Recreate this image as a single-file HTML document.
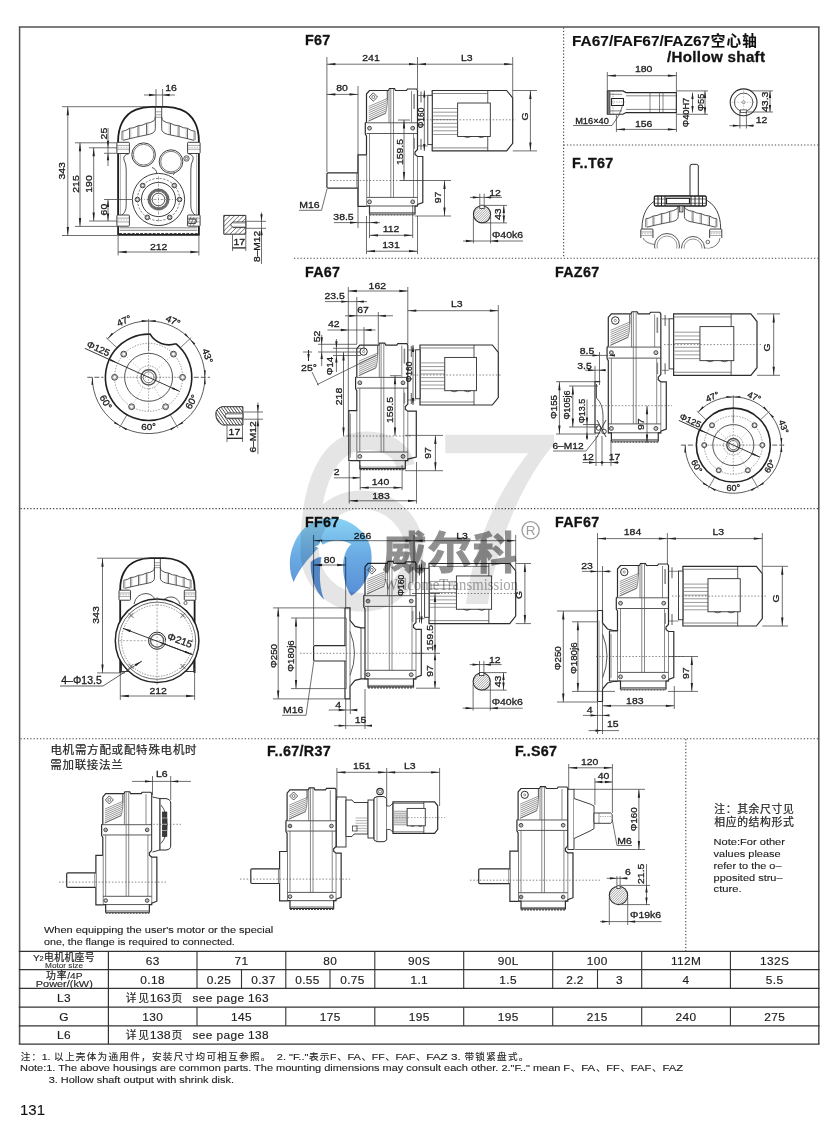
<!DOCTYPE html>
<html><head><meta charset="utf-8"><title>F67</title>
<style>html,body{margin:0;padding:0;background:#fff}svg{display:block}text{font-family:"Liberation Sans","Noto Sans CJK SC",sans-serif;stroke:#222;stroke-width:.3px;paint-order:stroke}</style>
</head><body>
<svg width="840" height="1126" viewBox="0 0 840 1126">
<rect width="840" height="1126" fill="#fff"/>
<line x1="18.80" y1="27.00" x2="819.60" y2="27.00" stroke="#505050" stroke-width="1.50"/>
<line x1="19.60" y1="27.00" x2="19.60" y2="1044.00" stroke="#505050" stroke-width="1.50"/>
<line x1="818.80" y1="27.00" x2="818.80" y2="1044.00" stroke="#505050" stroke-width="1.50"/>
<line x1="294.00" y1="258.20" x2="819.00" y2="258.20" stroke="#4a4a4a" stroke-width="1.15" stroke-dasharray="1.3 1.95"/>
<line x1="563.60" y1="27.50" x2="563.60" y2="258.20" stroke="#4a4a4a" stroke-width="1.15" stroke-dasharray="1.3 1.95"/>
<line x1="563.60" y1="145.00" x2="819.00" y2="145.00" stroke="#4a4a4a" stroke-width="1.15" stroke-dasharray="1.3 1.95"/>
<line x1="20.50" y1="508.60" x2="819.00" y2="508.60" stroke="#4a4a4a" stroke-width="1.15" stroke-dasharray="1.3 1.95"/>
<line x1="20.50" y1="738.70" x2="819.00" y2="738.70" stroke="#4a4a4a" stroke-width="1.15" stroke-dasharray="1.3 1.95"/>
<line x1="685.80" y1="739.00" x2="685.80" y2="951.00" stroke="#4a4a4a" stroke-width="1.15" stroke-dasharray="1.3 1.95"/>
<line x1="18.80" y1="951.40" x2="819.60" y2="951.40" stroke="#333" stroke-width="1.25"/>
<line x1="18.80" y1="969.70" x2="819.60" y2="969.70" stroke="#333" stroke-width="1.25"/>
<line x1="18.80" y1="988.40" x2="819.60" y2="988.40" stroke="#333" stroke-width="1.25"/>
<line x1="18.80" y1="1007.20" x2="819.60" y2="1007.20" stroke="#333" stroke-width="1.25"/>
<line x1="18.80" y1="1025.80" x2="819.60" y2="1025.80" stroke="#333" stroke-width="1.25"/>
<line x1="18.80" y1="1044.00" x2="819.60" y2="1044.00" stroke="#333" stroke-width="1.25"/>
<line x1="108.40" y1="951.40" x2="108.40" y2="1044.00" stroke="#333" stroke-width="1.20"/>
<line x1="197.00" y1="951.40" x2="197.00" y2="988.40" stroke="#333" stroke-width="1.10"/>
<line x1="197.00" y1="1007.20" x2="197.00" y2="1025.80" stroke="#333" stroke-width="1.10"/>
<line x1="285.80" y1="951.40" x2="285.80" y2="988.40" stroke="#333" stroke-width="1.10"/>
<line x1="285.80" y1="1007.20" x2="285.80" y2="1025.80" stroke="#333" stroke-width="1.10"/>
<line x1="374.80" y1="951.40" x2="374.80" y2="988.40" stroke="#333" stroke-width="1.10"/>
<line x1="374.80" y1="1007.20" x2="374.80" y2="1025.80" stroke="#333" stroke-width="1.10"/>
<line x1="463.70" y1="951.40" x2="463.70" y2="988.40" stroke="#333" stroke-width="1.10"/>
<line x1="463.70" y1="1007.20" x2="463.70" y2="1025.80" stroke="#333" stroke-width="1.10"/>
<line x1="552.70" y1="951.40" x2="552.70" y2="988.40" stroke="#333" stroke-width="1.10"/>
<line x1="552.70" y1="1007.20" x2="552.70" y2="1025.80" stroke="#333" stroke-width="1.10"/>
<line x1="641.70" y1="951.40" x2="641.70" y2="988.40" stroke="#333" stroke-width="1.10"/>
<line x1="641.70" y1="1007.20" x2="641.70" y2="1025.80" stroke="#333" stroke-width="1.10"/>
<line x1="730.40" y1="951.40" x2="730.40" y2="988.40" stroke="#333" stroke-width="1.10"/>
<line x1="730.40" y1="1007.20" x2="730.40" y2="1025.80" stroke="#333" stroke-width="1.10"/>
<line x1="241.50" y1="969.70" x2="241.50" y2="988.40" stroke="#333" stroke-width="1.10"/>
<line x1="330.00" y1="969.70" x2="330.00" y2="988.40" stroke="#333" stroke-width="1.10"/>
<line x1="597.50" y1="969.70" x2="597.50" y2="988.40" stroke="#333" stroke-width="1.10"/>
<text transform="translate(152.65,961.30) rotate(0.0) scale(1.100,1)" y="3.89" font-size="10.80" text-anchor="middle" fill="#1c1c1c" style="stroke-width:0.15px" letter-spacing="0.35">63</text>
<text transform="translate(241.40,961.30) rotate(0.0) scale(1.100,1)" y="3.89" font-size="10.80" text-anchor="middle" fill="#1c1c1c" style="stroke-width:0.15px" letter-spacing="0.35">71</text>
<text transform="translate(330.30,961.30) rotate(0.0) scale(1.100,1)" y="3.89" font-size="10.80" text-anchor="middle" fill="#1c1c1c" style="stroke-width:0.15px" letter-spacing="0.35">80</text>
<text transform="translate(419.25,961.30) rotate(0.0) scale(1.100,1)" y="3.89" font-size="10.80" text-anchor="middle" fill="#1c1c1c" style="stroke-width:0.15px" letter-spacing="0.35">90S</text>
<text transform="translate(508.20,961.30) rotate(0.0) scale(1.100,1)" y="3.89" font-size="10.80" text-anchor="middle" fill="#1c1c1c" style="stroke-width:0.15px" letter-spacing="0.35">90L</text>
<text transform="translate(597.20,961.30) rotate(0.0) scale(1.100,1)" y="3.89" font-size="10.80" text-anchor="middle" fill="#1c1c1c" style="stroke-width:0.15px" letter-spacing="0.35">100</text>
<text transform="translate(686.05,961.30) rotate(0.0) scale(1.100,1)" y="3.89" font-size="10.80" text-anchor="middle" fill="#1c1c1c" style="stroke-width:0.15px" letter-spacing="0.35">112M</text>
<text transform="translate(774.70,961.30) rotate(0.0) scale(1.100,1)" y="3.89" font-size="10.80" text-anchor="middle" fill="#1c1c1c" style="stroke-width:0.15px" letter-spacing="0.35">132S</text>
<text transform="translate(152.65,979.80) rotate(0.0) scale(1.100,1)" y="3.89" font-size="10.80" text-anchor="middle" fill="#1c1c1c" style="stroke-width:0.15px" letter-spacing="0.35">0.18</text>
<text transform="translate(219.00,979.80) rotate(0.0) scale(1.100,1)" y="3.89" font-size="10.80" text-anchor="middle" fill="#1c1c1c" style="stroke-width:0.15px" letter-spacing="0.35">0.25</text>
<text transform="translate(263.50,979.80) rotate(0.0) scale(1.100,1)" y="3.89" font-size="10.80" text-anchor="middle" fill="#1c1c1c" style="stroke-width:0.15px" letter-spacing="0.35">0.37</text>
<text transform="translate(307.50,979.80) rotate(0.0) scale(1.100,1)" y="3.89" font-size="10.80" text-anchor="middle" fill="#1c1c1c" style="stroke-width:0.15px" letter-spacing="0.35">0.55</text>
<text transform="translate(352.50,979.80) rotate(0.0) scale(1.100,1)" y="3.89" font-size="10.80" text-anchor="middle" fill="#1c1c1c" style="stroke-width:0.15px" letter-spacing="0.35">0.75</text>
<text transform="translate(419.25,979.80) rotate(0.0) scale(1.100,1)" y="3.89" font-size="10.80" text-anchor="middle" fill="#1c1c1c" style="stroke-width:0.15px" letter-spacing="0.35">1.1</text>
<text transform="translate(508.20,979.80) rotate(0.0) scale(1.100,1)" y="3.89" font-size="10.80" text-anchor="middle" fill="#1c1c1c" style="stroke-width:0.15px" letter-spacing="0.35">1.5</text>
<text transform="translate(575.00,979.80) rotate(0.0) scale(1.100,1)" y="3.89" font-size="10.80" text-anchor="middle" fill="#1c1c1c" style="stroke-width:0.15px" letter-spacing="0.35">2.2</text>
<text transform="translate(619.50,979.80) rotate(0.0) scale(1.100,1)" y="3.89" font-size="10.80" text-anchor="middle" fill="#1c1c1c" style="stroke-width:0.15px" letter-spacing="0.35">3</text>
<text transform="translate(686.05,979.80) rotate(0.0) scale(1.100,1)" y="3.89" font-size="10.80" text-anchor="middle" fill="#1c1c1c" style="stroke-width:0.15px" letter-spacing="0.35">4</text>
<text transform="translate(774.70,979.80) rotate(0.0) scale(1.100,1)" y="3.89" font-size="10.80" text-anchor="middle" fill="#1c1c1c" style="stroke-width:0.15px" letter-spacing="0.35">5.5</text>
<text transform="translate(152.65,1016.80) rotate(0.0) scale(1.100,1)" y="3.89" font-size="10.80" text-anchor="middle" fill="#1c1c1c" style="stroke-width:0.15px" letter-spacing="0.35">130</text>
<text transform="translate(241.40,1016.80) rotate(0.0) scale(1.100,1)" y="3.89" font-size="10.80" text-anchor="middle" fill="#1c1c1c" style="stroke-width:0.15px" letter-spacing="0.35">145</text>
<text transform="translate(330.30,1016.80) rotate(0.0) scale(1.100,1)" y="3.89" font-size="10.80" text-anchor="middle" fill="#1c1c1c" style="stroke-width:0.15px" letter-spacing="0.35">175</text>
<text transform="translate(419.25,1016.80) rotate(0.0) scale(1.100,1)" y="3.89" font-size="10.80" text-anchor="middle" fill="#1c1c1c" style="stroke-width:0.15px" letter-spacing="0.35">195</text>
<text transform="translate(508.20,1016.80) rotate(0.0) scale(1.100,1)" y="3.89" font-size="10.80" text-anchor="middle" fill="#1c1c1c" style="stroke-width:0.15px" letter-spacing="0.35">195</text>
<text transform="translate(597.20,1016.80) rotate(0.0) scale(1.100,1)" y="3.89" font-size="10.80" text-anchor="middle" fill="#1c1c1c" style="stroke-width:0.15px" letter-spacing="0.35">215</text>
<text transform="translate(686.05,1016.80) rotate(0.0) scale(1.100,1)" y="3.89" font-size="10.80" text-anchor="middle" fill="#1c1c1c" style="stroke-width:0.15px" letter-spacing="0.35">240</text>
<text transform="translate(774.70,1016.80) rotate(0.0) scale(1.100,1)" y="3.89" font-size="10.80" text-anchor="middle" fill="#1c1c1c" style="stroke-width:0.15px" letter-spacing="0.35">275</text>
<text transform="translate(64.00,998.30) rotate(0.0) scale(1.100,1)" y="3.89" font-size="10.80" text-anchor="middle" fill="#1c1c1c" style="stroke-width:0.15px" letter-spacing="0.35">L3</text>
<text transform="translate(64.00,1016.80) rotate(0.0) scale(1.100,1)" y="3.89" font-size="10.80" text-anchor="middle" fill="#1c1c1c" style="stroke-width:0.15px" letter-spacing="0.35">G</text>
<text transform="translate(64.00,1035.30) rotate(0.0) scale(1.100,1)" y="3.89" font-size="10.80" text-anchor="middle" fill="#1c1c1c" style="stroke-width:0.15px" letter-spacing="0.35">L6</text>
<g fill="#222"><text x="125.81 138.24" y="1002.20" font-size="10.80" style="stroke-width:.12px">详见</text><text x="149.85" y="1002.20" font-size="10.80" textLength="20.73" lengthAdjust="spacingAndGlyphs" style="stroke-width:.12px">163</text><text x="171.39" y="1002.20" font-size="10.80" style="stroke-width:.12px">页</text></g>
<text transform="translate(192.50,998.30) rotate(0.0) scale(1.100,1)" y="3.89" font-size="10.80" text-anchor="start" fill="#1c1c1c" style="stroke-width:0.15px" letter-spacing="0.35">see page 163</text>
<g fill="#222"><text x="125.81 138.24" y="1039.20" font-size="10.80" style="stroke-width:.12px">详见</text><text x="149.85" y="1039.20" font-size="10.80" textLength="20.73" lengthAdjust="spacingAndGlyphs" style="stroke-width:.12px">138</text><text x="171.39" y="1039.20" font-size="10.80" style="stroke-width:.12px">页</text></g>
<text transform="translate(192.50,1035.30) rotate(0.0) scale(1.100,1)" y="3.89" font-size="10.80" text-anchor="start" fill="#1c1c1c" style="stroke-width:0.15px" letter-spacing="0.35">see page 138</text>
<g fill="#222"><text x="33.00" y="960.60" font-size="9.50" textLength="6.80" lengthAdjust="spacingAndGlyphs" style="stroke-width:.12px">Y</text></g>
<g fill="#222"><text x="39.60" y="961.20" font-size="6.80" textLength="4.20" lengthAdjust="spacingAndGlyphs" style="stroke-width:.12px">2</text></g>
<g fill="#222"><text x="44.00 54.20 64.40 74.60 84.80" y="960.60" font-size="9.80" style="stroke-width:.2px">电机机座号</text></g>
<text transform="translate(64.00,966.00) rotate(0.0) scale(1.248,1)" y="2.38" font-size="6.60" text-anchor="middle" fill="#333" style="stroke-width:0.10px">Motor size</text>
<g fill="#222"><text x="46.02 56.87" y="978.80" font-size="9.80" style="stroke-width:.2px">功率</text><text x="67.20" y="978.80" font-size="9.40" textLength="15.30" lengthAdjust="spacingAndGlyphs" style="stroke-width:.12px">/4P</text></g>
<text transform="translate(64.30,984.00) rotate(0.0) scale(1.213,1)" y="3.24" font-size="9.00" text-anchor="middle" fill="#1c1c1c" style="stroke-width:0.12px">Power/(kW)</text>
<g fill="#222"><text x="20.64 31.51" y="1059.80" font-size="9.60" style="stroke-width:.12px">注：</text><text x="41.75" y="1059.80" font-size="9.30" textLength="8.79" lengthAdjust="spacingAndGlyphs" style="stroke-width:.12px">1.</text><text x="54.11 64.98 75.86 86.74 97.61 108.49 119.37 130.24 141.12 151.99 162.87 173.75 184.62 195.50 206.38 217.25 228.13 239.01 249.88 260.76" y="1059.80" font-size="9.60" style="stroke-width:.12px">以上壳体为通用件，安装尺寸均可相互参照。</text><text x="276.85" y="1059.80" font-size="9.30" textLength="31.49" lengthAdjust="spacingAndGlyphs" style="stroke-width:.12px">2. "F.."</text><text x="308.98 319.85" y="1059.80" font-size="9.60" style="stroke-width:.12px">表示</text><text x="330.09" y="1059.80" font-size="9.30" textLength="6.44" lengthAdjust="spacingAndGlyphs" style="stroke-width:.12px">F</text><text x="337.17" y="1059.80" font-size="9.60" style="stroke-width:.12px">、</text><text x="347.40" y="1059.80" font-size="9.30" textLength="13.46" lengthAdjust="spacingAndGlyphs" style="stroke-width:.12px">FA</text><text x="361.51" y="1059.80" font-size="9.60" style="stroke-width:.12px">、</text><text x="371.75" y="1059.80" font-size="9.30" textLength="12.87" lengthAdjust="spacingAndGlyphs" style="stroke-width:.12px">FF</text><text x="385.26" y="1059.80" font-size="9.60" style="stroke-width:.12px">、</text><text x="395.49" y="1059.80" font-size="9.30" textLength="19.90" lengthAdjust="spacingAndGlyphs" style="stroke-width:.12px">FAF</text><text x="416.03" y="1059.80" font-size="9.60" style="stroke-width:.12px">、</text><text x="426.27" y="1059.80" font-size="9.30" textLength="34.54" lengthAdjust="spacingAndGlyphs" style="stroke-width:.12px">FAZ  3.</text><text x="464.38 475.26 486.13 497.01 507.89 518.76" y="1059.80" font-size="9.60" style="stroke-width:.12px">带锁紧盘式。</text></g>
<g fill="#222"><text x="20.00" y="1071.30" font-size="9.30" textLength="550.06" lengthAdjust="spacingAndGlyphs" style="stroke-width:.12px">Note:1. The above housings are common parts. The mounting dimensions may consult each other.  2."F.." mean F</text><text x="570.86" y="1071.30" font-size="9.60" style="stroke-width:.12px">、</text><text x="581.26" y="1071.30" font-size="9.30" textLength="13.87" lengthAdjust="spacingAndGlyphs" style="stroke-width:.12px">FA</text><text x="595.93" y="1071.30" font-size="9.60" style="stroke-width:.12px">、</text><text x="606.33" y="1071.30" font-size="9.30" textLength="13.26" lengthAdjust="spacingAndGlyphs" style="stroke-width:.12px">FF</text><text x="620.40" y="1071.30" font-size="9.60" style="stroke-width:.12px">、</text><text x="630.80" y="1071.30" font-size="9.30" textLength="20.50" lengthAdjust="spacingAndGlyphs" style="stroke-width:.12px">FAF</text><text x="652.10" y="1071.30" font-size="9.60" style="stroke-width:.12px">、</text><text x="662.50" y="1071.30" font-size="9.30" textLength="20.50" lengthAdjust="spacingAndGlyphs" style="stroke-width:.12px">FAZ</text></g>
<text transform="translate(48.70,1080.00) rotate(0.0) scale(1.177,1)" y="3.35" font-size="9.30" text-anchor="start" fill="#1c1c1c" style="stroke-width:0.12px">3. Hollow shaft output with shrink disk.</text>
<text transform="translate(20.00,1110.00) rotate(0.0) scale(1.000,1)" y="5.40" font-size="15.00" text-anchor="start" fill="#111" style="stroke-width:0.10px">131</text>
<text transform="translate(305.00,39.50) rotate(0.0) scale(1.000,1)" y="5.15" font-size="14.30" text-anchor="start" fill="#111" font-weight="bold" letter-spacing="0.30">F67</text>
<text transform="translate(305.00,271.50) rotate(0.0) scale(1.000,1)" y="5.15" font-size="14.30" text-anchor="start" fill="#111" font-weight="bold" letter-spacing="0.30">FA67</text>
<text transform="translate(555.00,271.50) rotate(0.0) scale(1.000,1)" y="5.15" font-size="14.30" text-anchor="start" fill="#111" font-weight="bold" letter-spacing="0.30">FAZ67</text>
<text transform="translate(305.00,521.50) rotate(0.0) scale(1.000,1)" y="5.15" font-size="14.30" text-anchor="start" fill="#111" font-weight="bold" letter-spacing="0.30">FF67</text>
<text transform="translate(555.00,521.50) rotate(0.0) scale(1.000,1)" y="5.15" font-size="14.30" text-anchor="start" fill="#111" font-weight="bold" letter-spacing="0.30">FAF67</text>
<text transform="translate(572.00,162.40) rotate(0.0) scale(1.000,1)" y="5.15" font-size="14.30" text-anchor="start" fill="#111" font-weight="bold" letter-spacing="0.30">F..T67</text>
<text transform="translate(267.00,751.30) rotate(0.0) scale(1.000,1)" y="5.15" font-size="14.30" text-anchor="start" fill="#111" font-weight="bold" letter-spacing="0.30">F..67/R37</text>
<text transform="translate(515.00,751.30) rotate(0.0) scale(1.000,1)" y="5.15" font-size="14.30" text-anchor="start" fill="#111" font-weight="bold" letter-spacing="0.30">F..S67</text>
<g fill="#111"><text x="572.00" y="46.00" font-size="14.00" textLength="138.09" lengthAdjust="spacingAndGlyphs" style="stroke-width:.12px" font-weight="bold">FA67/FAF67/FAZ67</text><text x="710.69 726.50 742.30" y="46.00" font-size="14.60" font-weight="bold" style="stroke-width:.12px">空心轴</text></g>
<text transform="translate(667.00,56.80) rotate(0.0) scale(1.060,1)" y="5.15" font-size="14.30" text-anchor="start" fill="#111" font-weight="bold" letter-spacing="0.30">/Hollow shaft</text>
<g fill="#222"><text x="50.38 62.62 74.88 87.12 99.38 111.62 123.88 136.12 148.38 160.62 172.88 185.12" y="754.30" font-size="11.50" style="stroke-width:.2px">电机需方配或配特殊电机时</text></g>
<g fill="#222"><text x="50.33 62.50 74.67 86.83 99.00 111.17" y="769.30" font-size="11.50" style="stroke-width:.2px">需加联接法兰</text></g>
<text transform="translate(44.00,930.00) rotate(0.0) scale(1.170,1)" y="3.38" font-size="9.40" text-anchor="start" fill="#1c1c1c" style="stroke-width:0.12px">When equipping the user's motor or the special</text>
<text transform="translate(44.00,941.20) rotate(0.0) scale(1.139,1)" y="3.38" font-size="9.40" text-anchor="start" fill="#1c1c1c" style="stroke-width:0.12px">one, the flange is required to connected.</text>
<g fill="#222"><text x="714.31 725.74 737.17 748.60 760.03 771.46 782.89" y="812.60" font-size="10.80" style="stroke-width:.2px">注：其余尺寸见</text></g>
<g fill="#222"><text x="714.31 725.74 737.17 748.60 760.03 771.46 782.89" y="825.60" font-size="10.80" style="stroke-width:.2px">相应的结构形式</text></g>
<text transform="translate(713.60,841.80) rotate(0.0) scale(1.204,1)" y="3.31" font-size="9.20" text-anchor="start" fill="#1c1c1c" style="stroke-width:0.12px">Note:For other</text>
<text transform="translate(713.60,853.90) rotate(0.0) scale(1.191,1)" y="3.31" font-size="9.20" text-anchor="start" fill="#1c1c1c" style="stroke-width:0.12px">values please</text>
<text transform="translate(713.60,865.40) rotate(0.0) scale(1.187,1)" y="3.31" font-size="9.20" text-anchor="start" fill="#1c1c1c" style="stroke-width:0.12px">refer to the o–</text>
<text transform="translate(713.60,877.50) rotate(0.0) scale(1.194,1)" y="3.31" font-size="9.20" text-anchor="start" fill="#1c1c1c" style="stroke-width:0.12px">pposited stru–</text>
<text transform="translate(713.60,888.90) rotate(0.0) scale(1.217,1)" y="3.31" font-size="9.20" text-anchor="start" fill="#1c1c1c" style="stroke-width:0.12px">cture.</text>
<path d="M118.10 234.80 L118.10 141.10 C118.10 128.80 122.50 114.80 136.10 109.60 C141.50 107.40 146.50 106.80 151.00 106.80 L166.00 106.80 C170.50 106.80 175.50 107.40 180.90 109.60 C194.50 114.80 198.90 128.80 198.90 141.10 L198.90 234.80 Z" stroke="#1e1e1e" stroke-width="1.80" fill="#fff" />
<line x1="119.10" y1="233.60" x2="197.90" y2="233.60" stroke="#333" stroke-width="1.00" stroke-dasharray="3 1.2"/>
<line x1="119.60" y1="230.30" x2="197.40" y2="230.30" stroke="#505050" stroke-width="0.70"/>
<line x1="119.60" y1="227.80" x2="197.40" y2="227.80" stroke="#505050" stroke-width="0.70"/>
<path d="M155.30 106.30 L155.30 128.80 Q155.30 132.80 149.50 134.30 Q134.50 137.30 123.00 140.30" stroke="#2a2a2a" stroke-width="0.80" fill="none" />
<path d="M154.20 120.50 Q150.35 123.20 146.50 123.30 Q142.25 125.85 138.00 125.80 Q133.75 128.35 129.50 128.30 Q125.75 131.10 122.00 131.30" stroke="#2a2a2a" stroke-width="0.80" fill="none" />
<path d="M155.30 116.80 Q155.00 119.80 154.20 120.50" stroke="#2a2a2a" stroke-width="0.70" fill="none" />
<line x1="146.50" y1="123.30" x2="146.50" y2="134.80" stroke="#2a2a2a" stroke-width="0.70"/>
<line x1="147.80" y1="123.80" x2="147.80" y2="134.50" stroke="#777" stroke-width="0.45"/>
<line x1="138.00" y1="125.80" x2="138.00" y2="136.80" stroke="#2a2a2a" stroke-width="0.70"/>
<line x1="139.30" y1="126.30" x2="139.30" y2="136.50" stroke="#777" stroke-width="0.45"/>
<line x1="129.50" y1="128.30" x2="129.50" y2="138.80" stroke="#2a2a2a" stroke-width="0.70"/>
<line x1="130.80" y1="128.80" x2="130.80" y2="138.50" stroke="#777" stroke-width="0.45"/>
<line x1="122.00" y1="131.30" x2="122.00" y2="140.30" stroke="#2a2a2a" stroke-width="0.70"/>
<line x1="123.30" y1="131.80" x2="123.30" y2="140.00" stroke="#777" stroke-width="0.45"/>
<path d="M161.70 106.30 L161.70 128.80 Q161.70 132.80 167.50 134.30 Q182.50 137.30 194.00 140.30" stroke="#2a2a2a" stroke-width="0.80" fill="none" />
<path d="M162.80 120.50 Q166.65 123.20 170.50 123.30 Q174.75 125.85 179.00 125.80 Q183.25 128.35 187.50 128.30 Q191.25 131.10 195.00 131.30" stroke="#2a2a2a" stroke-width="0.80" fill="none" />
<path d="M161.70 116.80 Q162.00 119.80 162.80 120.50" stroke="#2a2a2a" stroke-width="0.70" fill="none" />
<line x1="170.50" y1="123.30" x2="170.50" y2="134.80" stroke="#2a2a2a" stroke-width="0.70"/>
<line x1="169.20" y1="123.80" x2="169.20" y2="134.50" stroke="#777" stroke-width="0.45"/>
<line x1="179.00" y1="125.80" x2="179.00" y2="136.80" stroke="#2a2a2a" stroke-width="0.70"/>
<line x1="177.70" y1="126.30" x2="177.70" y2="136.50" stroke="#777" stroke-width="0.45"/>
<line x1="187.50" y1="128.30" x2="187.50" y2="138.80" stroke="#2a2a2a" stroke-width="0.70"/>
<line x1="186.20" y1="128.80" x2="186.20" y2="138.50" stroke="#777" stroke-width="0.45"/>
<line x1="195.00" y1="131.30" x2="195.00" y2="140.30" stroke="#2a2a2a" stroke-width="0.70"/>
<line x1="193.70" y1="131.80" x2="193.70" y2="140.00" stroke="#777" stroke-width="0.45"/>
<line x1="155.30" y1="111.80" x2="161.70" y2="111.80" stroke="#505050" stroke-width="0.55"/>
<line x1="155.30" y1="114.80" x2="161.70" y2="114.80" stroke="#505050" stroke-width="0.55"/>
<line x1="155.30" y1="117.30" x2="161.70" y2="117.30" stroke="#505050" stroke-width="0.55"/>
<rect x="116.90" y="142.30" width="12.50" height="11.20" stroke="#2a2a2a" stroke-width="0.90" fill="#fff" rx="0.8"/>
<line x1="116.90" y1="145.44" x2="129.40" y2="145.44" stroke="#505050" stroke-width="0.50"/>
<line x1="116.90" y1="149.24" x2="129.40" y2="149.24" stroke="#505050" stroke-width="0.50"/>
<line x1="117.90" y1="147.34" x2="128.40" y2="147.34" stroke="#777" stroke-width="0.50" stroke-dasharray="1.5 1.2"/>
<rect x="187.60" y="142.30" width="12.50" height="11.20" stroke="#2a2a2a" stroke-width="0.90" fill="#fff" rx="0.8"/>
<line x1="187.60" y1="145.44" x2="200.10" y2="145.44" stroke="#505050" stroke-width="0.50"/>
<line x1="187.60" y1="149.24" x2="200.10" y2="149.24" stroke="#505050" stroke-width="0.50"/>
<line x1="188.60" y1="147.34" x2="199.10" y2="147.34" stroke="#777" stroke-width="0.50" stroke-dasharray="1.5 1.2"/>
<rect x="116.90" y="215.00" width="12.50" height="11.20" stroke="#2a2a2a" stroke-width="0.90" fill="#fff" rx="0.8"/>
<line x1="116.90" y1="218.14" x2="129.40" y2="218.14" stroke="#505050" stroke-width="0.50"/>
<line x1="116.90" y1="221.94" x2="129.40" y2="221.94" stroke="#505050" stroke-width="0.50"/>
<line x1="117.90" y1="220.04" x2="128.40" y2="220.04" stroke="#777" stroke-width="0.50" stroke-dasharray="1.5 1.2"/>
<rect x="187.60" y="215.00" width="12.50" height="11.20" stroke="#2a2a2a" stroke-width="0.90" fill="#fff" rx="0.8"/>
<line x1="187.60" y1="218.14" x2="200.10" y2="218.14" stroke="#505050" stroke-width="0.50"/>
<line x1="187.60" y1="221.94" x2="200.10" y2="221.94" stroke="#505050" stroke-width="0.50"/>
<line x1="188.60" y1="220.04" x2="199.10" y2="220.04" stroke="#777" stroke-width="0.50" stroke-dasharray="1.5 1.2"/>
<path d="M129.3 153.5 Q122.5 155 124 160 Q126.2 163 126.2 170 L126.2 205 Q126.2 212 122 215" stroke="#2a2a2a" stroke-width="0.80" fill="none" />
<path d="M187.7 153.5 Q194.5 155 193 160 Q190.8 163 190.8 170 L190.8 205 Q190.8 212 195 215" stroke="#2a2a2a" stroke-width="0.80" fill="none" />
<line x1="120.30" y1="153.50" x2="120.30" y2="215.50" stroke="#505050" stroke-width="0.50"/>
<line x1="196.70" y1="153.50" x2="196.70" y2="215.50" stroke="#505050" stroke-width="0.50"/>
<circle cx="143.60" cy="154.70" r="11.80" stroke="#2a2a2a" stroke-width="0.90" fill="#fff"/>
<circle cx="143.60" cy="154.70" r="10.30" stroke="#444" stroke-width="0.70" fill="none"/>
<circle cx="171.00" cy="161.60" r="11.80" stroke="#2a2a2a" stroke-width="0.90" fill="#fff"/>
<circle cx="171.00" cy="161.60" r="10.30" stroke="#444" stroke-width="0.70" fill="none"/>
<path d="M152 167.5 Q156.5 169 156.8 173.5" stroke="#2a2a2a" stroke-width="0.80" fill="none" />
<path d="M175 172.7 L173 175" stroke="#2a2a2a" stroke-width="0.70" fill="none" />
<circle cx="186.50" cy="158.50" r="2.70" stroke="#2a2a2a" stroke-width="0.80" fill="none"/>
<circle cx="186.50" cy="158.50" r="1.20" stroke="#2a2a2a" stroke-width="0.60" fill="none"/>
<circle cx="158.50" cy="199.50" r="26.10" stroke="#2a2a2a" stroke-width="0.90" fill="#fff"/>
<circle cx="158.50" cy="199.50" r="21.10" stroke="#444" stroke-width="0.70" fill="none" stroke-dasharray="2.2 1.5"/>
<circle cx="158.50" cy="199.50" r="17.10" stroke="#2a2a2a" stroke-width="0.90" fill="none"/>
<circle cx="158.50" cy="199.50" r="9.40" stroke="#6a6a6a" stroke-width="2.00" fill="none"/>
<circle cx="158.50" cy="199.50" r="10.60" stroke="#2a2a2a" stroke-width="0.60" fill="none"/>
<circle cx="158.50" cy="199.50" r="8.20" stroke="#2a2a2a" stroke-width="0.60" fill="none"/>
<circle cx="158.50" cy="199.50" r="6.30" stroke="#2a2a2a" stroke-width="0.80" fill="none"/>
<circle cx="174.30" cy="185.52" r="2.30" stroke="#2a2a2a" stroke-width="0.90" fill="#fff"/>
<circle cx="174.30" cy="185.52" r="1.30" stroke="#444" stroke-width="0.60" fill="none"/>
<circle cx="142.70" cy="185.52" r="2.30" stroke="#2a2a2a" stroke-width="0.90" fill="#fff"/>
<circle cx="142.70" cy="185.52" r="1.30" stroke="#444" stroke-width="0.60" fill="none"/>
<circle cx="137.40" cy="199.50" r="2.30" stroke="#2a2a2a" stroke-width="0.90" fill="#fff"/>
<circle cx="137.40" cy="199.50" r="1.30" stroke="#444" stroke-width="0.60" fill="none"/>
<circle cx="179.60" cy="199.50" r="2.30" stroke="#2a2a2a" stroke-width="0.90" fill="#fff"/>
<circle cx="179.60" cy="199.50" r="1.30" stroke="#444" stroke-width="0.60" fill="none"/>
<circle cx="147.32" cy="217.39" r="2.30" stroke="#2a2a2a" stroke-width="0.90" fill="#fff"/>
<circle cx="147.32" cy="217.39" r="1.30" stroke="#444" stroke-width="0.60" fill="none"/>
<circle cx="169.68" cy="217.39" r="2.30" stroke="#2a2a2a" stroke-width="0.90" fill="#fff"/>
<circle cx="169.68" cy="217.39" r="1.30" stroke="#444" stroke-width="0.60" fill="none"/>
<line x1="139.50" y1="199.50" x2="177.50" y2="199.50" stroke="#505050" stroke-width="0.50" stroke-dasharray="3 1.5 1 1.5"/>
<line x1="158.50" y1="176.50" x2="158.50" y2="222.50" stroke="#505050" stroke-width="0.50" stroke-dasharray="3 1.5 1 1.5"/>
<path d="M188.5 219 L195.5 219 Q197.5 221.2 195.5 223.4 L188.5 223.4" stroke="#222" stroke-width="0.90" fill="none" />
<path d="M187 225.5 L191 216.5 M190 226 L194 217 M193 226 L197 217.5" stroke="#444" stroke-width="0.60" fill="none" />
<line x1="156.00" y1="89.00" x2="156.00" y2="107.00" stroke="#404040" stroke-width="0.75"/>
<line x1="162.60" y1="89.00" x2="162.60" y2="107.00" stroke="#404040" stroke-width="0.75"/>
<line x1="144.00" y1="95.00" x2="175.00" y2="95.00" stroke="#404040" stroke-width="0.75"/>
<path d="M156.00 95.00 L149.00 96.15 L149.00 93.85 Z" fill="#222"/>
<path d="M162.60 95.00 L169.60 93.85 L169.60 96.15 Z" fill="#222"/>
<text transform="translate(171.00,88.00) rotate(0.0) scale(1.080,1)" y="3.49" font-size="9.70" text-anchor="middle" fill="#1c1c1c">16</text>
<line x1="62.00" y1="106.70" x2="150.00" y2="106.70" stroke="#404040" stroke-width="0.75"/>
<line x1="62.00" y1="235.50" x2="117.00" y2="235.50" stroke="#404040" stroke-width="0.75"/>
<line x1="67.80" y1="106.70" x2="67.80" y2="235.50" stroke="#404040" stroke-width="0.75"/>
<path d="M67.80 106.70 L68.95 115.20 L66.65 115.20 Z" fill="#222"/>
<path d="M67.80 235.50 L66.65 227.00 L68.95 227.00 Z" fill="#222"/>
<text transform="translate(61.80,170.80) rotate(-90.0) scale(1.080,1)" y="3.49" font-size="9.70" text-anchor="middle" fill="#1c1c1c">343</text>
<line x1="75.00" y1="142.80" x2="117.00" y2="142.80" stroke="#404040" stroke-width="0.75"/>
<line x1="75.00" y1="226.40" x2="117.00" y2="226.40" stroke="#404040" stroke-width="0.75"/>
<line x1="80.00" y1="142.80" x2="80.00" y2="226.40" stroke="#404040" stroke-width="0.75"/>
<path d="M80.00 142.80 L81.15 151.30 L78.85 151.30 Z" fill="#222"/>
<path d="M80.00 226.40 L78.85 217.90 L81.15 217.90 Z" fill="#222"/>
<text transform="translate(75.20,184.00) rotate(-90.0) scale(1.080,1)" y="3.49" font-size="9.70" text-anchor="middle" fill="#1c1c1c">215</text>
<line x1="89.00" y1="147.80" x2="117.00" y2="147.80" stroke="#404040" stroke-width="0.75"/>
<line x1="89.00" y1="221.00" x2="117.00" y2="221.00" stroke="#404040" stroke-width="0.75"/>
<line x1="93.70" y1="147.80" x2="93.70" y2="221.00" stroke="#404040" stroke-width="0.75"/>
<path d="M93.70 147.80 L94.85 156.30 L92.55 156.30 Z" fill="#222"/>
<path d="M93.70 221.00 L92.55 212.50 L94.85 212.50 Z" fill="#222"/>
<text transform="translate(88.50,184.00) rotate(-90.0) scale(1.080,1)" y="3.49" font-size="9.70" text-anchor="middle" fill="#1c1c1c">190</text>
<line x1="104.00" y1="153.30" x2="117.00" y2="153.30" stroke="#404040" stroke-width="0.75"/>
<line x1="108.00" y1="128.00" x2="108.00" y2="166.00" stroke="#404040" stroke-width="0.75"/>
<path d="M108.00 147.80 L106.85 140.80 L109.15 140.80 Z" fill="#222"/>
<path d="M108.00 153.30 L109.15 160.30 L106.85 160.30 Z" fill="#222"/>
<text transform="translate(103.70,133.60) rotate(-90.0) scale(1.080,1)" y="3.49" font-size="9.70" text-anchor="middle" fill="#1c1c1c">25</text>
<line x1="104.00" y1="199.50" x2="132.00" y2="199.50" stroke="#404040" stroke-width="0.75"/>
<line x1="108.00" y1="199.60" x2="108.00" y2="221.00" stroke="#404040" stroke-width="0.75"/>
<path d="M108.00 199.60 L109.15 207.10 L106.85 207.10 Z" fill="#222"/>
<path d="M108.00 221.00 L106.85 213.50 L109.15 213.50 Z" fill="#222"/>
<text transform="translate(103.70,209.60) rotate(-90.0) scale(1.080,1)" y="3.49" font-size="9.70" text-anchor="middle" fill="#1c1c1c">60</text>
<line x1="118.10" y1="236.00" x2="118.10" y2="255.50" stroke="#404040" stroke-width="0.75"/>
<line x1="198.90" y1="236.00" x2="198.90" y2="255.50" stroke="#404040" stroke-width="0.75"/>
<line x1="118.10" y1="252.00" x2="198.90" y2="252.00" stroke="#404040" stroke-width="0.75"/>
<path d="M118.10 252.00 L126.60 250.85 L126.60 253.15 Z" fill="#222"/>
<path d="M198.90 252.00 L190.40 253.15 L190.40 250.85 Z" fill="#222"/>
<text transform="translate(158.70,246.60) rotate(0.0) scale(1.080,1)" y="3.49" font-size="9.70" text-anchor="middle" fill="#1c1c1c">212</text>
<clipPath id="td215"><path d="M223.80 215.40 L245.80 215.40 L245.80 234.20 L223.80 234.20 Z"/></clipPath>
<path d="M183.80 234.20 L202.60 215.40 M188.40 234.20 L207.20 215.40 M193.00 234.20 L211.80 215.40 M197.60 234.20 L216.40 215.40 M202.20 234.20 L221.00 215.40 M206.80 234.20 L225.60 215.40 M211.40 234.20 L230.20 215.40 M216.00 234.20 L234.80 215.40 M220.60 234.20 L239.40 215.40 M225.20 234.20 L244.00 215.40 M229.80 234.20 L248.60 215.40 M234.40 234.20 L253.20 215.40 M239.00 234.20 L257.80 215.40 M243.60 234.20 L262.40 215.40 M248.20 234.20 L267.00 215.40 M252.80 234.20 L271.60 215.40 M257.40 234.20 L276.20 215.40 M262.00 234.20 L280.80 215.40 M266.60 234.20 L285.40 215.40 M271.20 234.20 L290.00 215.40 M275.80 234.20 L294.60 215.40 M280.40 234.20 L299.20 215.40" stroke="#3a3a3a" stroke-width="0.70" clip-path="url(#td215)" fill="none"/>
<path d="M223.80 215.40 L245.80 215.40 L245.80 234.20 L223.80 234.20 Z" stroke="#2a2a2a" stroke-width="1.00" fill="none" />
<path d="M245.80 222.00 L233.04 222.00 L230.54 224.80 L233.04 227.60 L245.80 227.60 Z" stroke="#2a2a2a" stroke-width="0.90" fill="#fff" />
<line x1="233.04" y1="223.20" x2="245.80" y2="223.20" stroke="#777" stroke-width="0.50"/>
<line x1="233.04" y1="226.40" x2="245.80" y2="226.40" stroke="#777" stroke-width="0.50"/>
<line x1="232.50" y1="234.50" x2="232.50" y2="251.00" stroke="#404040" stroke-width="0.75"/>
<line x1="245.80" y1="234.50" x2="245.80" y2="251.00" stroke="#404040" stroke-width="0.75"/>
<line x1="232.50" y1="247.90" x2="245.80" y2="247.90" stroke="#222" stroke-width="1.30"/>
<text transform="translate(239.20,241.30) rotate(0.0) scale(1.080,1)" y="3.49" font-size="9.70" text-anchor="middle" fill="#1c1c1c">17</text>
<line x1="246.00" y1="221.30" x2="266.00" y2="221.30" stroke="#404040" stroke-width="0.75"/>
<line x1="246.00" y1="228.30" x2="266.00" y2="228.30" stroke="#404040" stroke-width="0.75"/>
<line x1="261.50" y1="212.50" x2="261.50" y2="264.00" stroke="#404040" stroke-width="0.75"/>
<path d="M261.50 221.30 L260.35 214.30 L262.65 214.30 Z" fill="#222"/>
<path d="M261.50 228.30 L262.65 235.30 L260.35 235.30 Z" fill="#222"/>
<text transform="translate(256.70,246.40) rotate(-90.0) scale(1.050,1)" y="3.49" font-size="9.70" text-anchor="middle" fill="#1c1c1c">8–M12</text>
<path d="M120.20 672.90 L120.20 589.07 C120.20 578.00 124.25 565.40 136.77 560.72 C141.75 558.74 146.35 558.20 150.49 558.20 L164.31 558.20 C168.45 558.20 173.05 558.74 178.03 560.72 C190.55 565.40 194.60 578.00 194.60 589.07 L194.60 672.90" stroke="#1e1e1e" stroke-width="1.80" fill="#fff" />
<path d="M154.45 557.70 L154.45 578.00 Q154.45 581.60 149.11 582.95 Q135.30 585.65 124.71 588.35" stroke="#2a2a2a" stroke-width="0.80" fill="none" />
<path d="M153.44 570.53 Q149.90 572.96 146.35 573.05 Q142.44 575.35 138.52 575.30 Q134.61 577.60 130.70 577.55 Q127.24 580.07 123.79 580.25" stroke="#2a2a2a" stroke-width="0.80" fill="none" />
<path d="M154.45 567.20 Q154.15 569.90 153.44 570.53" stroke="#2a2a2a" stroke-width="0.70" fill="none" />
<line x1="146.35" y1="573.05" x2="146.35" y2="583.40" stroke="#2a2a2a" stroke-width="0.70"/>
<line x1="147.55" y1="573.50" x2="147.55" y2="583.13" stroke="#777" stroke-width="0.45"/>
<line x1="138.52" y1="575.30" x2="138.52" y2="585.20" stroke="#2a2a2a" stroke-width="0.70"/>
<line x1="139.72" y1="575.75" x2="139.72" y2="584.93" stroke="#777" stroke-width="0.45"/>
<line x1="130.70" y1="577.55" x2="130.70" y2="587.00" stroke="#2a2a2a" stroke-width="0.70"/>
<line x1="131.89" y1="578.00" x2="131.89" y2="586.73" stroke="#777" stroke-width="0.45"/>
<line x1="123.79" y1="580.25" x2="123.79" y2="588.35" stroke="#2a2a2a" stroke-width="0.70"/>
<line x1="124.99" y1="580.70" x2="124.99" y2="588.08" stroke="#777" stroke-width="0.45"/>
<path d="M160.35 557.70 L160.35 578.00 Q160.35 581.60 165.69 582.95 Q179.50 585.65 190.09 588.35" stroke="#2a2a2a" stroke-width="0.80" fill="none" />
<path d="M161.36 570.53 Q164.90 572.96 168.45 573.05 Q172.36 575.35 176.28 575.30 Q180.19 577.60 184.10 577.55 Q187.56 580.07 191.01 580.25" stroke="#2a2a2a" stroke-width="0.80" fill="none" />
<path d="M160.35 567.20 Q160.65 569.90 161.36 570.53" stroke="#2a2a2a" stroke-width="0.70" fill="none" />
<line x1="168.45" y1="573.05" x2="168.45" y2="583.40" stroke="#2a2a2a" stroke-width="0.70"/>
<line x1="167.25" y1="573.50" x2="167.25" y2="583.13" stroke="#777" stroke-width="0.45"/>
<line x1="176.28" y1="575.30" x2="176.28" y2="585.20" stroke="#2a2a2a" stroke-width="0.70"/>
<line x1="175.08" y1="575.75" x2="175.08" y2="584.93" stroke="#777" stroke-width="0.45"/>
<line x1="184.10" y1="577.55" x2="184.10" y2="587.00" stroke="#2a2a2a" stroke-width="0.70"/>
<line x1="182.91" y1="578.00" x2="182.91" y2="586.73" stroke="#777" stroke-width="0.45"/>
<line x1="191.01" y1="580.25" x2="191.01" y2="588.35" stroke="#2a2a2a" stroke-width="0.70"/>
<line x1="189.81" y1="580.70" x2="189.81" y2="588.08" stroke="#777" stroke-width="0.45"/>
<line x1="154.45" y1="562.70" x2="160.35" y2="562.70" stroke="#505050" stroke-width="0.55"/>
<line x1="154.45" y1="565.40" x2="160.35" y2="565.40" stroke="#505050" stroke-width="0.55"/>
<line x1="154.45" y1="567.65" x2="160.35" y2="567.65" stroke="#505050" stroke-width="0.55"/>
<rect x="119.00" y="590.15" width="11.51" height="10.08" stroke="#2a2a2a" stroke-width="0.90" fill="#fff" rx="0.8"/>
<line x1="119.00" y1="592.97" x2="130.51" y2="592.97" stroke="#505050" stroke-width="0.50"/>
<line x1="119.00" y1="596.40" x2="130.51" y2="596.40" stroke="#505050" stroke-width="0.50"/>
<line x1="120.00" y1="594.69" x2="129.51" y2="594.69" stroke="#777" stroke-width="0.50" stroke-dasharray="1.5 1.2"/>
<rect x="184.29" y="590.15" width="11.51" height="10.08" stroke="#2a2a2a" stroke-width="0.90" fill="#fff" rx="0.8"/>
<line x1="184.29" y1="592.97" x2="195.80" y2="592.97" stroke="#505050" stroke-width="0.50"/>
<line x1="184.29" y1="596.40" x2="195.80" y2="596.40" stroke="#505050" stroke-width="0.50"/>
<line x1="185.29" y1="594.69" x2="194.80" y2="594.69" stroke="#777" stroke-width="0.50" stroke-dasharray="1.5 1.2"/>
<rect x="121.50" y="660.00" width="12.00" height="11.50" stroke="#2a2a2a" stroke-width="0.90" fill="#fff"/>
<rect x="181.70" y="660.00" width="12.00" height="11.50" stroke="#2a2a2a" stroke-width="0.90" fill="#fff"/>
<path d="M134 604 Q136 594 146 593.5 Q153 594 155 600" stroke="#2a2a2a" stroke-width="0.80" fill="none" />
<path d="M161 603 Q165 596.5 172 597 Q178 598 180 604" stroke="#2a2a2a" stroke-width="0.80" fill="none" />
<circle cx="185.50" cy="603.00" r="1.60" stroke="#2a2a2a" stroke-width="0.70" fill="none"/>
<circle cx="157.10" cy="640.70" r="41.80" stroke="#222" stroke-width="1.50" fill="#fff"/>
<circle cx="157.10" cy="640.70" r="38.60" stroke="#2a2a2a" stroke-width="0.70" fill="none"/>
<circle cx="157.10" cy="640.70" r="35.60" stroke="#505050" stroke-width="0.60" fill="none" stroke-dasharray="1.5 1.3"/>
<circle cx="157.10" cy="640.70" r="8.60" stroke="#2a2a2a" stroke-width="1.00" fill="none"/>
<circle cx="157.10" cy="640.70" r="6.60" stroke="#666" stroke-width="1.40" fill="none"/>
<line x1="119.10" y1="640.70" x2="195.10" y2="640.70" stroke="#505050" stroke-width="0.50" stroke-dasharray="2 1.6"/>
<line x1="157.10" y1="596.70" x2="157.10" y2="684.70" stroke="#505050" stroke-width="0.50" stroke-dasharray="2 1.6"/>
<path d="M128.50 612.90 L133.50 617.90 M128.50 617.90 L133.50 612.90" stroke="#2a2a2a" stroke-width="0.70" fill="none" />
<path d="M128.50 663.90 L133.50 668.90 M128.50 668.90 L133.50 663.90" stroke="#2a2a2a" stroke-width="0.70" fill="none" />
<path d="M180.40 612.90 L185.40 617.90 M180.40 617.90 L185.40 612.90" stroke="#2a2a2a" stroke-width="0.70" fill="none" />
<path d="M180.40 663.90 L185.40 668.90 M180.40 668.90 L185.40 663.90" stroke="#2a2a2a" stroke-width="0.70" fill="none" />
<line x1="122.90" y1="628.30" x2="192.50" y2="654.60" stroke="#222" stroke-width="0.90"/>
<path d="M122.90 628.30 L130.79 630.05 L129.98 632.20 Z" fill="#222"/>
<path d="M192.50 654.60 L184.61 652.85 L185.42 650.70 Z" fill="#222"/>
<rect x="166" y="637" width="28" height="11" fill="#fff" transform="rotate(20.7 180 643)"/>
<line x1="160.00" y1="642.40" x2="192.50" y2="654.60" stroke="#222" stroke-width="0.90"/>
<text transform="translate(180.00,640.20) rotate(20.7) scale(1.050,1)" y="3.60" font-size="10.00" text-anchor="middle" fill="#1c1c1c">Φ215</text>
<line x1="97.00" y1="558.20" x2="150.00" y2="558.20" stroke="#404040" stroke-width="0.75"/>
<line x1="97.00" y1="672.90" x2="125.00" y2="672.90" stroke="#404040" stroke-width="0.75"/>
<line x1="102.50" y1="558.20" x2="102.50" y2="672.90" stroke="#404040" stroke-width="0.75"/>
<path d="M102.50 558.20 L103.65 566.70 L101.35 566.70 Z" fill="#222"/>
<path d="M102.50 672.90 L101.35 664.40 L103.65 664.40 Z" fill="#222"/>
<text transform="translate(96.00,615.00) rotate(-90.0) scale(1.080,1)" y="3.49" font-size="9.70" text-anchor="middle" fill="#1c1c1c">343</text>
<line x1="120.30" y1="668.00" x2="120.30" y2="700.00" stroke="#404040" stroke-width="0.75"/>
<line x1="194.60" y1="668.00" x2="194.60" y2="700.00" stroke="#404040" stroke-width="0.75"/>
<line x1="120.30" y1="696.00" x2="194.60" y2="696.00" stroke="#404040" stroke-width="0.75"/>
<path d="M120.30 696.00 L128.80 694.85 L128.80 697.15 Z" fill="#222"/>
<path d="M194.60 696.00 L186.10 697.15 L186.10 694.85 Z" fill="#222"/>
<text transform="translate(158.20,690.60) rotate(0.0) scale(1.080,1)" y="3.49" font-size="9.70" text-anchor="middle" fill="#1c1c1c">212</text>
<text transform="translate(81.50,680.30) rotate(0.0) scale(1.050,1)" y="3.60" font-size="10.00" text-anchor="middle" fill="#1c1c1c">4–Φ13.5</text>
<path d="M60.00 686.00 L103.00 686.00 L142.00 661.00" stroke="#333" stroke-width="0.80" fill="none" />
<path d="M142.00 661.00 L135.89 666.29 L134.65 664.35 Z" fill="#222"/>
<path d="M175.79 343.73 A43.20 43.20 0 1 1 150.11 334.13 A22.00 22.00 0 0 0 175.79 343.73" stroke="#222" stroke-width="1.60" fill="#fff" />
<circle cx="148.60" cy="377.30" r="34.00" stroke="#505050" stroke-width="0.60" fill="none" stroke-dasharray="1.4 1.4"/>
<circle cx="148.60" cy="377.30" r="24.00" stroke="#2a2a2a" stroke-width="0.80" fill="none"/>
<circle cx="148.60" cy="377.30" r="11.40" stroke="#505050" stroke-width="0.60" fill="none" stroke-dasharray="1.4 1.2"/>
<circle cx="148.60" cy="377.30" r="7.60" stroke="#555" stroke-width="1.50" fill="none"/>
<circle cx="148.60" cy="377.30" r="5.40" stroke="#2a2a2a" stroke-width="0.60" fill="none"/>
<line x1="114.60" y1="377.30" x2="182.60" y2="377.30" stroke="#505050" stroke-width="0.50" stroke-dasharray="1.5 1.5"/>
<line x1="148.60" y1="343.30" x2="148.60" y2="411.30" stroke="#505050" stroke-width="0.50" stroke-dasharray="1.5 1.5"/>
<circle cx="123.73" cy="354.11" r="2.90" stroke="#2a2a2a" stroke-width="0.90" fill="#fff"/>
<circle cx="123.73" cy="354.11" r="1.90" stroke="#505050" stroke-width="0.50" fill="none"/>
<line x1="140.26" y1="369.53" x2="123.73" y2="354.11" stroke="#777" stroke-width="0.45" stroke-dasharray="1.2 1.6"/>
<circle cx="173.47" cy="354.11" r="2.90" stroke="#2a2a2a" stroke-width="0.90" fill="#fff"/>
<circle cx="173.47" cy="354.11" r="1.90" stroke="#505050" stroke-width="0.50" fill="none"/>
<line x1="156.94" y1="369.53" x2="173.47" y2="354.11" stroke="#777" stroke-width="0.45" stroke-dasharray="1.2 1.6"/>
<circle cx="114.60" cy="377.30" r="2.90" stroke="#2a2a2a" stroke-width="0.90" fill="#fff"/>
<circle cx="114.60" cy="377.30" r="1.90" stroke="#505050" stroke-width="0.50" fill="none"/>
<line x1="137.20" y1="377.30" x2="114.60" y2="377.30" stroke="#777" stroke-width="0.45" stroke-dasharray="1.2 1.6"/>
<circle cx="182.60" cy="377.30" r="2.90" stroke="#2a2a2a" stroke-width="0.90" fill="#fff"/>
<circle cx="182.60" cy="377.30" r="1.90" stroke="#505050" stroke-width="0.50" fill="none"/>
<line x1="160.00" y1="377.30" x2="182.60" y2="377.30" stroke="#777" stroke-width="0.45" stroke-dasharray="1.2 1.6"/>
<circle cx="131.60" cy="406.74" r="2.90" stroke="#2a2a2a" stroke-width="0.90" fill="#fff"/>
<circle cx="131.60" cy="406.74" r="1.90" stroke="#505050" stroke-width="0.50" fill="none"/>
<line x1="142.90" y1="387.17" x2="131.60" y2="406.74" stroke="#777" stroke-width="0.45" stroke-dasharray="1.2 1.6"/>
<circle cx="165.60" cy="406.74" r="2.90" stroke="#2a2a2a" stroke-width="0.90" fill="#fff"/>
<circle cx="165.60" cy="406.74" r="1.90" stroke="#505050" stroke-width="0.50" fill="none"/>
<line x1="154.30" y1="387.17" x2="165.60" y2="406.74" stroke="#777" stroke-width="0.45" stroke-dasharray="1.2 1.6"/>
<path d="M107.42 338.90 A56.30 56.30 0 1 1 92.30 377.30" stroke="#333" stroke-width="0.80" fill="none" />
<line x1="117.01" y1="347.84" x2="105.96" y2="337.54" stroke="#444" stroke-width="0.70"/>
<line x1="148.60" y1="351.30" x2="148.60" y2="319.00" stroke="#444" stroke-width="0.70"/>
<line x1="180.19" y1="347.84" x2="191.24" y2="337.54" stroke="#444" stroke-width="0.70"/>
<line x1="170.20" y1="414.71" x2="177.75" y2="427.79" stroke="#444" stroke-width="0.70"/>
<line x1="127.00" y1="414.71" x2="119.45" y2="427.79" stroke="#444" stroke-width="0.70"/>
<line x1="193.80" y1="377.30" x2="209.90" y2="377.30" stroke="#333" stroke-width="0.80" stroke-dasharray="5 2"/>
<line x1="87.30" y1="377.30" x2="103.40" y2="377.30" stroke="#333" stroke-width="0.80" stroke-dasharray="5 2"/>
<path d="M107.42 338.90 L111.88 332.80 L113.20 334.03 Z" fill="#222"/>
<path d="M148.60 321.00 L141.60 321.90 L141.60 320.10 Z" fill="#222"/>
<path d="M148.60 321.00 L155.60 320.10 L155.60 321.90 Z" fill="#222"/>
<path d="M189.78 338.90 L184.34 334.40 L185.66 333.17 Z" fill="#222"/>
<path d="M189.78 338.90 L195.21 343.41 L193.89 344.64 Z" fill="#222"/>
<path d="M204.90 377.30 L204.00 370.30 L205.80 370.30 Z" fill="#222"/>
<path d="M204.90 377.30 L205.80 384.30 L204.00 384.30 Z" fill="#222"/>
<path d="M176.75 426.06 L182.36 421.78 L183.26 423.34 Z" fill="#222"/>
<path d="M176.75 426.06 L171.14 430.34 L170.24 428.78 Z" fill="#222"/>
<path d="M120.45 426.06 L126.96 428.78 L126.06 430.34 Z" fill="#222"/>
<path d="M120.45 426.06 L113.94 423.34 L114.84 421.78 Z" fill="#222"/>
<path d="M92.30 377.30 L93.20 384.80 L91.40 384.80 Z" fill="#222"/>
<text transform="translate(123.96,320.63) rotate(-23.5) scale(1.050,1)" y="3.38" font-size="9.40" text-anchor="middle" fill="#1c1c1c">47°</text>
<text transform="translate(173.24,320.63) rotate(23.5) scale(1.050,1)" y="3.38" font-size="9.40" text-anchor="middle" fill="#1c1c1c">47°</text>
<text transform="translate(207.61,355.82) rotate(70.0) scale(1.050,1)" y="3.38" font-size="9.40" text-anchor="middle" fill="#1c1c1c">43°</text>
<text transform="translate(191.30,401.95) rotate(-60.0) scale(1.050,1)" y="3.38" font-size="9.40" text-anchor="middle" fill="#1c1c1c">60°</text>
<text transform="translate(148.60,427.10) rotate(0.0) scale(1.050,1)" y="3.38" font-size="9.40" text-anchor="middle" fill="#1c1c1c">60°</text>
<text transform="translate(105.90,401.95) rotate(60.0) scale(1.050,1)" y="3.38" font-size="9.40" text-anchor="middle" fill="#1c1c1c">60°</text>
<line x1="84.85" y1="348.38" x2="179.56" y2="391.35" stroke="#222" stroke-width="0.90"/>
<path d="M117.64 363.25 L109.94 360.86 L110.76 359.04 Z" fill="#222"/>
<path d="M179.56 391.35 L171.86 388.95 L172.69 387.13 Z" fill="#222"/>
<text transform="translate(98.44,348.35) rotate(24.4) scale(1.050,1)" y="3.38" font-size="9.40" text-anchor="middle" fill="#1c1c1c">Φ125</text>
<circle cx="733.30" cy="445.10" r="36.94" stroke="#222" stroke-width="1.60" fill="#fff"/>
<circle cx="733.30" cy="445.10" r="29.07" stroke="#505050" stroke-width="0.60" fill="none" stroke-dasharray="1.4 1.4"/>
<circle cx="733.30" cy="445.10" r="20.52" stroke="#2a2a2a" stroke-width="0.80" fill="none"/>
<circle cx="733.30" cy="445.10" r="9.75" stroke="#505050" stroke-width="0.60" fill="none" stroke-dasharray="1.4 1.2"/>
<circle cx="733.30" cy="445.10" r="6.50" stroke="#555" stroke-width="1.50" fill="none"/>
<circle cx="733.30" cy="445.10" r="4.62" stroke="#2a2a2a" stroke-width="0.60" fill="none"/>
<line x1="704.23" y1="445.10" x2="762.37" y2="445.10" stroke="#505050" stroke-width="0.50" stroke-dasharray="1.5 1.5"/>
<line x1="733.30" y1="416.03" x2="733.30" y2="474.17" stroke="#505050" stroke-width="0.50" stroke-dasharray="1.5 1.5"/>
<circle cx="712.04" cy="425.27" r="2.48" stroke="#2a2a2a" stroke-width="0.90" fill="#fff"/>
<circle cx="712.04" cy="425.27" r="1.62" stroke="#505050" stroke-width="0.50" fill="none"/>
<line x1="726.17" y1="438.45" x2="712.04" y2="425.27" stroke="#777" stroke-width="0.45" stroke-dasharray="1.2 1.6"/>
<circle cx="754.56" cy="425.27" r="2.48" stroke="#2a2a2a" stroke-width="0.90" fill="#fff"/>
<circle cx="754.56" cy="425.27" r="1.62" stroke="#505050" stroke-width="0.50" fill="none"/>
<line x1="740.43" y1="438.45" x2="754.56" y2="425.27" stroke="#777" stroke-width="0.45" stroke-dasharray="1.2 1.6"/>
<circle cx="704.23" cy="445.10" r="2.48" stroke="#2a2a2a" stroke-width="0.90" fill="#fff"/>
<circle cx="704.23" cy="445.10" r="1.62" stroke="#505050" stroke-width="0.50" fill="none"/>
<line x1="723.55" y1="445.10" x2="704.23" y2="445.10" stroke="#777" stroke-width="0.45" stroke-dasharray="1.2 1.6"/>
<circle cx="762.37" cy="445.10" r="2.48" stroke="#2a2a2a" stroke-width="0.90" fill="#fff"/>
<circle cx="762.37" cy="445.10" r="1.62" stroke="#505050" stroke-width="0.50" fill="none"/>
<line x1="743.05" y1="445.10" x2="762.37" y2="445.10" stroke="#777" stroke-width="0.45" stroke-dasharray="1.2 1.6"/>
<circle cx="718.76" cy="470.28" r="2.48" stroke="#2a2a2a" stroke-width="0.90" fill="#fff"/>
<circle cx="718.76" cy="470.28" r="1.62" stroke="#505050" stroke-width="0.50" fill="none"/>
<line x1="728.43" y1="453.54" x2="718.76" y2="470.28" stroke="#777" stroke-width="0.45" stroke-dasharray="1.2 1.6"/>
<circle cx="747.83" cy="470.28" r="2.48" stroke="#2a2a2a" stroke-width="0.90" fill="#fff"/>
<circle cx="747.83" cy="470.28" r="1.62" stroke="#505050" stroke-width="0.50" fill="none"/>
<line x1="738.17" y1="453.54" x2="747.83" y2="470.28" stroke="#777" stroke-width="0.45" stroke-dasharray="1.2 1.6"/>
<path d="M698.10 412.27 A48.14 48.14 0 1 1 685.16 445.10" stroke="#333" stroke-width="0.80" fill="none" />
<line x1="706.29" y1="419.91" x2="696.84" y2="411.10" stroke="#444" stroke-width="0.70"/>
<line x1="733.30" y1="422.58" x2="733.30" y2="395.25" stroke="#444" stroke-width="0.70"/>
<line x1="760.31" y1="419.91" x2="769.76" y2="411.10" stroke="#444" stroke-width="0.70"/>
<line x1="751.77" y1="477.09" x2="758.22" y2="488.27" stroke="#444" stroke-width="0.70"/>
<line x1="714.83" y1="477.09" x2="708.38" y2="488.27" stroke="#444" stroke-width="0.70"/>
<line x1="772.24" y1="445.10" x2="785.71" y2="445.10" stroke="#333" stroke-width="0.80" stroke-dasharray="5 2"/>
<line x1="680.89" y1="445.10" x2="694.36" y2="445.10" stroke="#333" stroke-width="0.80" stroke-dasharray="5 2"/>
<path d="M698.10 412.27 L702.55 406.17 L703.87 407.40 Z" fill="#222"/>
<path d="M733.30 396.96 L726.30 397.86 L726.30 396.06 Z" fill="#222"/>
<path d="M733.30 396.96 L740.30 396.06 L740.30 397.86 Z" fill="#222"/>
<path d="M768.50 412.27 L763.07 407.77 L764.39 406.54 Z" fill="#222"/>
<path d="M768.50 412.27 L773.94 416.78 L772.62 418.00 Z" fill="#222"/>
<path d="M781.44 445.10 L780.54 438.10 L782.34 438.10 Z" fill="#222"/>
<path d="M781.44 445.10 L782.34 452.10 L780.54 452.10 Z" fill="#222"/>
<path d="M757.37 486.79 L762.98 482.51 L763.88 484.07 Z" fill="#222"/>
<path d="M757.37 486.79 L751.76 491.07 L750.86 489.51 Z" fill="#222"/>
<path d="M709.23 486.79 L715.74 489.51 L714.84 491.07 Z" fill="#222"/>
<path d="M709.23 486.79 L702.72 484.07 L703.62 482.51 Z" fill="#222"/>
<path d="M685.16 445.10 L686.06 452.60 L684.26 452.60 Z" fill="#222"/>
<text transform="translate(712.23,396.64) rotate(-23.5) scale(1.050,1)" y="3.11" font-size="8.65" text-anchor="middle" fill="#1c1c1c">47°</text>
<text transform="translate(754.37,396.64) rotate(23.5) scale(1.050,1)" y="3.11" font-size="8.65" text-anchor="middle" fill="#1c1c1c">47°</text>
<text transform="translate(783.76,426.74) rotate(70.0) scale(1.050,1)" y="3.11" font-size="8.65" text-anchor="middle" fill="#1c1c1c">43°</text>
<text transform="translate(769.80,466.18) rotate(-60.0) scale(1.050,1)" y="3.11" font-size="8.65" text-anchor="middle" fill="#1c1c1c">60°</text>
<text transform="translate(733.30,487.68) rotate(0.0) scale(1.050,1)" y="3.11" font-size="8.65" text-anchor="middle" fill="#1c1c1c">60°</text>
<text transform="translate(696.80,466.18) rotate(60.0) scale(1.050,1)" y="3.11" font-size="8.65" text-anchor="middle" fill="#1c1c1c">60°</text>
<line x1="678.80" y1="420.38" x2="759.77" y2="457.11" stroke="#222" stroke-width="0.90"/>
<path d="M706.83 433.09 L699.13 430.70 L699.95 428.88 Z" fill="#222"/>
<path d="M759.77 457.11 L752.08 454.71 L752.90 452.89 Z" fill="#222"/>
<text transform="translate(690.41,420.34) rotate(24.4) scale(1.050,1)" y="3.11" font-size="8.65" text-anchor="middle" fill="#1c1c1c">Φ125</text>
<clipPath id="td406"><path d="M221.80 406.70 L242.90 406.70 L242.90 425.00 L222.80 425.00 Q215.80 422.00 215.80 413.70 Q215.80 408.70 221.80 406.70 Z"/></clipPath>
<path d="M175.80 406.70 L188.61 425.00 M178.80 406.70 L191.61 425.00 M181.80 406.70 L194.61 425.00 M184.80 406.70 L197.61 425.00 M187.80 406.70 L200.61 425.00 M190.80 406.70 L203.61 425.00 M193.80 406.70 L206.61 425.00 M196.80 406.70 L209.61 425.00 M199.80 406.70 L212.61 425.00 M202.80 406.70 L215.61 425.00 M205.80 406.70 L218.61 425.00 M208.80 406.70 L221.61 425.00 M211.80 406.70 L224.61 425.00 M214.80 406.70 L227.61 425.00 M217.80 406.70 L230.61 425.00 M220.80 406.70 L233.61 425.00 M223.80 406.70 L236.61 425.00 M226.80 406.70 L239.61 425.00 M229.80 406.70 L242.61 425.00 M232.80 406.70 L245.61 425.00 M235.80 406.70 L248.61 425.00 M238.80 406.70 L251.61 425.00 M241.80 406.70 L254.61 425.00 M244.80 406.70 L257.61 425.00 M247.80 406.70 L260.61 425.00 M250.80 406.70 L263.61 425.00 M253.80 406.70 L266.61 425.00 M256.80 406.70 L269.61 425.00 M259.80 406.70 L272.61 425.00 M262.80 406.70 L275.61 425.00 M265.80 406.70 L278.61 425.00 M268.80 406.70 L281.61 425.00 M271.80 406.70 L284.61 425.00 M274.80 406.70 L287.61 425.00" stroke="#3a3a3a" stroke-width="0.90" clip-path="url(#td406)" fill="none"/>
<path d="M221.80 406.70 L242.90 406.70 L242.90 425.00 L222.80 425.00 Q215.80 422.00 215.80 413.70 Q215.80 408.70 221.80 406.70 Z" stroke="#2a2a2a" stroke-width="1.00" fill="none" />
<path d="M242.90 413.05 L227.18 413.05 L224.68 415.85 L227.18 418.65 L242.90 418.65 Z" stroke="#2a2a2a" stroke-width="0.90" fill="#fff" />
<line x1="227.18" y1="414.25" x2="242.90" y2="414.25" stroke="#777" stroke-width="0.50"/>
<line x1="227.18" y1="417.45" x2="242.90" y2="417.45" stroke="#777" stroke-width="0.50"/>
<line x1="227.00" y1="425.50" x2="227.00" y2="442.00" stroke="#404040" stroke-width="0.75"/>
<line x1="242.50" y1="425.50" x2="242.50" y2="442.00" stroke="#404040" stroke-width="0.75"/>
<line x1="227.00" y1="438.30" x2="242.50" y2="438.30" stroke="#222" stroke-width="1.30"/>
<text transform="translate(234.40,432.00) rotate(0.0) scale(1.080,1)" y="3.49" font-size="9.70" text-anchor="middle" fill="#1c1c1c">17</text>
<line x1="243.50" y1="412.00" x2="263.00" y2="412.00" stroke="#404040" stroke-width="0.75"/>
<line x1="243.50" y1="419.20" x2="263.00" y2="419.20" stroke="#404040" stroke-width="0.75"/>
<line x1="257.90" y1="402.50" x2="257.90" y2="454.00" stroke="#404040" stroke-width="0.75"/>
<path d="M257.90 412.00 L256.75 405.00 L259.05 405.00 Z" fill="#222"/>
<path d="M257.90 419.20 L259.05 426.20 L256.75 426.20 Z" fill="#222"/>
<text transform="translate(252.70,437.00) rotate(-90.0) scale(1.050,1)" y="3.49" font-size="9.70" text-anchor="middle" fill="#1c1c1c">6–M12</text>
<path d="M366.50 94.00 L369.50 90.50 L388.50 90.50 L389.50 88.50 L394.50 88.50 L395.50 90.50 L406.50 90.50 L407.50 89.00 L416.50 89.00 L417.50 90.50 L417.50 149.50 L415.00 152.00 L415.00 154.50 L417.50 156.50 L422.80 156.50 L422.80 202.50 L417.50 204.50 L417.50 206.00 L415.00 206.00 L415.00 214.00 L369.50 214.00 L369.50 206.00 L366.50 206.00 L366.50 136.00 L365.30 134.00 L365.30 123.00 L366.50 122.00 Z" stroke="#2e2e2e" stroke-width="1.20" fill="#fff" />
<line x1="369.50" y1="215.00" x2="415.00" y2="215.00" stroke="#444" stroke-width="1.20" stroke-dasharray="2 1"/>
<line x1="369.50" y1="212.50" x2="415.00" y2="212.50" stroke="#555" stroke-width="0.70"/>
<line x1="366.50" y1="122.80" x2="417.50" y2="122.80" stroke="#2e2e2e" stroke-width="0.80"/>
<line x1="366.50" y1="133.50" x2="417.50" y2="133.50" stroke="#2e2e2e" stroke-width="0.80"/>
<line x1="366.50" y1="197.40" x2="417.50" y2="197.40" stroke="#2e2e2e" stroke-width="0.80"/>
<line x1="366.50" y1="206.00" x2="417.50" y2="206.00" stroke="#2e2e2e" stroke-width="0.80"/>
<line x1="369.50" y1="133.50" x2="369.50" y2="197.40" stroke="#555" stroke-width="0.70"/>
<line x1="413.50" y1="133.50" x2="413.50" y2="197.40" stroke="#555" stroke-width="0.70"/>
<line x1="390.80" y1="89.00" x2="390.80" y2="197.40" stroke="#555" stroke-width="0.70"/>
<line x1="393.50" y1="89.00" x2="393.50" y2="197.40" stroke="#555" stroke-width="0.70"/>
<line x1="389.00" y1="90.00" x2="389.00" y2="122.80" stroke="#555" stroke-width="0.70"/>
<line x1="411.50" y1="91.00" x2="411.50" y2="122.80" stroke="#555" stroke-width="0.70"/>
<circle cx="369.50" cy="128.20" r="1.90" stroke="#2e2e2e" stroke-width="0.90" fill="#fff"/>
<path d="M368.45 128.20 L369.50 127.15 L370.55 128.20 L369.50 129.24 Z" stroke="#2e2e2e" stroke-width="0.50" fill="none" />
<circle cx="369.50" cy="201.80" r="1.90" stroke="#2e2e2e" stroke-width="0.90" fill="#fff"/>
<path d="M368.45 201.80 L369.50 200.76 L370.55 201.80 L369.50 202.84 Z" stroke="#2e2e2e" stroke-width="0.50" fill="none" />
<circle cx="412.70" cy="128.20" r="1.90" stroke="#2e2e2e" stroke-width="0.90" fill="#fff"/>
<path d="M411.65 128.20 L412.70 127.15 L413.75 128.20 L412.70 129.24 Z" stroke="#2e2e2e" stroke-width="0.50" fill="none" />
<circle cx="412.70" cy="201.80" r="1.90" stroke="#2e2e2e" stroke-width="0.90" fill="#fff"/>
<path d="M411.65 201.80 L412.70 200.76 L413.75 201.80 L412.70 202.84 Z" stroke="#2e2e2e" stroke-width="0.50" fill="none" />
<line x1="368.70" y1="106.50" x2="387.30" y2="98.50" stroke="#444" stroke-width="0.55"/>
<line x1="368.70" y1="108.57" x2="387.04" y2="100.57" stroke="#444" stroke-width="0.55"/>
<line x1="368.70" y1="110.64" x2="386.79" y2="102.64" stroke="#444" stroke-width="0.55"/>
<line x1="368.70" y1="112.71" x2="386.53" y2="104.71" stroke="#444" stroke-width="0.55"/>
<line x1="368.70" y1="114.79" x2="386.27" y2="106.79" stroke="#444" stroke-width="0.55"/>
<line x1="368.70" y1="116.86" x2="386.01" y2="108.86" stroke="#444" stroke-width="0.55"/>
<line x1="368.70" y1="118.93" x2="385.76" y2="110.93" stroke="#444" stroke-width="0.55"/>
<line x1="368.70" y1="121.00" x2="385.50" y2="113.00" stroke="#444" stroke-width="0.55"/>
<path d="M387.30 91.00 Q388.00 106.00 385.50 113.50 L368.50 121.00" stroke="#555" stroke-width="0.70" fill="none" />
<line x1="387.30" y1="91.00" x2="387.30" y2="100.00" stroke="#555" stroke-width="0.70"/>
<path d="M369.10 97.00 L373.30 92.80 L377.50 97.00 L373.30 101.20 Z" stroke="#2e2e2e" stroke-width="0.80" fill="none" />
<circle cx="373.30" cy="97.00" r="1.50" stroke="#2e2e2e" stroke-width="0.60" fill="none"/>
<line x1="417.50" y1="156.50" x2="417.50" y2="204.50" stroke="#555" stroke-width="0.70"/>
<line x1="414.10" y1="94.00" x2="414.10" y2="109.00" stroke="#888" stroke-width="1.60"/>
<line x1="414.10" y1="138.00" x2="414.10" y2="149.00" stroke="#888" stroke-width="1.60"/>
<path d="M366.50 154.80 L358.00 154.80 L358.00 206.30 L366.50 206.30" stroke="#2e2e2e" stroke-width="1.20" fill="#fff" />
<path d="M358.00 172.90 L328.10 172.90 Q326.90 172.90 326.90 174.10 L326.90 186.90 Q326.90 188.10 328.10 188.10 L358.00 188.10" stroke="#2e2e2e" stroke-width="1.20" fill="#fff" />
<line x1="356.80" y1="172.90" x2="356.80" y2="188.10" stroke="#555" stroke-width="0.70"/>
<path d="M432.20 90.50 L506.70 90.50 L512.70 98.00 L512.70 143.40 L506.70 150.90 L432.20 150.90 Z" stroke="#2e2e2e" stroke-width="1.20" fill="#fff" />
<line x1="432.20" y1="93.50" x2="487.75" y2="93.50" stroke="#555" stroke-width="0.70"/>
<line x1="432.20" y1="147.90" x2="487.75" y2="147.90" stroke="#555" stroke-width="0.70"/>
<line x1="487.75" y1="90.50" x2="487.75" y2="150.90" stroke="#2e2e2e" stroke-width="0.80"/>
<rect x="427.80" y="95.30" width="4.40" height="49.30" stroke="#2e2e2e" stroke-width="0.90" fill="#fff"/>
<line x1="433.20" y1="108.50" x2="457.64" y2="108.50" stroke="#444" stroke-width="0.55"/>
<line x1="433.20" y1="112.21" x2="457.64" y2="112.21" stroke="#444" stroke-width="0.55"/>
<line x1="433.20" y1="115.93" x2="457.64" y2="115.93" stroke="#444" stroke-width="0.55"/>
<line x1="433.20" y1="119.64" x2="457.64" y2="119.64" stroke="#444" stroke-width="0.55"/>
<line x1="433.20" y1="123.36" x2="457.64" y2="123.36" stroke="#444" stroke-width="0.55"/>
<line x1="433.20" y1="127.07" x2="457.64" y2="127.07" stroke="#444" stroke-width="0.55"/>
<line x1="433.20" y1="130.79" x2="457.64" y2="130.79" stroke="#444" stroke-width="0.55"/>
<line x1="433.20" y1="134.50" x2="457.64" y2="134.50" stroke="#444" stroke-width="0.55"/>
<rect x="457.64" y="103.00" width="32.68" height="33.50" stroke="#2e2e2e" stroke-width="0.90" fill="#fff"/>
<path d="M463.94 136.50 Q467.44 138.70 470.94 136.50" stroke="#2e2e2e" stroke-width="0.80" fill="none" />
<path d="M477.67 136.50 Q481.17 138.70 484.67 136.50" stroke="#2e2e2e" stroke-width="0.80" fill="none" />
<line x1="417.50" y1="95.50" x2="427.80" y2="95.50" stroke="#555" stroke-width="0.70"/>
<line x1="417.50" y1="145.90" x2="427.80" y2="145.90" stroke="#555" stroke-width="0.70"/>
<line x1="421.00" y1="91.50" x2="421.00" y2="102.50" stroke="#2e2e2e" stroke-width="0.80"/>
<line x1="421.00" y1="138.90" x2="421.00" y2="149.90" stroke="#2e2e2e" stroke-width="0.80"/>
<line x1="420.00" y1="119.80" x2="516.00" y2="119.80" stroke="#555" stroke-width="0.70" stroke-dasharray="1.5 1.8"/>
<line x1="330.00" y1="180.50" x2="424.00" y2="180.50" stroke="#555" stroke-width="0.70" stroke-dasharray="1.5 1.8"/>
<line x1="326.90" y1="57.00" x2="326.90" y2="172.00" stroke="#404040" stroke-width="0.75"/>
<line x1="417.50" y1="57.00" x2="417.50" y2="89.00" stroke="#404040" stroke-width="0.75"/>
<line x1="512.70" y1="57.00" x2="512.70" y2="98.00" stroke="#404040" stroke-width="0.75"/>
<line x1="326.90" y1="64.20" x2="417.50" y2="64.20" stroke="#404040" stroke-width="0.75"/>
<path d="M326.90 64.20 L335.40 63.05 L335.40 65.35 Z" fill="#222"/>
<path d="M417.50 64.20 L409.00 65.35 L409.00 63.05 Z" fill="#222"/>
<line x1="417.50" y1="64.20" x2="512.70" y2="64.20" stroke="#404040" stroke-width="0.75"/>
<path d="M417.50 64.20 L426.00 63.05 L426.00 65.35 Z" fill="#222"/>
<path d="M512.70 64.20 L504.20 65.35 L504.20 63.05 Z" fill="#222"/>
<text transform="translate(371.00,58.00) rotate(0.0) scale(1.080,1)" y="3.49" font-size="9.70" text-anchor="middle" fill="#1c1c1c">241</text>
<text transform="translate(466.80,58.00) rotate(0.0) scale(1.080,1)" y="3.49" font-size="9.70" text-anchor="middle" fill="#1c1c1c">L3</text>
<line x1="358.00" y1="86.00" x2="358.00" y2="228.00" stroke="#404040" stroke-width="0.75"/>
<line x1="326.90" y1="94.40" x2="358.00" y2="94.40" stroke="#404040" stroke-width="0.75"/>
<path d="M326.90 94.40 L335.40 93.25 L335.40 95.55 Z" fill="#222"/>
<path d="M358.00 94.40 L349.50 95.55 L349.50 93.25 Z" fill="#222"/>
<text transform="translate(342.00,88.00) rotate(0.0) scale(1.080,1)" y="3.49" font-size="9.70" text-anchor="middle" fill="#1c1c1c">80</text>
<line x1="398.00" y1="120.00" x2="410.00" y2="120.00" stroke="#404040" stroke-width="0.75"/>
<line x1="404.00" y1="120.00" x2="404.00" y2="180.50" stroke="#404040" stroke-width="0.75"/>
<path d="M404.00 120.00 L405.15 128.50 L402.85 128.50 Z" fill="#222"/>
<path d="M404.00 180.50 L402.85 172.00 L405.15 172.00 Z" fill="#222"/>
<text transform="translate(399.50,152.00) rotate(-90.0) scale(1.080,1)" y="3.49" font-size="9.70" text-anchor="middle" fill="#1c1c1c">159.5</text>
<line x1="424.30" y1="90.50" x2="424.30" y2="150.90" stroke="#404040" stroke-width="0.75"/>
<path d="M424.30 90.50 L425.45 97.50 L423.15 97.50 Z" fill="#222"/>
<path d="M424.30 150.90 L423.15 143.90 L425.45 143.90 Z" fill="#222"/>
<text transform="translate(420.80,118.00) rotate(-90.0) scale(1.000,1)" y="3.02" font-size="8.40" text-anchor="middle" fill="#1c1c1c">Φ160</text>
<line x1="400.00" y1="180.50" x2="451.00" y2="180.50" stroke="#404040" stroke-width="0.75"/>
<line x1="415.00" y1="216.00" x2="451.00" y2="216.00" stroke="#404040" stroke-width="0.75"/>
<line x1="444.50" y1="180.50" x2="444.50" y2="216.00" stroke="#404040" stroke-width="0.75"/>
<path d="M444.50 180.50 L445.65 189.00 L443.35 189.00 Z" fill="#222"/>
<path d="M444.50 216.00 L443.35 207.50 L445.65 207.50 Z" fill="#222"/>
<text transform="translate(437.50,197.50) rotate(-90.0) scale(1.080,1)" y="3.49" font-size="9.70" text-anchor="middle" fill="#1c1c1c">97</text>
<line x1="334.00" y1="222.60" x2="380.00" y2="222.60" stroke="#404040" stroke-width="0.75"/>
<path d="M358.00 222.60 L350.00 223.75 L350.00 221.45 Z" fill="#222"/>
<path d="M369.50 222.60 L377.50 221.45 L377.50 223.75 Z" fill="#222"/>
<text transform="translate(343.50,216.30) rotate(0.0) scale(1.080,1)" y="3.49" font-size="9.70" text-anchor="middle" fill="#1c1c1c">38.5</text>
<line x1="369.50" y1="205.00" x2="369.50" y2="238.00" stroke="#404040" stroke-width="0.75"/>
<line x1="412.70" y1="205.00" x2="412.70" y2="238.00" stroke="#404040" stroke-width="0.75"/>
<line x1="369.50" y1="235.30" x2="412.70" y2="235.30" stroke="#404040" stroke-width="0.75"/>
<path d="M369.50 235.30 L378.00 234.15 L378.00 236.45 Z" fill="#222"/>
<path d="M412.70 235.30 L404.20 236.45 L404.20 234.15 Z" fill="#222"/>
<text transform="translate(391.00,228.80) rotate(0.0) scale(1.080,1)" y="3.49" font-size="9.70" text-anchor="middle" fill="#1c1c1c">112</text>
<line x1="366.50" y1="216.00" x2="366.50" y2="254.00" stroke="#404040" stroke-width="0.75"/>
<line x1="417.50" y1="216.00" x2="417.50" y2="254.00" stroke="#404040" stroke-width="0.75"/>
<line x1="366.50" y1="251.20" x2="417.50" y2="251.20" stroke="#404040" stroke-width="0.75"/>
<path d="M366.50 251.20 L375.00 250.05 L375.00 252.35 Z" fill="#222"/>
<path d="M417.50 251.20 L409.00 252.35 L409.00 250.05 Z" fill="#222"/>
<text transform="translate(391.00,244.80) rotate(0.0) scale(1.080,1)" y="3.49" font-size="9.70" text-anchor="middle" fill="#1c1c1c">131</text>
<text transform="translate(309.50,204.50) rotate(0.0) scale(1.080,1)" y="3.49" font-size="9.70" text-anchor="middle" fill="#1c1c1c">M16</text>
<path d="M299.00 210.30 L321.50 210.30 L327.00 189.00" stroke="#404040" stroke-width="0.75" fill="none" />
<line x1="512.70" y1="90.50" x2="537.00" y2="90.50" stroke="#404040" stroke-width="0.75"/>
<line x1="512.70" y1="150.90" x2="537.00" y2="150.90" stroke="#404040" stroke-width="0.75"/>
<line x1="530.40" y1="90.50" x2="530.40" y2="150.90" stroke="#404040" stroke-width="0.75"/>
<path d="M530.40 90.50 L531.55 99.00 L529.25 99.00 Z" fill="#222"/>
<path d="M530.40 150.90 L529.25 142.40 L531.55 142.40 Z" fill="#222"/>
<text transform="translate(524.80,116.50) rotate(-90.0) scale(1.080,1)" y="3.49" font-size="9.70" text-anchor="middle" fill="#1c1c1c">G</text>
<clipPath id="kc482214"><circle cx="482.00" cy="214.30" r="8.60"/></clipPath>
<path d="M456.20 222.90 L473.40 205.70 M458.60 222.90 L475.80 205.70 M461.00 222.90 L478.20 205.70 M463.40 222.90 L480.60 205.70 M465.80 222.90 L483.00 205.70 M468.20 222.90 L485.40 205.70 M470.60 222.90 L487.80 205.70 M473.00 222.90 L490.20 205.70 M475.40 222.90 L492.60 205.70 M477.80 222.90 L495.00 205.70 M480.20 222.90 L497.40 205.70 M482.60 222.90 L499.80 205.70 M485.00 222.90 L502.20 205.70 M487.40 222.90 L504.60 205.70 M489.80 222.90 L507.00 205.70" stroke="#555" stroke-width="0.55" clip-path="url(#kc482214)" fill="none"/>
<circle cx="482.00" cy="214.30" r="8.60" stroke="#2e2e2e" stroke-width="1.10" fill="none"/>
<rect x="479.80" y="205.20" width="4.40" height="3.20" stroke="#2e2e2e" stroke-width="0.80" fill="#fff"/>
<line x1="479.80" y1="204.70" x2="479.80" y2="193.70" stroke="#404040" stroke-width="0.75"/>
<line x1="484.20" y1="204.70" x2="484.20" y2="193.70" stroke="#404040" stroke-width="0.75"/>
<line x1="470.00" y1="197.40" x2="502.00" y2="197.40" stroke="#404040" stroke-width="0.75"/>
<path d="M479.80 197.40 L472.80 198.55 L472.80 196.25 Z" fill="#222"/>
<path d="M484.20 197.40 L491.20 196.25 L491.20 198.55 Z" fill="#222"/>
<text transform="translate(495.00,192.60) rotate(0.0) scale(1.080,1)" y="3.49" font-size="9.70" text-anchor="middle" fill="#1c1c1c">12</text>
<line x1="484.00" y1="205.40" x2="507.00" y2="205.40" stroke="#404040" stroke-width="0.75"/>
<line x1="484.00" y1="222.90" x2="507.00" y2="222.90" stroke="#404040" stroke-width="0.75"/>
<line x1="503.80" y1="205.40" x2="503.80" y2="222.90" stroke="#404040" stroke-width="0.75"/>
<path d="M503.80 205.40 L504.95 212.90 L502.65 212.90 Z" fill="#222"/>
<path d="M503.80 222.90 L502.65 215.40 L504.95 215.40 Z" fill="#222"/>
<text transform="translate(498.00,214.30) rotate(-90.0) scale(1.080,1)" y="3.49" font-size="9.70" text-anchor="middle" fill="#1c1c1c">43</text>
<line x1="473.40" y1="216.30" x2="473.40" y2="243.30" stroke="#404040" stroke-width="0.75"/>
<line x1="490.60" y1="216.30" x2="490.60" y2="243.30" stroke="#404040" stroke-width="0.75"/>
<line x1="463.00" y1="241.00" x2="523.00" y2="241.00" stroke="#404040" stroke-width="0.75"/>
<path d="M473.40 241.00 L465.90 242.15 L465.90 239.85 Z" fill="#222"/>
<path d="M490.60 241.00 L498.10 239.85 L498.10 242.15 Z" fill="#222"/>
<text transform="translate(507.50,234.70) rotate(0.0) scale(1.080,1)" y="3.49" font-size="9.70" text-anchor="middle" fill="#1c1c1c">Φ40k6</text>
<path d="M356.80 348.60 L359.80 345.10 L378.80 345.10 L379.80 343.10 L384.80 343.10 L385.80 345.10 L396.80 345.10 L397.80 343.60 L406.80 343.60 L407.80 345.10 L407.80 404.10 L405.30 406.60 L405.30 409.10 L407.80 411.10 L416.30 411.10 L416.30 457.10 L407.80 459.10 L407.80 460.60 L405.30 460.60 L405.30 468.60 L359.80 468.60 L359.80 460.60 L356.80 460.60 L348.80 460.60 L348.80 410.60 L356.80 410.60 L356.80 390.60 L355.60 388.60 L355.60 377.60 L356.80 376.60 Z" stroke="#2e2e2e" stroke-width="1.20" fill="#fff" />
<line x1="359.80" y1="469.60" x2="405.30" y2="469.60" stroke="#444" stroke-width="1.20" stroke-dasharray="2 1"/>
<line x1="359.80" y1="467.10" x2="405.30" y2="467.10" stroke="#555" stroke-width="0.70"/>
<line x1="356.80" y1="377.40" x2="407.80" y2="377.40" stroke="#2e2e2e" stroke-width="0.80"/>
<line x1="356.80" y1="388.10" x2="407.80" y2="388.10" stroke="#2e2e2e" stroke-width="0.80"/>
<line x1="356.80" y1="452.00" x2="407.80" y2="452.00" stroke="#2e2e2e" stroke-width="0.80"/>
<line x1="356.80" y1="460.60" x2="407.80" y2="460.60" stroke="#2e2e2e" stroke-width="0.80"/>
<line x1="359.80" y1="388.10" x2="359.80" y2="452.00" stroke="#555" stroke-width="0.70"/>
<line x1="403.80" y1="388.10" x2="403.80" y2="452.00" stroke="#555" stroke-width="0.70"/>
<line x1="356.80" y1="410.60" x2="356.80" y2="460.60" stroke="#555" stroke-width="0.70"/>
<line x1="350.30" y1="413.60" x2="350.30" y2="457.60" stroke="#555" stroke-width="0.70"/>
<line x1="381.10" y1="343.60" x2="381.10" y2="452.00" stroke="#555" stroke-width="0.70"/>
<line x1="383.80" y1="343.60" x2="383.80" y2="452.00" stroke="#555" stroke-width="0.70"/>
<line x1="379.30" y1="344.60" x2="379.30" y2="377.40" stroke="#555" stroke-width="0.70"/>
<line x1="401.80" y1="345.60" x2="401.80" y2="377.40" stroke="#555" stroke-width="0.70"/>
<circle cx="359.80" cy="382.80" r="1.90" stroke="#2e2e2e" stroke-width="0.90" fill="#fff"/>
<path d="M358.75 382.80 L359.80 381.75 L360.85 382.80 L359.80 383.85 Z" stroke="#2e2e2e" stroke-width="0.50" fill="none" />
<circle cx="359.80" cy="456.40" r="1.90" stroke="#2e2e2e" stroke-width="0.90" fill="#fff"/>
<path d="M358.75 456.40 L359.80 455.36 L360.85 456.40 L359.80 457.45 Z" stroke="#2e2e2e" stroke-width="0.50" fill="none" />
<circle cx="403.00" cy="382.80" r="1.90" stroke="#2e2e2e" stroke-width="0.90" fill="#fff"/>
<path d="M401.95 382.80 L403.00 381.75 L404.05 382.80 L403.00 383.85 Z" stroke="#2e2e2e" stroke-width="0.50" fill="none" />
<circle cx="403.00" cy="456.40" r="1.90" stroke="#2e2e2e" stroke-width="0.90" fill="#fff"/>
<path d="M401.95 456.40 L403.00 455.36 L404.05 456.40 L403.00 457.45 Z" stroke="#2e2e2e" stroke-width="0.50" fill="none" />
<line x1="359.00" y1="361.10" x2="377.60" y2="353.10" stroke="#444" stroke-width="0.55"/>
<line x1="359.00" y1="363.17" x2="377.34" y2="355.17" stroke="#444" stroke-width="0.55"/>
<line x1="359.00" y1="365.24" x2="377.09" y2="357.24" stroke="#444" stroke-width="0.55"/>
<line x1="359.00" y1="367.31" x2="376.83" y2="359.31" stroke="#444" stroke-width="0.55"/>
<line x1="359.00" y1="369.39" x2="376.57" y2="361.39" stroke="#444" stroke-width="0.55"/>
<line x1="359.00" y1="371.46" x2="376.31" y2="363.46" stroke="#444" stroke-width="0.55"/>
<line x1="359.00" y1="373.53" x2="376.06" y2="365.53" stroke="#444" stroke-width="0.55"/>
<line x1="359.00" y1="375.60" x2="375.80" y2="367.60" stroke="#444" stroke-width="0.55"/>
<path d="M377.60 345.60 Q378.30 360.60 375.80 368.10 L358.80 375.60" stroke="#555" stroke-width="0.70" fill="none" />
<line x1="377.60" y1="345.60" x2="377.60" y2="354.60" stroke="#555" stroke-width="0.70"/>
<circle cx="363.60" cy="351.60" r="3.70" stroke="#2e2e2e" stroke-width="1.00" fill="#fff"/>
<circle cx="363.60" cy="351.60" r="1.10" stroke="#2e2e2e" stroke-width="0.50" fill="none"/>
<line x1="407.80" y1="411.10" x2="407.80" y2="459.10" stroke="#555" stroke-width="0.70"/>
<line x1="404.40" y1="348.60" x2="404.40" y2="363.60" stroke="#888" stroke-width="1.60"/>
<line x1="404.40" y1="392.60" x2="404.40" y2="403.60" stroke="#888" stroke-width="1.60"/>
<path d="M420.00 345.00 L492.34 345.00 L498.30 352.45 L498.30 397.55 L492.34 405.00 L420.00 405.00 Z" stroke="#2e2e2e" stroke-width="1.20" fill="#fff" />
<line x1="420.00" y1="347.98" x2="474.03" y2="347.98" stroke="#555" stroke-width="0.70"/>
<line x1="420.00" y1="402.02" x2="474.03" y2="402.02" stroke="#555" stroke-width="0.70"/>
<line x1="474.03" y1="345.00" x2="474.03" y2="405.00" stroke="#2e2e2e" stroke-width="0.80"/>
<rect x="415.63" y="349.77" width="4.37" height="48.97" stroke="#2e2e2e" stroke-width="0.90" fill="#fff"/>
<line x1="421.00" y1="362.88" x2="444.74" y2="362.88" stroke="#444" stroke-width="0.55"/>
<line x1="421.00" y1="366.57" x2="444.74" y2="366.57" stroke="#444" stroke-width="0.55"/>
<line x1="421.00" y1="370.26" x2="444.74" y2="370.26" stroke="#444" stroke-width="0.55"/>
<line x1="421.00" y1="373.95" x2="444.74" y2="373.95" stroke="#444" stroke-width="0.55"/>
<line x1="421.00" y1="377.64" x2="444.74" y2="377.64" stroke="#444" stroke-width="0.55"/>
<line x1="421.00" y1="381.33" x2="444.74" y2="381.33" stroke="#444" stroke-width="0.55"/>
<line x1="421.00" y1="385.02" x2="444.74" y2="385.02" stroke="#444" stroke-width="0.55"/>
<line x1="421.00" y1="388.71" x2="444.74" y2="388.71" stroke="#444" stroke-width="0.55"/>
<rect x="444.74" y="357.42" width="31.79" height="33.28" stroke="#2e2e2e" stroke-width="0.90" fill="#fff"/>
<path d="M450.80 390.70 Q454.28 392.88 457.76 390.70" stroke="#2e2e2e" stroke-width="0.80" fill="none" />
<path d="M464.15 390.70 Q467.63 392.88 471.11 390.70" stroke="#2e2e2e" stroke-width="0.80" fill="none" />
<line x1="407.80" y1="350.00" x2="415.60" y2="350.00" stroke="#555" stroke-width="0.70"/>
<line x1="407.80" y1="400.00" x2="415.60" y2="400.00" stroke="#555" stroke-width="0.70"/>
<line x1="411.30" y1="346.00" x2="411.30" y2="357.00" stroke="#2e2e2e" stroke-width="0.80"/>
<line x1="411.30" y1="393.00" x2="411.30" y2="404.00" stroke="#2e2e2e" stroke-width="0.80"/>
<line x1="410.00" y1="375.00" x2="502.00" y2="375.00" stroke="#555" stroke-width="0.70" stroke-dasharray="1.5 1.8"/>
<line x1="343.00" y1="436.00" x2="412.00" y2="436.00" stroke="#555" stroke-width="0.70" stroke-dasharray="1.5 1.8"/>
<line x1="407.80" y1="287.00" x2="407.80" y2="344.00" stroke="#404040" stroke-width="0.75"/>
<line x1="498.30" y1="305.00" x2="498.30" y2="352.00" stroke="#404040" stroke-width="0.75"/>
<line x1="407.80" y1="310.70" x2="498.30" y2="310.70" stroke="#404040" stroke-width="0.75"/>
<path d="M407.80 310.70 L416.30 309.55 L416.30 311.85 Z" fill="#222"/>
<path d="M498.30 310.70 L489.80 311.85 L489.80 309.55 Z" fill="#222"/>
<text transform="translate(456.70,304.00) rotate(0.0) scale(1.080,1)" y="3.49" font-size="9.70" text-anchor="middle" fill="#1c1c1c">L3</text>
<line x1="348.30" y1="287.00" x2="348.30" y2="436.00" stroke="#404040" stroke-width="0.75"/>
<line x1="348.30" y1="291.00" x2="407.80" y2="291.00" stroke="#404040" stroke-width="0.75"/>
<path d="M348.30 291.00 L356.80 289.85 L356.80 292.15 Z" fill="#222"/>
<path d="M407.80 291.00 L399.30 292.15 L399.30 289.85 Z" fill="#222"/>
<text transform="translate(377.30,285.50) rotate(0.0) scale(1.080,1)" y="3.49" font-size="9.70" text-anchor="middle" fill="#1c1c1c">162</text>
<line x1="356.80" y1="297.00" x2="356.80" y2="344.00" stroke="#404040" stroke-width="0.75"/>
<line x1="325.00" y1="301.60" x2="367.00" y2="301.60" stroke="#404040" stroke-width="0.75"/>
<path d="M348.30 301.60 L341.30 302.75 L341.30 300.45 Z" fill="#222"/>
<path d="M356.80 301.60 L363.80 300.45 L363.80 302.75 Z" fill="#222"/>
<text transform="translate(334.60,295.80) rotate(0.0) scale(1.080,1)" y="3.49" font-size="9.70" text-anchor="middle" fill="#1c1c1c">23.5</text>
<line x1="378.30" y1="312.00" x2="378.30" y2="344.00" stroke="#404040" stroke-width="0.75"/>
<line x1="345.00" y1="315.80" x2="393.00" y2="315.80" stroke="#404040" stroke-width="0.75"/>
<path d="M356.80 315.80 L349.30 316.95 L349.30 314.65 Z" fill="#222"/>
<path d="M378.30 315.80 L385.80 314.65 L385.80 316.95 Z" fill="#222"/>
<text transform="translate(363.00,309.60) rotate(0.0) scale(1.080,1)" y="3.49" font-size="9.70" text-anchor="middle" fill="#1c1c1c">67</text>
<line x1="364.00" y1="327.00" x2="364.00" y2="350.00" stroke="#404040" stroke-width="0.75"/>
<line x1="327.50" y1="330.00" x2="375.50" y2="330.00" stroke="#404040" stroke-width="0.75"/>
<path d="M348.30 330.00 L340.80 331.15 L340.80 328.85 Z" fill="#222"/>
<path d="M364.00 330.00 L371.50 328.85 L371.50 331.15 Z" fill="#222"/>
<text transform="translate(333.70,323.20) rotate(0.0) scale(1.080,1)" y="3.49" font-size="9.70" text-anchor="middle" fill="#1c1c1c">42</text>
<line x1="318.00" y1="344.30" x2="357.00" y2="344.30" stroke="#404040" stroke-width="0.75"/>
<line x1="318.00" y1="352.00" x2="361.00" y2="352.00" stroke="#404040" stroke-width="0.75"/>
<line x1="321.70" y1="335.00" x2="321.70" y2="366.00" stroke="#404040" stroke-width="0.75"/>
<path d="M321.70 344.30 L320.55 337.30 L322.85 337.30 Z" fill="#222"/>
<path d="M321.70 352.00 L322.85 359.00 L320.55 359.00 Z" fill="#222"/>
<text transform="translate(316.30,336.50) rotate(-90.0) scale(1.080,1)" y="3.49" font-size="9.70" text-anchor="middle" fill="#1c1c1c">52</text>
<line x1="333.00" y1="348.30" x2="361.00" y2="348.30" stroke="#404040" stroke-width="0.75"/>
<line x1="333.00" y1="355.50" x2="361.00" y2="355.50" stroke="#404040" stroke-width="0.75"/>
<line x1="336.40" y1="339.00" x2="336.40" y2="372.00" stroke="#404040" stroke-width="0.75"/>
<path d="M336.40 348.30 L335.25 341.30 L337.55 341.30 Z" fill="#222"/>
<path d="M336.40 355.50 L337.55 362.50 L335.25 362.50 Z" fill="#222"/>
<text transform="translate(329.60,366.00) rotate(-90.0) scale(1.000,1)" y="3.49" font-size="9.70" text-anchor="middle" fill="#1c1c1c">Φ14</text>
<line x1="317.00" y1="384.60" x2="376.40" y2="355.30" stroke="#404040" stroke-width="0.75"/>
<line x1="312.00" y1="372.00" x2="318.50" y2="385.50" stroke="#404040" stroke-width="0.75"/>
<line x1="308.50" y1="350.00" x2="308.50" y2="361.00" stroke="#222" stroke-width="1.00"/>
<path d="M308.50 361.00 L307.35 354.00 L309.65 354.00 Z" fill="#222"/>
<line x1="303.00" y1="352.00" x2="312.00" y2="352.00" stroke="#404040" stroke-width="0.75"/>
<text transform="translate(309.00,368.00) rotate(0.0) scale(1.080,1)" y="3.49" font-size="9.70" text-anchor="middle" fill="#1c1c1c">25°</text>
<line x1="343.50" y1="352.00" x2="343.50" y2="436.00" stroke="#404040" stroke-width="0.75"/>
<path d="M343.50 352.00 L344.65 360.50 L342.35 360.50 Z" fill="#222"/>
<path d="M343.50 436.00 L342.35 427.50 L344.65 427.50 Z" fill="#222"/>
<text transform="translate(338.20,396.50) rotate(-90.0) scale(1.080,1)" y="3.49" font-size="9.70" text-anchor="middle" fill="#1c1c1c">218</text>
<line x1="390.00" y1="375.70" x2="401.00" y2="375.70" stroke="#404040" stroke-width="0.75"/>
<line x1="395.00" y1="375.70" x2="395.00" y2="436.00" stroke="#404040" stroke-width="0.75"/>
<path d="M395.00 375.70 L396.15 384.20 L393.85 384.20 Z" fill="#222"/>
<path d="M395.00 436.00 L393.85 427.50 L396.15 427.50 Z" fill="#222"/>
<text transform="translate(389.90,410.00) rotate(-90.0) scale(1.080,1)" y="3.49" font-size="9.70" text-anchor="middle" fill="#1c1c1c">159.5</text>
<line x1="413.00" y1="345.00" x2="413.00" y2="405.00" stroke="#404040" stroke-width="0.75"/>
<path d="M413.00 345.00 L414.15 352.00 L411.85 352.00 Z" fill="#222"/>
<path d="M413.00 405.00 L411.85 398.00 L414.15 398.00 Z" fill="#222"/>
<text transform="translate(409.00,372.00) rotate(-90.0) scale(1.000,1)" y="3.02" font-size="8.40" text-anchor="middle" fill="#1c1c1c">Φ160</text>
<line x1="405.00" y1="435.40" x2="443.00" y2="435.40" stroke="#404040" stroke-width="0.75"/>
<line x1="405.00" y1="470.70" x2="443.00" y2="470.70" stroke="#404040" stroke-width="0.75"/>
<line x1="435.40" y1="435.40" x2="435.40" y2="470.70" stroke="#404040" stroke-width="0.75"/>
<path d="M435.40 435.40 L436.55 443.90 L434.25 443.90 Z" fill="#222"/>
<path d="M435.40 470.70 L434.25 462.20 L436.55 462.20 Z" fill="#222"/>
<text transform="translate(427.60,453.00) rotate(-90.0) scale(1.080,1)" y="3.49" font-size="9.70" text-anchor="middle" fill="#1c1c1c">97</text>
<line x1="334.00" y1="477.80" x2="360.20" y2="477.80" stroke="#404040" stroke-width="0.75"/>
<path d="M360.20 477.80 L352.70 478.95 L352.70 476.65 Z" fill="#222"/>
<text transform="translate(336.70,472.00) rotate(0.0) scale(1.080,1)" y="3.49" font-size="9.70" text-anchor="middle" fill="#1c1c1c">2</text>
<line x1="360.20" y1="465.00" x2="360.20" y2="490.00" stroke="#404040" stroke-width="0.75"/>
<line x1="402.10" y1="465.00" x2="402.10" y2="490.00" stroke="#404040" stroke-width="0.75"/>
<line x1="360.20" y1="487.70" x2="402.10" y2="487.70" stroke="#404040" stroke-width="0.75"/>
<path d="M360.20 487.70 L368.70 486.55 L368.70 488.85 Z" fill="#222"/>
<path d="M402.10 487.70 L393.60 488.85 L393.60 486.55 Z" fill="#222"/>
<text transform="translate(380.50,481.80) rotate(0.0) scale(1.080,1)" y="3.49" font-size="9.70" text-anchor="middle" fill="#1c1c1c">140</text>
<line x1="349.20" y1="462.00" x2="349.20" y2="503.50" stroke="#404040" stroke-width="0.75"/>
<line x1="416.50" y1="462.00" x2="416.50" y2="503.50" stroke="#404040" stroke-width="0.75"/>
<line x1="349.20" y1="500.80" x2="416.50" y2="500.80" stroke="#404040" stroke-width="0.75"/>
<path d="M349.20 500.80 L357.70 499.65 L357.70 501.95 Z" fill="#222"/>
<path d="M416.50 500.80 L408.00 501.95 L408.00 499.65 Z" fill="#222"/>
<text transform="translate(381.00,495.40) rotate(0.0) scale(1.080,1)" y="3.49" font-size="9.70" text-anchor="middle" fill="#1c1c1c">183</text>
<path d="M600.30 381.70 L595.00 381.70 L595.00 433.00 L600.30 433.00" stroke="#2e2e2e" stroke-width="1.20" fill="#fff" />
<path d="M596.5 384 L596.5 398 Q603 404 603 416 L603 430" stroke="#2e2e2e" stroke-width="0.80" fill="none" />
<path d="M608.30 317.42 L611.39 313.81 L630.96 313.81 L631.99 311.75 L637.14 311.75 L638.17 313.81 L649.50 313.81 L650.53 312.27 L659.80 312.27 L660.83 313.81 L660.83 374.59 L658.25 377.16 L658.25 379.74 L660.83 381.80 L666.29 381.80 L666.29 429.18 L660.83 431.24 L660.83 432.78 L658.25 432.78 L658.25 441.02 L611.39 441.02 L611.39 432.78 L608.30 432.78 L608.30 360.68 L607.06 358.62 L607.06 347.29 L608.30 346.26 Z" stroke="#2e2e2e" stroke-width="1.20" fill="#fff" />
<line x1="611.39" y1="442.05" x2="658.25" y2="442.05" stroke="#444" stroke-width="1.20" stroke-dasharray="2 1"/>
<line x1="611.39" y1="439.48" x2="658.25" y2="439.48" stroke="#555" stroke-width="0.70"/>
<line x1="608.30" y1="347.08" x2="660.83" y2="347.08" stroke="#2e2e2e" stroke-width="0.80"/>
<line x1="608.30" y1="358.11" x2="660.83" y2="358.11" stroke="#2e2e2e" stroke-width="0.80"/>
<line x1="608.30" y1="423.92" x2="660.83" y2="423.92" stroke="#2e2e2e" stroke-width="0.80"/>
<line x1="608.30" y1="432.78" x2="660.83" y2="432.78" stroke="#2e2e2e" stroke-width="0.80"/>
<line x1="611.39" y1="358.11" x2="611.39" y2="423.92" stroke="#555" stroke-width="0.70"/>
<line x1="656.71" y1="358.11" x2="656.71" y2="423.92" stroke="#555" stroke-width="0.70"/>
<line x1="633.33" y1="312.27" x2="633.33" y2="423.92" stroke="#555" stroke-width="0.70"/>
<line x1="636.11" y1="312.27" x2="636.11" y2="423.92" stroke="#555" stroke-width="0.70"/>
<line x1="631.47" y1="313.30" x2="631.47" y2="347.08" stroke="#555" stroke-width="0.70"/>
<line x1="654.65" y1="314.33" x2="654.65" y2="347.08" stroke="#555" stroke-width="0.70"/>
<circle cx="611.39" cy="352.65" r="1.96" stroke="#2e2e2e" stroke-width="0.90" fill="#fff"/>
<path d="M610.31 352.65 L611.39 351.57 L612.47 352.65 L611.39 353.72 Z" stroke="#2e2e2e" stroke-width="0.50" fill="none" />
<circle cx="611.39" cy="428.45" r="1.96" stroke="#2e2e2e" stroke-width="0.90" fill="#fff"/>
<path d="M610.31 428.45 L611.39 427.38 L612.47 428.45 L611.39 429.53 Z" stroke="#2e2e2e" stroke-width="0.50" fill="none" />
<circle cx="655.89" cy="352.65" r="1.96" stroke="#2e2e2e" stroke-width="0.90" fill="#fff"/>
<path d="M654.81 352.65 L655.89 351.57 L656.96 352.65 L655.89 353.72 Z" stroke="#2e2e2e" stroke-width="0.50" fill="none" />
<circle cx="655.89" cy="428.45" r="1.96" stroke="#2e2e2e" stroke-width="0.90" fill="#fff"/>
<path d="M654.81 428.45 L655.89 427.38 L656.96 428.45 L655.89 429.53 Z" stroke="#2e2e2e" stroke-width="0.50" fill="none" />
<line x1="610.57" y1="330.30" x2="629.72" y2="322.06" stroke="#444" stroke-width="0.55"/>
<line x1="610.57" y1="332.43" x2="629.46" y2="324.19" stroke="#444" stroke-width="0.55"/>
<line x1="610.57" y1="334.56" x2="629.19" y2="326.32" stroke="#444" stroke-width="0.55"/>
<line x1="610.57" y1="336.70" x2="628.93" y2="328.46" stroke="#444" stroke-width="0.55"/>
<line x1="610.57" y1="338.83" x2="628.66" y2="330.59" stroke="#444" stroke-width="0.55"/>
<line x1="610.57" y1="340.96" x2="628.40" y2="332.72" stroke="#444" stroke-width="0.55"/>
<line x1="610.57" y1="343.10" x2="628.13" y2="334.86" stroke="#444" stroke-width="0.55"/>
<line x1="610.57" y1="345.23" x2="627.87" y2="336.99" stroke="#444" stroke-width="0.55"/>
<path d="M629.72 314.33 Q630.44 329.78 627.87 337.50 L610.36 345.23" stroke="#555" stroke-width="0.70" fill="none" />
<line x1="629.72" y1="314.33" x2="629.72" y2="323.60" stroke="#555" stroke-width="0.70"/>
<circle cx="615.30" cy="320.51" r="3.81" stroke="#2e2e2e" stroke-width="1.00" fill="#fff"/>
<circle cx="615.30" cy="320.51" r="1.13" stroke="#2e2e2e" stroke-width="0.50" fill="none"/>
<line x1="660.83" y1="381.80" x2="660.83" y2="431.24" stroke="#555" stroke-width="0.70"/>
<line x1="657.33" y1="317.42" x2="657.33" y2="332.87" stroke="#888" stroke-width="1.65"/>
<line x1="657.33" y1="362.74" x2="657.33" y2="374.07" stroke="#888" stroke-width="1.65"/>
<circle cx="598.50" cy="428.00" r="2.30" stroke="#2e2e2e" stroke-width="0.90" fill="#fff"/>
<circle cx="604.00" cy="431.50" r="2.30" stroke="#2e2e2e" stroke-width="0.90" fill="#fff"/>
<path d="M597 420 L606 437 M606 420 L597 437" stroke="#2e2e2e" stroke-width="0.90" fill="none" />
<path d="M673.60 313.90 L750.90 313.90 L757.00 321.52 L757.00 367.68 L750.90 375.30 L673.60 375.30 Z" stroke="#2e2e2e" stroke-width="1.20" fill="#fff" />
<line x1="673.60" y1="316.95" x2="731.15" y2="316.95" stroke="#555" stroke-width="0.70"/>
<line x1="673.60" y1="372.25" x2="731.15" y2="372.25" stroke="#555" stroke-width="0.70"/>
<line x1="731.15" y1="313.90" x2="731.15" y2="375.30" stroke="#2e2e2e" stroke-width="0.80"/>
<rect x="669.13" y="318.78" width="4.47" height="50.12" stroke="#2e2e2e" stroke-width="0.90" fill="#fff"/>
<line x1="674.60" y1="332.20" x2="699.95" y2="332.20" stroke="#444" stroke-width="0.55"/>
<line x1="674.60" y1="335.97" x2="699.95" y2="335.97" stroke="#444" stroke-width="0.55"/>
<line x1="674.60" y1="339.75" x2="699.95" y2="339.75" stroke="#444" stroke-width="0.55"/>
<line x1="674.60" y1="343.53" x2="699.95" y2="343.53" stroke="#444" stroke-width="0.55"/>
<line x1="674.60" y1="347.30" x2="699.95" y2="347.30" stroke="#444" stroke-width="0.55"/>
<line x1="674.60" y1="351.08" x2="699.95" y2="351.08" stroke="#444" stroke-width="0.55"/>
<line x1="674.60" y1="354.85" x2="699.95" y2="354.85" stroke="#444" stroke-width="0.55"/>
<line x1="674.60" y1="358.63" x2="699.95" y2="358.63" stroke="#444" stroke-width="0.55"/>
<rect x="699.95" y="326.61" width="33.86" height="34.05" stroke="#2e2e2e" stroke-width="0.90" fill="#fff"/>
<path d="M706.55 360.66 Q710.11 362.90 713.67 360.66" stroke="#2e2e2e" stroke-width="0.80" fill="none" />
<path d="M720.78 360.66 Q724.33 362.90 727.89 360.66" stroke="#2e2e2e" stroke-width="0.80" fill="none" />
<line x1="661.60" y1="318.90" x2="669.00" y2="318.90" stroke="#555" stroke-width="0.70"/>
<line x1="661.60" y1="370.30" x2="669.00" y2="370.30" stroke="#555" stroke-width="0.70"/>
<line x1="665.10" y1="314.90" x2="665.10" y2="325.90" stroke="#2e2e2e" stroke-width="0.80"/>
<line x1="665.10" y1="363.30" x2="665.10" y2="374.30" stroke="#2e2e2e" stroke-width="0.80"/>
<line x1="664.00" y1="344.60" x2="761.00" y2="344.60" stroke="#555" stroke-width="0.70" stroke-dasharray="1.5 1.8"/>
<line x1="592.00" y1="405.70" x2="672.00" y2="405.70" stroke="#555" stroke-width="0.70" stroke-dasharray="1.5 1.8"/>
<line x1="757.00" y1="313.90" x2="780.00" y2="313.90" stroke="#404040" stroke-width="0.75"/>
<line x1="757.00" y1="375.30" x2="780.00" y2="375.30" stroke="#404040" stroke-width="0.75"/>
<line x1="773.70" y1="313.90" x2="773.70" y2="375.30" stroke="#404040" stroke-width="0.75"/>
<path d="M773.70 313.90 L774.85 322.40 L772.55 322.40 Z" fill="#222"/>
<path d="M773.70 375.30 L772.55 366.80 L774.85 366.80 Z" fill="#222"/>
<text transform="translate(767.00,347.50) rotate(-90.0) scale(1.080,1)" y="3.49" font-size="9.70" text-anchor="middle" fill="#1c1c1c">G</text>
<line x1="580.00" y1="355.40" x2="608.00" y2="355.40" stroke="#404040" stroke-width="0.75"/>
<path d="M599.50 355.40 L592.50 356.55 L592.50 354.25 Z" fill="#222"/>
<path d="M608.00 355.40 L615.00 354.25 L615.00 356.55 Z" fill="#222"/>
<text transform="translate(587.00,350.60) rotate(0.0) scale(1.080,1)" y="3.49" font-size="9.70" text-anchor="middle" fill="#1c1c1c">8.5</text>
<line x1="599.50" y1="352.00" x2="599.50" y2="385.00" stroke="#404040" stroke-width="0.75"/>
<line x1="585.00" y1="370.20" x2="606.00" y2="370.20" stroke="#404040" stroke-width="0.75"/>
<path d="M595.00 370.20 L588.00 371.35 L588.00 369.05 Z" fill="#222"/>
<path d="M598.50 370.20 L605.50 369.05 L605.50 371.35 Z" fill="#222"/>
<text transform="translate(584.50,365.60) rotate(0.0) scale(1.080,1)" y="3.49" font-size="9.70" text-anchor="middle" fill="#1c1c1c">3.5</text>
<line x1="595.00" y1="366.00" x2="595.00" y2="381.00" stroke="#404040" stroke-width="0.75"/>
<line x1="556.00" y1="381.70" x2="596.00" y2="381.70" stroke="#404040" stroke-width="0.75"/>
<line x1="556.00" y1="434.00" x2="596.00" y2="434.00" stroke="#404040" stroke-width="0.75"/>
<line x1="559.40" y1="381.70" x2="559.40" y2="434.00" stroke="#404040" stroke-width="0.75"/>
<path d="M559.40 381.70 L560.55 390.20 L558.25 390.20 Z" fill="#222"/>
<path d="M559.40 434.00 L558.25 425.50 L560.55 425.50 Z" fill="#222"/>
<text transform="translate(553.50,407.00) rotate(-90.0) scale(1.000,1)" y="3.49" font-size="9.70" text-anchor="middle" fill="#1c1c1c">Φ155</text>
<line x1="569.00" y1="386.00" x2="598.00" y2="386.00" stroke="#404040" stroke-width="0.75"/>
<line x1="569.00" y1="427.00" x2="598.00" y2="427.00" stroke="#404040" stroke-width="0.75"/>
<line x1="572.80" y1="386.00" x2="572.80" y2="427.00" stroke="#404040" stroke-width="0.75"/>
<path d="M572.80 386.00 L573.95 394.50 L571.65 394.50 Z" fill="#222"/>
<path d="M572.80 427.00 L571.65 418.50 L573.95 418.50 Z" fill="#222"/>
<text transform="translate(566.50,405.00) rotate(-90.0) scale(1.000,1)" y="3.24" font-size="9.00" text-anchor="middle" fill="#1c1c1c">Φ105j6</text>
<line x1="583.00" y1="424.50" x2="600.00" y2="424.50" stroke="#404040" stroke-width="0.75"/>
<line x1="587.00" y1="399.50" x2="587.00" y2="440.00" stroke="#404040" stroke-width="0.75"/>
<path d="M587.00 424.50 L585.85 417.50 L588.15 417.50 Z" fill="#222"/>
<path d="M587.00 431.50 L588.15 438.50 L585.85 438.50 Z" fill="#222"/>
<text transform="translate(581.70,411.00) rotate(-90.0) scale(1.000,1)" y="3.24" font-size="9.00" text-anchor="middle" fill="#1c1c1c">Φ13.5</text>
<text transform="translate(568.00,445.60) rotate(0.0) scale(1.050,1)" y="3.49" font-size="9.70" text-anchor="middle" fill="#1c1c1c">6–M12</text>
<path d="M553.00 451.00 L586.00 451.00 L598.00 436.00" stroke="#404040" stroke-width="0.75" fill="none" />
<line x1="596.00" y1="436.00" x2="596.00" y2="466.00" stroke="#404040" stroke-width="0.75"/>
<line x1="602.00" y1="436.00" x2="602.00" y2="466.00" stroke="#404040" stroke-width="0.75"/>
<line x1="611.00" y1="440.00" x2="611.00" y2="466.00" stroke="#404040" stroke-width="0.75"/>
<line x1="582.50" y1="462.50" x2="619.00" y2="462.50" stroke="#404040" stroke-width="0.75"/>
<path d="M596.00 462.50 L589.00 463.65 L589.00 461.35 Z" fill="#222"/>
<path d="M611.00 462.50 L618.00 461.35 L618.00 463.65 Z" fill="#222"/>
<circle cx="602.00" cy="462.50" r="1.10" stroke="#222" stroke-width="0.50" fill="#222"/>
<text transform="translate(588.00,456.80) rotate(0.0) scale(1.080,1)" y="3.49" font-size="9.70" text-anchor="middle" fill="#1c1c1c">12</text>
<text transform="translate(614.50,456.80) rotate(0.0) scale(1.080,1)" y="3.49" font-size="9.70" text-anchor="middle" fill="#1c1c1c">17</text>
<line x1="647.00" y1="405.70" x2="647.00" y2="443.00" stroke="#404040" stroke-width="0.75"/>
<path d="M647.00 405.70 L648.15 414.20 L645.85 414.20 Z" fill="#222"/>
<path d="M647.00 443.00 L645.85 434.50 L648.15 434.50 Z" fill="#222"/>
<text transform="translate(640.50,424.30) rotate(-90.0) scale(1.080,1)" y="3.49" font-size="9.70" text-anchor="middle" fill="#1c1c1c">97</text>
<path d="M345.00 607.90 L350.00 607.90 L350.00 620.40 L355.00 626.40 L361.00 627.90 L365.00 627.90" stroke="#2e2e2e" stroke-width="1.20" fill="none" />
<path d="M345.00 698.90 L350.00 698.90 L350.00 686.40 L355.00 680.40 L361.00 678.90 L365.00 678.90" stroke="#2e2e2e" stroke-width="1.20" fill="none" />
<line x1="345.00" y1="607.90" x2="345.00" y2="698.90" stroke="#2e2e2e" stroke-width="1.20"/>
<line x1="361.00" y1="627.90" x2="361.00" y2="678.90" stroke="#2e2e2e" stroke-width="0.80"/>
<path d="M350.00 631.40 Q359.00 653.40 350.00 675.40" stroke="#2e2e2e" stroke-width="0.80" fill="none" />
<line x1="350.00" y1="620.40" x2="350.00" y2="686.40" stroke="#555" stroke-width="0.70"/>
<line x1="346.50" y1="617.90" x2="346.50" y2="688.90" stroke="#555" stroke-width="0.60"/>
<path d="M365.00 566.90 L368.00 563.40 L387.00 563.40 L388.00 561.40 L393.00 561.40 L394.00 563.40 L405.00 563.40 L406.00 561.90 L415.00 561.90 L416.00 563.40 L416.00 622.40 L413.50 624.90 L413.50 627.40 L416.00 629.40 L421.30 629.40 L421.30 675.40 L416.00 677.40 L416.00 678.90 L413.50 678.90 L413.50 686.90 L368.00 686.90 L368.00 678.90 L365.00 678.90 L365.00 608.90 L363.80 606.90 L363.80 595.90 L365.00 594.90 Z" stroke="#2e2e2e" stroke-width="1.20" fill="#fff" />
<line x1="368.00" y1="687.90" x2="413.50" y2="687.90" stroke="#444" stroke-width="1.20" stroke-dasharray="2 1"/>
<line x1="368.00" y1="685.40" x2="413.50" y2="685.40" stroke="#555" stroke-width="0.70"/>
<line x1="365.00" y1="595.70" x2="416.00" y2="595.70" stroke="#2e2e2e" stroke-width="0.80"/>
<line x1="365.00" y1="606.40" x2="416.00" y2="606.40" stroke="#2e2e2e" stroke-width="0.80"/>
<line x1="365.00" y1="670.30" x2="416.00" y2="670.30" stroke="#2e2e2e" stroke-width="0.80"/>
<line x1="365.00" y1="678.90" x2="416.00" y2="678.90" stroke="#2e2e2e" stroke-width="0.80"/>
<line x1="368.00" y1="606.40" x2="368.00" y2="670.30" stroke="#555" stroke-width="0.70"/>
<line x1="412.00" y1="606.40" x2="412.00" y2="670.30" stroke="#555" stroke-width="0.70"/>
<line x1="389.30" y1="561.90" x2="389.30" y2="670.30" stroke="#555" stroke-width="0.70"/>
<line x1="392.00" y1="561.90" x2="392.00" y2="670.30" stroke="#555" stroke-width="0.70"/>
<line x1="387.50" y1="562.90" x2="387.50" y2="595.70" stroke="#555" stroke-width="0.70"/>
<line x1="410.00" y1="563.90" x2="410.00" y2="595.70" stroke="#555" stroke-width="0.70"/>
<circle cx="368.00" cy="601.10" r="1.90" stroke="#2e2e2e" stroke-width="0.90" fill="#fff"/>
<path d="M366.95 601.10 L368.00 600.06 L369.05 601.10 L368.00 602.14 Z" stroke="#2e2e2e" stroke-width="0.50" fill="none" />
<circle cx="368.00" cy="674.70" r="1.90" stroke="#2e2e2e" stroke-width="0.90" fill="#fff"/>
<path d="M366.95 674.70 L368.00 673.65 L369.05 674.70 L368.00 675.74 Z" stroke="#2e2e2e" stroke-width="0.50" fill="none" />
<circle cx="411.20" cy="601.10" r="1.90" stroke="#2e2e2e" stroke-width="0.90" fill="#fff"/>
<path d="M410.15 601.10 L411.20 600.06 L412.25 601.10 L411.20 602.14 Z" stroke="#2e2e2e" stroke-width="0.50" fill="none" />
<circle cx="411.20" cy="674.70" r="1.90" stroke="#2e2e2e" stroke-width="0.90" fill="#fff"/>
<path d="M410.15 674.70 L411.20 673.65 L412.25 674.70 L411.20 675.74 Z" stroke="#2e2e2e" stroke-width="0.50" fill="none" />
<line x1="367.20" y1="579.40" x2="385.80" y2="571.40" stroke="#444" stroke-width="0.55"/>
<line x1="367.20" y1="581.47" x2="385.54" y2="573.47" stroke="#444" stroke-width="0.55"/>
<line x1="367.20" y1="583.54" x2="385.29" y2="575.54" stroke="#444" stroke-width="0.55"/>
<line x1="367.20" y1="585.61" x2="385.03" y2="577.61" stroke="#444" stroke-width="0.55"/>
<line x1="367.20" y1="587.69" x2="384.77" y2="579.69" stroke="#444" stroke-width="0.55"/>
<line x1="367.20" y1="589.76" x2="384.51" y2="581.76" stroke="#444" stroke-width="0.55"/>
<line x1="367.20" y1="591.83" x2="384.26" y2="583.83" stroke="#444" stroke-width="0.55"/>
<line x1="367.20" y1="593.90" x2="384.00" y2="585.90" stroke="#444" stroke-width="0.55"/>
<path d="M385.80 563.90 Q386.50 578.90 384.00 586.40 L367.00 593.90" stroke="#555" stroke-width="0.70" fill="none" />
<line x1="385.80" y1="563.90" x2="385.80" y2="572.90" stroke="#555" stroke-width="0.70"/>
<path d="M367.60 569.90 L371.80 565.70 L376.00 569.90 L371.80 574.10 Z" stroke="#2e2e2e" stroke-width="0.80" fill="none" />
<circle cx="371.80" cy="569.90" r="1.50" stroke="#2e2e2e" stroke-width="0.60" fill="none"/>
<line x1="416.00" y1="629.40" x2="416.00" y2="677.40" stroke="#555" stroke-width="0.70"/>
<line x1="412.60" y1="566.90" x2="412.60" y2="581.90" stroke="#888" stroke-width="1.60"/>
<line x1="412.60" y1="610.90" x2="412.60" y2="621.90" stroke="#888" stroke-width="1.60"/>
<path d="M345.7 645.6 L314.8 645.6 Q313.6 645.6 313.6 646.8 L313.6 659.8 Q313.6 661 314.8 661 L345.7 661" stroke="#2e2e2e" stroke-width="1.20" fill="#fff" />
<path d="M429.00 563.50 L509.73 563.50 L515.70 570.96 L515.70 616.14 L509.73 623.60 L429.00 623.60 Z" stroke="#2e2e2e" stroke-width="1.20" fill="#fff" />
<line x1="429.00" y1="566.49" x2="488.82" y2="566.49" stroke="#555" stroke-width="0.70"/>
<line x1="429.00" y1="620.61" x2="488.82" y2="620.61" stroke="#555" stroke-width="0.70"/>
<line x1="488.82" y1="563.50" x2="488.82" y2="623.60" stroke="#2e2e2e" stroke-width="0.80"/>
<rect x="424.62" y="568.28" width="4.38" height="49.06" stroke="#2e2e2e" stroke-width="0.90" fill="#fff"/>
<line x1="430.00" y1="581.41" x2="456.40" y2="581.41" stroke="#444" stroke-width="0.55"/>
<line x1="430.00" y1="585.11" x2="456.40" y2="585.11" stroke="#444" stroke-width="0.55"/>
<line x1="430.00" y1="588.80" x2="456.40" y2="588.80" stroke="#444" stroke-width="0.55"/>
<line x1="430.00" y1="592.50" x2="456.40" y2="592.50" stroke="#444" stroke-width="0.55"/>
<line x1="430.00" y1="596.19" x2="456.40" y2="596.19" stroke="#444" stroke-width="0.55"/>
<line x1="430.00" y1="599.89" x2="456.40" y2="599.89" stroke="#444" stroke-width="0.55"/>
<line x1="430.00" y1="603.59" x2="456.40" y2="603.59" stroke="#444" stroke-width="0.55"/>
<line x1="430.00" y1="607.28" x2="456.40" y2="607.28" stroke="#444" stroke-width="0.55"/>
<rect x="456.40" y="575.94" width="35.20" height="33.33" stroke="#2e2e2e" stroke-width="0.90" fill="#fff"/>
<path d="M463.47 609.27 Q466.96 611.46 470.44 609.27" stroke="#2e2e2e" stroke-width="0.80" fill="none" />
<path d="M478.26 609.27 Q481.74 611.46 485.22 609.27" stroke="#2e2e2e" stroke-width="0.80" fill="none" />
<line x1="416.00" y1="568.50" x2="424.60" y2="568.50" stroke="#555" stroke-width="0.70"/>
<line x1="416.00" y1="618.60" x2="424.60" y2="618.60" stroke="#555" stroke-width="0.70"/>
<line x1="419.50" y1="564.50" x2="419.50" y2="575.50" stroke="#2e2e2e" stroke-width="0.80"/>
<line x1="419.50" y1="611.60" x2="419.50" y2="622.60" stroke="#2e2e2e" stroke-width="0.80"/>
<line x1="418.00" y1="593.50" x2="520.00" y2="593.50" stroke="#555" stroke-width="0.70" stroke-dasharray="1.5 1.8"/>
<line x1="300.00" y1="653.30" x2="424.00" y2="653.30" stroke="#555" stroke-width="0.70" stroke-dasharray="1.5 1.8"/>
<line x1="313.60" y1="535.00" x2="313.60" y2="645.00" stroke="#404040" stroke-width="0.75"/>
<line x1="414.00" y1="535.00" x2="414.00" y2="562.00" stroke="#404040" stroke-width="0.75"/>
<line x1="515.70" y1="535.00" x2="515.70" y2="570.00" stroke="#404040" stroke-width="0.75"/>
<line x1="313.60" y1="540.70" x2="414.00" y2="540.70" stroke="#404040" stroke-width="0.75"/>
<path d="M313.60 540.70 L322.10 539.55 L322.10 541.85 Z" fill="#222"/>
<path d="M414.00 540.70 L405.50 541.85 L405.50 539.55 Z" fill="#222"/>
<line x1="414.00" y1="540.70" x2="515.70" y2="540.70" stroke="#404040" stroke-width="0.75"/>
<path d="M414.00 540.70 L422.50 539.55 L422.50 541.85 Z" fill="#222"/>
<path d="M515.70 540.70 L507.20 541.85 L507.20 539.55 Z" fill="#222"/>
<text transform="translate(362.50,535.50) rotate(0.0) scale(1.080,1)" y="3.49" font-size="9.70" text-anchor="middle" fill="#1c1c1c">266</text>
<text transform="translate(462.00,535.50) rotate(0.0) scale(1.080,1)" y="3.49" font-size="9.70" text-anchor="middle" fill="#1c1c1c">L3</text>
<line x1="345.70" y1="557.00" x2="345.70" y2="608.00" stroke="#404040" stroke-width="0.75"/>
<line x1="313.60" y1="565.00" x2="345.70" y2="565.00" stroke="#404040" stroke-width="0.75"/>
<path d="M313.60 565.00 L322.10 563.85 L322.10 566.15 Z" fill="#222"/>
<path d="M345.70 565.00 L337.20 566.15 L337.20 563.85 Z" fill="#222"/>
<text transform="translate(329.60,559.40) rotate(0.0) scale(1.080,1)" y="3.49" font-size="9.70" text-anchor="middle" fill="#1c1c1c">80</text>
<line x1="273.00" y1="607.90" x2="346.00" y2="607.90" stroke="#404040" stroke-width="0.75"/>
<line x1="273.00" y1="698.90" x2="346.00" y2="698.90" stroke="#404040" stroke-width="0.75"/>
<line x1="278.20" y1="607.90" x2="278.20" y2="698.90" stroke="#404040" stroke-width="0.75"/>
<path d="M278.20 607.90 L279.35 616.40 L277.05 616.40 Z" fill="#222"/>
<path d="M278.20 698.90 L277.05 690.40 L279.35 690.40 Z" fill="#222"/>
<text transform="translate(273.00,656.00) rotate(-90.0) scale(1.000,1)" y="3.49" font-size="9.70" text-anchor="middle" fill="#1c1c1c">Φ250</text>
<line x1="291.00" y1="618.00" x2="346.00" y2="618.00" stroke="#404040" stroke-width="0.75"/>
<line x1="291.00" y1="688.60" x2="346.00" y2="688.60" stroke="#404040" stroke-width="0.75"/>
<line x1="296.00" y1="618.00" x2="296.00" y2="688.60" stroke="#404040" stroke-width="0.75"/>
<path d="M296.00 618.00 L297.15 626.50 L294.85 626.50 Z" fill="#222"/>
<path d="M296.00 688.60 L294.85 680.10 L297.15 680.10 Z" fill="#222"/>
<text transform="translate(290.20,656.00) rotate(-90.0) scale(1.000,1)" y="3.49" font-size="9.70" text-anchor="middle" fill="#1c1c1c">Φ180j6</text>
<text transform="translate(293.20,709.60) rotate(0.0) scale(1.080,1)" y="3.49" font-size="9.70" text-anchor="middle" fill="#1c1c1c">M16</text>
<path d="M282.00 715.30 L306.00 715.30 L313.80 661.40" stroke="#404040" stroke-width="0.75" fill="none" />
<line x1="345.70" y1="699.00" x2="345.70" y2="729.00" stroke="#404040" stroke-width="0.75"/>
<line x1="350.30" y1="699.00" x2="350.30" y2="714.00" stroke="#404040" stroke-width="0.75"/>
<line x1="365.00" y1="689.00" x2="365.00" y2="729.00" stroke="#404040" stroke-width="0.75"/>
<line x1="328.60" y1="710.00" x2="355.40" y2="710.00" stroke="#404040" stroke-width="0.75"/>
<path d="M345.70 710.00 L338.70 711.15 L338.70 708.85 Z" fill="#222"/>
<path d="M350.30 710.00 L357.30 708.85 L357.30 711.15 Z" fill="#222"/>
<text transform="translate(338.20,704.30) rotate(0.0) scale(1.080,1)" y="3.49" font-size="9.70" text-anchor="middle" fill="#1c1c1c">4</text>
<line x1="334.00" y1="725.70" x2="371.00" y2="725.70" stroke="#404040" stroke-width="0.75"/>
<path d="M345.70 725.70 L338.70 726.85 L338.70 724.55 Z" fill="#222"/>
<path d="M365.00 725.70 L372.00 724.55 L372.00 726.85 Z" fill="#222"/>
<text transform="translate(360.50,719.60) rotate(0.0) scale(1.080,1)" y="3.49" font-size="9.70" text-anchor="middle" fill="#1c1c1c">15</text>
<line x1="421.50" y1="563.50" x2="421.50" y2="623.60" stroke="#404040" stroke-width="0.75"/>
<path d="M421.50 563.50 L422.65 570.50 L420.35 570.50 Z" fill="#222"/>
<path d="M421.50 623.60 L420.35 616.60 L422.65 616.60 Z" fill="#222"/>
<text transform="translate(400.50,585.40) rotate(-90.0) scale(1.000,1)" y="3.10" font-size="8.60" text-anchor="middle" fill="#1c1c1c">Φ160</text>
<line x1="412.00" y1="593.50" x2="440.00" y2="593.50" stroke="#404040" stroke-width="0.75"/>
<line x1="412.00" y1="653.30" x2="440.00" y2="653.30" stroke="#404040" stroke-width="0.75"/>
<line x1="416.00" y1="688.20" x2="440.00" y2="688.20" stroke="#404040" stroke-width="0.75"/>
<line x1="435.00" y1="593.50" x2="435.00" y2="653.30" stroke="#404040" stroke-width="0.75"/>
<path d="M435.00 593.50 L436.15 602.00 L433.85 602.00 Z" fill="#222"/>
<path d="M435.00 653.30 L433.85 644.80 L436.15 644.80 Z" fill="#222"/>
<line x1="435.00" y1="653.30" x2="435.00" y2="688.20" stroke="#404040" stroke-width="0.75"/>
<path d="M435.00 653.30 L436.15 660.30 L433.85 660.30 Z" fill="#222"/>
<path d="M435.00 688.20 L433.85 681.20 L436.15 681.20 Z" fill="#222"/>
<text transform="translate(429.30,638.00) rotate(-90.0) scale(1.080,1)" y="3.49" font-size="9.70" text-anchor="middle" fill="#1c1c1c">159.5</text>
<text transform="translate(429.30,671.00) rotate(-90.0) scale(1.080,1)" y="3.49" font-size="9.70" text-anchor="middle" fill="#1c1c1c">97</text>
<line x1="515.70" y1="563.50" x2="531.00" y2="563.50" stroke="#404040" stroke-width="0.75"/>
<line x1="515.70" y1="623.60" x2="531.00" y2="623.60" stroke="#404040" stroke-width="0.75"/>
<line x1="524.90" y1="563.50" x2="524.90" y2="623.60" stroke="#404040" stroke-width="0.75"/>
<path d="M524.90 563.50 L526.05 572.00 L523.75 572.00 Z" fill="#222"/>
<path d="M524.90 623.60 L523.75 615.10 L526.05 615.10 Z" fill="#222"/>
<text transform="translate(518.50,595.00) rotate(-90.0) scale(1.080,1)" y="3.49" font-size="9.70" text-anchor="middle" fill="#1c1c1c">G</text>
<clipPath id="kc481681"><circle cx="481.70" cy="681.50" r="8.60"/></clipPath>
<path d="M455.90 690.10 L473.10 672.90 M458.30 690.10 L475.50 672.90 M460.70 690.10 L477.90 672.90 M463.10 690.10 L480.30 672.90 M465.50 690.10 L482.70 672.90 M467.90 690.10 L485.10 672.90 M470.30 690.10 L487.50 672.90 M472.70 690.10 L489.90 672.90 M475.10 690.10 L492.30 672.90 M477.50 690.10 L494.70 672.90 M479.90 690.10 L497.10 672.90 M482.30 690.10 L499.50 672.90 M484.70 690.10 L501.90 672.90 M487.10 690.10 L504.30 672.90 M489.50 690.10 L506.70 672.90" stroke="#555" stroke-width="0.55" clip-path="url(#kc481681)" fill="none"/>
<circle cx="481.70" cy="681.50" r="8.60" stroke="#2e2e2e" stroke-width="1.10" fill="none"/>
<rect x="479.50" y="672.40" width="4.40" height="3.20" stroke="#2e2e2e" stroke-width="0.80" fill="#fff"/>
<line x1="479.50" y1="671.90" x2="479.50" y2="660.90" stroke="#404040" stroke-width="0.75"/>
<line x1="483.90" y1="671.90" x2="483.90" y2="660.90" stroke="#404040" stroke-width="0.75"/>
<line x1="469.70" y1="664.60" x2="501.70" y2="664.60" stroke="#404040" stroke-width="0.75"/>
<path d="M479.50 664.60 L472.50 665.75 L472.50 663.45 Z" fill="#222"/>
<path d="M483.90 664.60 L490.90 663.45 L490.90 665.75 Z" fill="#222"/>
<text transform="translate(494.70,659.80) rotate(0.0) scale(1.080,1)" y="3.49" font-size="9.70" text-anchor="middle" fill="#1c1c1c">12</text>
<line x1="483.70" y1="672.60" x2="506.70" y2="672.60" stroke="#404040" stroke-width="0.75"/>
<line x1="483.70" y1="690.10" x2="506.70" y2="690.10" stroke="#404040" stroke-width="0.75"/>
<line x1="503.50" y1="672.60" x2="503.50" y2="690.10" stroke="#404040" stroke-width="0.75"/>
<path d="M503.50 672.60 L504.65 680.10 L502.35 680.10 Z" fill="#222"/>
<path d="M503.50 690.10 L502.35 682.60 L504.65 682.60 Z" fill="#222"/>
<text transform="translate(497.70,681.50) rotate(-90.0) scale(1.080,1)" y="3.49" font-size="9.70" text-anchor="middle" fill="#1c1c1c">43</text>
<line x1="473.10" y1="683.50" x2="473.10" y2="710.50" stroke="#404040" stroke-width="0.75"/>
<line x1="490.30" y1="683.50" x2="490.30" y2="710.50" stroke="#404040" stroke-width="0.75"/>
<line x1="462.70" y1="708.20" x2="522.70" y2="708.20" stroke="#404040" stroke-width="0.75"/>
<path d="M473.10 708.20 L465.60 709.35 L465.60 707.05 Z" fill="#222"/>
<path d="M490.30 708.20 L497.80 707.05 L497.80 709.35 Z" fill="#222"/>
<text transform="translate(507.20,701.90) rotate(0.0) scale(1.080,1)" y="3.49" font-size="9.70" text-anchor="middle" fill="#1c1c1c">Φ40k6</text>
<path d="M597.50 610.50 L602.50 610.50 L602.50 623.00 L607.50 629.00 L613.50 630.50 L617.50 630.50" stroke="#2e2e2e" stroke-width="1.20" fill="none" />
<path d="M597.50 701.50 L602.50 701.50 L602.50 689.00 L607.50 683.00 L613.50 681.50 L617.50 681.50" stroke="#2e2e2e" stroke-width="1.20" fill="none" />
<line x1="597.50" y1="610.50" x2="597.50" y2="701.50" stroke="#2e2e2e" stroke-width="1.20"/>
<line x1="613.50" y1="630.50" x2="613.50" y2="681.50" stroke="#2e2e2e" stroke-width="0.80"/>
<path d="M602.50 634.00 Q611.50 656.00 602.50 678.00" stroke="#2e2e2e" stroke-width="0.80" fill="none" />
<line x1="602.50" y1="623.00" x2="602.50" y2="689.00" stroke="#555" stroke-width="0.70"/>
<line x1="599.00" y1="620.50" x2="599.00" y2="691.50" stroke="#555" stroke-width="0.60"/>
<path d="M617.50 569.00 L620.50 565.50 L639.50 565.50 L640.50 563.50 L645.50 563.50 L646.50 565.50 L657.50 565.50 L658.50 564.00 L667.50 564.00 L668.50 565.50 L668.50 624.50 L666.00 627.00 L666.00 629.50 L668.50 631.50 L673.80 631.50 L673.80 677.50 L668.50 679.50 L668.50 681.00 L666.00 681.00 L666.00 689.00 L620.50 689.00 L620.50 681.00 L617.50 681.00 L609.50 681.00 L609.50 631.00 L617.50 631.00 L617.50 611.00 L616.30 609.00 L616.30 598.00 L617.50 597.00 Z" stroke="#2e2e2e" stroke-width="1.20" fill="#fff" />
<line x1="620.50" y1="690.00" x2="666.00" y2="690.00" stroke="#444" stroke-width="1.20" stroke-dasharray="2 1"/>
<line x1="620.50" y1="687.50" x2="666.00" y2="687.50" stroke="#555" stroke-width="0.70"/>
<line x1="617.50" y1="597.80" x2="668.50" y2="597.80" stroke="#2e2e2e" stroke-width="0.80"/>
<line x1="617.50" y1="608.50" x2="668.50" y2="608.50" stroke="#2e2e2e" stroke-width="0.80"/>
<line x1="617.50" y1="672.40" x2="668.50" y2="672.40" stroke="#2e2e2e" stroke-width="0.80"/>
<line x1="617.50" y1="681.00" x2="668.50" y2="681.00" stroke="#2e2e2e" stroke-width="0.80"/>
<line x1="620.50" y1="608.50" x2="620.50" y2="672.40" stroke="#555" stroke-width="0.70"/>
<line x1="664.50" y1="608.50" x2="664.50" y2="672.40" stroke="#555" stroke-width="0.70"/>
<line x1="617.50" y1="631.00" x2="617.50" y2="681.00" stroke="#555" stroke-width="0.70"/>
<line x1="611.00" y1="634.00" x2="611.00" y2="678.00" stroke="#555" stroke-width="0.70"/>
<line x1="641.80" y1="564.00" x2="641.80" y2="672.40" stroke="#555" stroke-width="0.70"/>
<line x1="644.50" y1="564.00" x2="644.50" y2="672.40" stroke="#555" stroke-width="0.70"/>
<line x1="640.00" y1="565.00" x2="640.00" y2="597.80" stroke="#555" stroke-width="0.70"/>
<line x1="662.50" y1="566.00" x2="662.50" y2="597.80" stroke="#555" stroke-width="0.70"/>
<circle cx="620.50" cy="603.20" r="1.90" stroke="#2e2e2e" stroke-width="0.90" fill="#fff"/>
<path d="M619.46 603.20 L620.50 602.16 L621.54 603.20 L620.50 604.25 Z" stroke="#2e2e2e" stroke-width="0.50" fill="none" />
<circle cx="620.50" cy="676.80" r="1.90" stroke="#2e2e2e" stroke-width="0.90" fill="#fff"/>
<path d="M619.46 676.80 L620.50 675.75 L621.54 676.80 L620.50 677.84 Z" stroke="#2e2e2e" stroke-width="0.50" fill="none" />
<circle cx="663.70" cy="603.20" r="1.90" stroke="#2e2e2e" stroke-width="0.90" fill="#fff"/>
<path d="M662.66 603.20 L663.70 602.16 L664.75 603.20 L663.70 604.25 Z" stroke="#2e2e2e" stroke-width="0.50" fill="none" />
<circle cx="663.70" cy="676.80" r="1.90" stroke="#2e2e2e" stroke-width="0.90" fill="#fff"/>
<path d="M662.66 676.80 L663.70 675.75 L664.75 676.80 L663.70 677.84 Z" stroke="#2e2e2e" stroke-width="0.50" fill="none" />
<line x1="619.70" y1="581.50" x2="638.30" y2="573.50" stroke="#444" stroke-width="0.55"/>
<line x1="619.70" y1="583.57" x2="638.04" y2="575.57" stroke="#444" stroke-width="0.55"/>
<line x1="619.70" y1="585.64" x2="637.79" y2="577.64" stroke="#444" stroke-width="0.55"/>
<line x1="619.70" y1="587.71" x2="637.53" y2="579.71" stroke="#444" stroke-width="0.55"/>
<line x1="619.70" y1="589.79" x2="637.27" y2="581.79" stroke="#444" stroke-width="0.55"/>
<line x1="619.70" y1="591.86" x2="637.01" y2="583.86" stroke="#444" stroke-width="0.55"/>
<line x1="619.70" y1="593.93" x2="636.76" y2="585.93" stroke="#444" stroke-width="0.55"/>
<line x1="619.70" y1="596.00" x2="636.50" y2="588.00" stroke="#444" stroke-width="0.55"/>
<path d="M638.30 566.00 Q639.00 581.00 636.50 588.50 L619.50 596.00" stroke="#555" stroke-width="0.70" fill="none" />
<line x1="638.30" y1="566.00" x2="638.30" y2="575.00" stroke="#555" stroke-width="0.70"/>
<circle cx="624.30" cy="572.00" r="3.70" stroke="#2e2e2e" stroke-width="1.00" fill="#fff"/>
<circle cx="624.30" cy="572.00" r="1.10" stroke="#2e2e2e" stroke-width="0.50" fill="none"/>
<line x1="668.50" y1="631.50" x2="668.50" y2="679.50" stroke="#555" stroke-width="0.70"/>
<line x1="665.10" y1="569.00" x2="665.10" y2="584.00" stroke="#888" stroke-width="1.60"/>
<line x1="665.10" y1="613.00" x2="665.10" y2="624.00" stroke="#888" stroke-width="1.60"/>
<path d="M682.90 566.30 L756.37 566.30 L762.30 573.71 L762.30 618.59 L756.37 626.00 L682.90 626.00 Z" stroke="#2e2e2e" stroke-width="1.20" fill="#fff" />
<line x1="682.90" y1="569.27" x2="737.69" y2="569.27" stroke="#555" stroke-width="0.70"/>
<line x1="682.90" y1="623.03" x2="737.69" y2="623.03" stroke="#555" stroke-width="0.70"/>
<line x1="737.69" y1="566.30" x2="737.69" y2="626.00" stroke="#2e2e2e" stroke-width="0.80"/>
<rect x="678.55" y="571.04" width="4.35" height="48.73" stroke="#2e2e2e" stroke-width="0.90" fill="#fff"/>
<line x1="683.90" y1="584.09" x2="707.99" y2="584.09" stroke="#444" stroke-width="0.55"/>
<line x1="683.90" y1="587.76" x2="707.99" y2="587.76" stroke="#444" stroke-width="0.55"/>
<line x1="683.90" y1="591.43" x2="707.99" y2="591.43" stroke="#444" stroke-width="0.55"/>
<line x1="683.90" y1="595.11" x2="707.99" y2="595.11" stroke="#444" stroke-width="0.55"/>
<line x1="683.90" y1="598.78" x2="707.99" y2="598.78" stroke="#444" stroke-width="0.55"/>
<line x1="683.90" y1="602.45" x2="707.99" y2="602.45" stroke="#444" stroke-width="0.55"/>
<line x1="683.90" y1="606.12" x2="707.99" y2="606.12" stroke="#444" stroke-width="0.55"/>
<line x1="683.90" y1="609.79" x2="707.99" y2="609.79" stroke="#444" stroke-width="0.55"/>
<rect x="707.99" y="578.66" width="32.24" height="33.11" stroke="#2e2e2e" stroke-width="0.90" fill="#fff"/>
<path d="M714.20 611.77 Q717.66 613.94 721.12 611.77" stroke="#2e2e2e" stroke-width="0.80" fill="none" />
<path d="M727.74 611.77 Q731.20 613.94 734.66 611.77" stroke="#2e2e2e" stroke-width="0.80" fill="none" />
<line x1="668.50" y1="571.30" x2="678.50" y2="571.30" stroke="#555" stroke-width="0.70"/>
<line x1="668.50" y1="621.00" x2="678.50" y2="621.00" stroke="#555" stroke-width="0.70"/>
<line x1="672.00" y1="567.30" x2="672.00" y2="578.30" stroke="#2e2e2e" stroke-width="0.80"/>
<line x1="672.00" y1="614.00" x2="672.00" y2="625.00" stroke="#2e2e2e" stroke-width="0.80"/>
<line x1="672.00" y1="596.10" x2="766.00" y2="596.10" stroke="#555" stroke-width="0.70" stroke-dasharray="1.5 1.8"/>
<line x1="596.00" y1="656.50" x2="684.00" y2="656.50" stroke="#555" stroke-width="0.70" stroke-dasharray="1.5 1.8"/>
<line x1="597.50" y1="533.00" x2="597.50" y2="610.00" stroke="#404040" stroke-width="0.75"/>
<line x1="667.40" y1="533.00" x2="667.40" y2="564.00" stroke="#404040" stroke-width="0.75"/>
<line x1="762.30" y1="533.00" x2="762.30" y2="573.00" stroke="#404040" stroke-width="0.75"/>
<line x1="597.50" y1="538.60" x2="667.40" y2="538.60" stroke="#404040" stroke-width="0.75"/>
<path d="M597.50 538.60 L606.00 537.45 L606.00 539.75 Z" fill="#222"/>
<path d="M667.40 538.60 L658.90 539.75 L658.90 537.45 Z" fill="#222"/>
<line x1="667.40" y1="538.60" x2="762.30" y2="538.60" stroke="#404040" stroke-width="0.75"/>
<path d="M667.40 538.60 L675.90 537.45 L675.90 539.75 Z" fill="#222"/>
<path d="M762.30 538.60 L753.80 539.75 L753.80 537.45 Z" fill="#222"/>
<text transform="translate(632.50,532.00) rotate(0.0) scale(1.080,1)" y="3.49" font-size="9.70" text-anchor="middle" fill="#1c1c1c">184</text>
<text transform="translate(718.20,532.00) rotate(0.0) scale(1.080,1)" y="3.49" font-size="9.70" text-anchor="middle" fill="#1c1c1c">L3</text>
<line x1="762.30" y1="566.30" x2="788.00" y2="566.30" stroke="#404040" stroke-width="0.75"/>
<line x1="762.30" y1="626.00" x2="788.00" y2="626.00" stroke="#404040" stroke-width="0.75"/>
<line x1="782.30" y1="566.30" x2="782.30" y2="626.00" stroke="#404040" stroke-width="0.75"/>
<path d="M782.30 566.30 L783.45 574.80 L781.15 574.80 Z" fill="#222"/>
<path d="M782.30 626.00 L781.15 617.50 L783.45 617.50 Z" fill="#222"/>
<text transform="translate(776.00,598.40) rotate(-90.0) scale(1.080,1)" y="3.49" font-size="9.70" text-anchor="middle" fill="#1c1c1c">G</text>
<line x1="582.00" y1="571.40" x2="611.00" y2="571.40" stroke="#404040" stroke-width="0.75"/>
<path d="M597.50 571.40 L590.50 572.55 L590.50 570.25 Z" fill="#222"/>
<path d="M602.50 571.40 L609.50 570.25 L609.50 572.55 Z" fill="#222"/>
<line x1="602.50" y1="566.00" x2="602.50" y2="610.00" stroke="#404040" stroke-width="0.75"/>
<text transform="translate(587.00,565.60) rotate(0.0) scale(1.080,1)" y="3.49" font-size="9.70" text-anchor="middle" fill="#1c1c1c">23</text>
<line x1="557.00" y1="611.00" x2="598.00" y2="611.00" stroke="#404040" stroke-width="0.75"/>
<line x1="557.00" y1="702.00" x2="598.00" y2="702.00" stroke="#404040" stroke-width="0.75"/>
<line x1="563.30" y1="611.00" x2="563.30" y2="702.00" stroke="#404040" stroke-width="0.75"/>
<path d="M563.30 611.00 L564.45 619.50 L562.15 619.50 Z" fill="#222"/>
<path d="M563.30 702.00 L562.15 693.50 L564.45 693.50 Z" fill="#222"/>
<text transform="translate(557.60,658.20) rotate(-90.0) scale(1.000,1)" y="3.49" font-size="9.70" text-anchor="middle" fill="#1c1c1c">Φ250</text>
<line x1="572.00" y1="621.80" x2="598.00" y2="621.80" stroke="#404040" stroke-width="0.75"/>
<line x1="572.00" y1="691.40" x2="615.00" y2="691.40" stroke="#404040" stroke-width="0.75"/>
<line x1="577.90" y1="621.80" x2="577.90" y2="691.40" stroke="#404040" stroke-width="0.75"/>
<path d="M577.90 621.80 L579.05 630.30 L576.75 630.30 Z" fill="#222"/>
<path d="M577.90 691.40 L576.75 682.90 L579.05 682.90 Z" fill="#222"/>
<text transform="translate(573.30,658.20) rotate(-90.0) scale(1.000,1)" y="3.49" font-size="9.70" text-anchor="middle" fill="#1c1c1c">Φ180j6</text>
<line x1="668.00" y1="656.50" x2="698.00" y2="656.50" stroke="#404040" stroke-width="0.75"/>
<line x1="668.00" y1="691.40" x2="698.00" y2="691.40" stroke="#404040" stroke-width="0.75"/>
<line x1="691.80" y1="656.50" x2="691.80" y2="691.40" stroke="#404040" stroke-width="0.75"/>
<path d="M691.80 656.50 L692.95 665.00 L690.65 665.00 Z" fill="#222"/>
<path d="M691.80 691.40 L690.65 682.90 L692.95 682.90 Z" fill="#222"/>
<text transform="translate(686.00,673.30) rotate(-90.0) scale(1.080,1)" y="3.49" font-size="9.70" text-anchor="middle" fill="#1c1c1c">97</text>
<line x1="602.50" y1="702.00" x2="602.50" y2="734.00" stroke="#404040" stroke-width="0.75"/>
<line x1="674.30" y1="686.00" x2="674.30" y2="709.00" stroke="#404040" stroke-width="0.75"/>
<line x1="602.50" y1="705.80" x2="674.30" y2="705.80" stroke="#404040" stroke-width="0.75"/>
<path d="M602.50 705.80 L611.00 704.65 L611.00 706.95 Z" fill="#222"/>
<path d="M674.30 705.80 L665.80 706.95 L665.80 704.65 Z" fill="#222"/>
<text transform="translate(634.80,700.20) rotate(0.0) scale(1.080,1)" y="3.49" font-size="9.70" text-anchor="middle" fill="#1c1c1c">183</text>
<line x1="597.50" y1="702.00" x2="597.50" y2="734.00" stroke="#404040" stroke-width="0.75"/>
<line x1="583.00" y1="715.40" x2="607.00" y2="715.40" stroke="#404040" stroke-width="0.75"/>
<path d="M597.50 715.40 L590.50 716.55 L590.50 714.25 Z" fill="#222"/>
<path d="M602.50 715.40 L609.50 714.25 L609.50 716.55 Z" fill="#222"/>
<text transform="translate(589.60,709.60) rotate(0.0) scale(1.080,1)" y="3.49" font-size="9.70" text-anchor="middle" fill="#1c1c1c">4</text>
<line x1="588.60" y1="730.60" x2="619.00" y2="730.60" stroke="#404040" stroke-width="0.75"/>
<path d="M602.50 730.60 L595.50 731.75 L595.50 729.45 Z" fill="#222"/>
<text transform="translate(612.80,723.80) rotate(0.0) scale(1.080,1)" y="3.49" font-size="9.70" text-anchor="middle" fill="#1c1c1c">15</text>
<path d="M607.3 90.9 L623 90.9 L626 92.6 L676.4 92.6 L676.4 112.6 L626 112.6 L623 114.3 L607.3 114.3 Z" stroke="#2a2a2a" stroke-width="1.10" fill="#fff" />
<line x1="610.00" y1="94.30" x2="622.00" y2="94.30" stroke="#505050" stroke-width="0.70"/>
<line x1="610.00" y1="110.90" x2="622.00" y2="110.90" stroke="#505050" stroke-width="0.70"/>
<line x1="626.00" y1="95.80" x2="676.40" y2="95.80" stroke="#505050" stroke-width="0.70"/>
<line x1="626.00" y1="109.40" x2="676.40" y2="109.40" stroke="#505050" stroke-width="0.70"/>
<line x1="610.00" y1="90.90" x2="610.00" y2="114.30" stroke="#505050" stroke-width="0.70"/>
<line x1="613.00" y1="90.90" x2="613.00" y2="114.30" stroke="#505050" stroke-width="0.50" stroke-dasharray="1.2 1.2"/>
<line x1="650.00" y1="92.60" x2="650.00" y2="112.60" stroke="#505050" stroke-width="0.70"/>
<line x1="659.50" y1="92.60" x2="659.50" y2="112.60" stroke="#505050" stroke-width="0.70"/>
<line x1="663.00" y1="92.60" x2="663.00" y2="112.60" stroke="#505050" stroke-width="0.70"/>
<rect x="611.50" y="98.50" width="12.00" height="7.00" stroke="#222" stroke-width="1.00" fill="none"/>
<line x1="609.00" y1="91.50" x2="609.00" y2="113.80" stroke="#333" stroke-width="1.30"/>
<line x1="611.50" y1="102.00" x2="626.00" y2="102.00" stroke="#505050" stroke-width="0.50" stroke-dasharray="1.2 1.2"/>
<line x1="607.30" y1="72.00" x2="607.30" y2="90.00" stroke="#404040" stroke-width="0.75"/>
<line x1="676.40" y1="72.00" x2="676.40" y2="132.00" stroke="#404040" stroke-width="0.75"/>
<line x1="607.30" y1="75.70" x2="676.40" y2="75.70" stroke="#404040" stroke-width="0.75"/>
<path d="M607.30 75.70 L615.80 74.55 L615.80 76.85 Z" fill="#222"/>
<path d="M676.40 75.70 L667.90 76.85 L667.90 74.55 Z" fill="#222"/>
<text transform="translate(643.60,68.60) rotate(0.0) scale(1.080,1)" y="3.49" font-size="9.70" text-anchor="middle" fill="#1c1c1c">180</text>
<line x1="616.40" y1="115.00" x2="616.40" y2="132.00" stroke="#404040" stroke-width="0.75"/>
<line x1="616.40" y1="129.40" x2="676.40" y2="129.40" stroke="#404040" stroke-width="0.75"/>
<path d="M616.40 129.40 L624.90 128.25 L624.90 130.55 Z" fill="#222"/>
<path d="M676.40 129.40 L667.90 130.55 L667.90 128.25 Z" fill="#222"/>
<text transform="translate(643.60,123.20) rotate(0.0) scale(1.080,1)" y="3.49" font-size="9.70" text-anchor="middle" fill="#1c1c1c">156</text>
<text transform="translate(592.00,120.70) rotate(0.0) scale(1.050,1)" y="3.17" font-size="8.80" text-anchor="middle" fill="#1c1c1c">M16×40</text>
<path d="M573.00 125.50 L612.00 125.50 L619.00 115.00 L623.60 102.90" stroke="#404040" stroke-width="0.75" fill="none" />
<text transform="translate(685.20,112.50) rotate(-90.0) scale(1.000,1)" y="3.31" font-size="9.20" text-anchor="middle" fill="#1c1c1c">Φ40H7</text>
<line x1="677.00" y1="90.90" x2="708.00" y2="90.90" stroke="#404040" stroke-width="0.75"/>
<line x1="677.00" y1="114.30" x2="708.00" y2="114.30" stroke="#404040" stroke-width="0.75"/>
<line x1="692.50" y1="92.60" x2="692.50" y2="112.60" stroke="#404040" stroke-width="0.75"/>
<path d="M692.50 92.60 L693.65 99.10 L691.35 99.10 Z" fill="#222"/>
<path d="M692.50 112.60 L691.35 106.10 L693.65 106.10 Z" fill="#222"/>
<line x1="705.00" y1="90.90" x2="705.00" y2="114.30" stroke="#404040" stroke-width="0.75"/>
<path d="M705.00 90.90 L706.15 97.90 L703.85 97.90 Z" fill="#222"/>
<path d="M705.00 114.30 L703.85 107.30 L706.15 107.30 Z" fill="#222"/>
<text transform="translate(700.40,102.50) rotate(-90.0) scale(1.000,1)" y="3.31" font-size="9.20" text-anchor="middle" fill="#1c1c1c">Φ55</text>
<circle cx="743.60" cy="102.30" r="13.40" stroke="#2a2a2a" stroke-width="1.10" fill="#fff"/>
<circle cx="743.60" cy="102.30" r="9.20" stroke="#2a2a2a" stroke-width="0.80" fill="none"/>
<circle cx="743.60" cy="102.30" r="1.50" stroke="#505050" stroke-width="0.50" fill="none"/>
<line x1="743.60" y1="90.30" x2="743.60" y2="114.30" stroke="#777" stroke-width="0.45" stroke-dasharray="1.5 1.5"/>
<line x1="731.60" y1="102.30" x2="755.60" y2="102.30" stroke="#777" stroke-width="0.45" stroke-dasharray="1.5 1.5"/>
<rect x="740.30" y="109.90" width="6.60" height="2.60" stroke="#2a2a2a" stroke-width="0.70" fill="#fff"/>
<line x1="750.00" y1="90.90" x2="773.00" y2="90.90" stroke="#404040" stroke-width="0.75"/>
<line x1="748.00" y1="112.00" x2="773.00" y2="112.00" stroke="#404040" stroke-width="0.75"/>
<line x1="770.00" y1="90.90" x2="770.00" y2="112.00" stroke="#404040" stroke-width="0.75"/>
<path d="M770.00 90.90 L771.15 97.90 L768.85 97.90 Z" fill="#222"/>
<path d="M770.00 112.00 L768.85 105.00 L771.15 105.00 Z" fill="#222"/>
<text transform="translate(764.60,101.80) rotate(-90.0) scale(1.080,1)" y="3.49" font-size="9.70" text-anchor="middle" fill="#1c1c1c">43.3</text>
<line x1="739.90" y1="111.00" x2="739.90" y2="128.50" stroke="#404040" stroke-width="0.75"/>
<line x1="746.40" y1="111.00" x2="746.40" y2="128.50" stroke="#404040" stroke-width="0.75"/>
<line x1="729.30" y1="125.70" x2="754.00" y2="125.70" stroke="#404040" stroke-width="0.75"/>
<path d="M739.90 125.70 L732.90 126.85 L732.90 124.55 Z" fill="#222"/>
<path d="M746.40 125.70 L753.40 124.55 L753.40 126.85 Z" fill="#222"/>
<text transform="translate(761.60,119.40) rotate(0.0) scale(1.080,1)" y="3.49" font-size="9.70" text-anchor="middle" fill="#1c1c1c">12</text>
<clipPath id="t67c"><rect x="630" y="150" width="110" height="88"/></clipPath>
<clipPath id="t67d"><rect x="630" y="150" width="110" height="98.5"/></clipPath>
<g clip-path="url(#t67c)">
<path d="M642.00 275.00 L642.00 227.90 C642.00 216.46 646.28 203.44 659.51 198.60 C664.76 196.56 669.63 196.00 674.00 196.00 L688.60 196.00 C692.97 196.00 697.84 196.56 703.09 198.60 C716.32 203.44 720.60 216.46 720.60 227.90 L720.60 275.00" stroke="#444" stroke-width="1.00" fill="#fff" />
<path d="M678.19 195.50 L678.19 216.46 Q678.19 220.18 672.55 221.57 Q657.95 224.37 646.77 227.16" stroke="#2a2a2a" stroke-width="0.80" fill="none" />
<path d="M677.12 208.74 Q673.37 211.25 669.63 211.34 Q665.49 213.72 661.36 213.67 Q657.22 216.04 653.09 216.00 Q649.44 218.60 645.79 218.78" stroke="#2a2a2a" stroke-width="0.80" fill="none" />
<path d="M678.19 205.30 Q677.89 208.09 677.12 208.74" stroke="#2a2a2a" stroke-width="0.70" fill="none" />
<line x1="669.63" y1="211.34" x2="669.63" y2="222.04" stroke="#2a2a2a" stroke-width="0.70"/>
<line x1="670.89" y1="211.81" x2="670.89" y2="221.76" stroke="#777" stroke-width="0.45"/>
<line x1="661.36" y1="213.67" x2="661.36" y2="223.90" stroke="#2a2a2a" stroke-width="0.70"/>
<line x1="662.62" y1="214.13" x2="662.62" y2="223.62" stroke="#777" stroke-width="0.45"/>
<line x1="653.09" y1="216.00" x2="653.09" y2="225.76" stroke="#2a2a2a" stroke-width="0.70"/>
<line x1="654.35" y1="216.46" x2="654.35" y2="225.48" stroke="#777" stroke-width="0.45"/>
<line x1="645.79" y1="218.78" x2="645.79" y2="227.16" stroke="#2a2a2a" stroke-width="0.70"/>
<line x1="647.06" y1="219.25" x2="647.06" y2="226.88" stroke="#777" stroke-width="0.45"/>
<path d="M684.41 195.50 L684.41 216.46 Q684.41 220.18 690.05 221.57 Q704.65 224.37 715.83 227.16" stroke="#2a2a2a" stroke-width="0.80" fill="none" />
<path d="M685.48 208.74 Q689.23 211.25 692.97 211.34 Q697.11 213.72 701.24 213.67 Q705.38 216.04 709.51 216.00 Q713.16 218.60 716.81 218.78" stroke="#2a2a2a" stroke-width="0.80" fill="none" />
<path d="M684.41 205.30 Q684.71 208.09 685.48 208.74" stroke="#2a2a2a" stroke-width="0.70" fill="none" />
<line x1="692.97" y1="211.34" x2="692.97" y2="222.04" stroke="#2a2a2a" stroke-width="0.70"/>
<line x1="691.71" y1="211.81" x2="691.71" y2="221.76" stroke="#777" stroke-width="0.45"/>
<line x1="701.24" y1="213.67" x2="701.24" y2="223.90" stroke="#2a2a2a" stroke-width="0.70"/>
<line x1="699.98" y1="214.13" x2="699.98" y2="223.62" stroke="#777" stroke-width="0.45"/>
<line x1="709.51" y1="216.00" x2="709.51" y2="225.76" stroke="#2a2a2a" stroke-width="0.70"/>
<line x1="708.25" y1="216.46" x2="708.25" y2="225.48" stroke="#777" stroke-width="0.45"/>
<line x1="716.81" y1="218.78" x2="716.81" y2="227.16" stroke="#2a2a2a" stroke-width="0.70"/>
<line x1="715.54" y1="219.25" x2="715.54" y2="226.88" stroke="#777" stroke-width="0.45"/>
<line x1="678.19" y1="200.65" x2="684.41" y2="200.65" stroke="#505050" stroke-width="0.55"/>
<line x1="678.19" y1="203.44" x2="684.41" y2="203.44" stroke="#505050" stroke-width="0.55"/>
<line x1="678.19" y1="205.76" x2="684.41" y2="205.76" stroke="#505050" stroke-width="0.55"/>
<rect x="640.80" y="229.02" width="12.16" height="10.42" stroke="#2a2a2a" stroke-width="0.90" fill="#fff" rx="0.8"/>
<line x1="640.80" y1="231.93" x2="652.96" y2="231.93" stroke="#505050" stroke-width="0.50"/>
<line x1="640.80" y1="235.47" x2="652.96" y2="235.47" stroke="#505050" stroke-width="0.50"/>
<line x1="641.80" y1="233.70" x2="651.96" y2="233.70" stroke="#777" stroke-width="0.50" stroke-dasharray="1.5 1.2"/>
<rect x="709.64" y="229.02" width="12.16" height="10.42" stroke="#2a2a2a" stroke-width="0.90" fill="#fff" rx="0.8"/>
<line x1="709.64" y1="231.93" x2="721.80" y2="231.93" stroke="#505050" stroke-width="0.50"/>
<line x1="709.64" y1="235.47" x2="721.80" y2="235.47" stroke="#505050" stroke-width="0.50"/>
<line x1="710.64" y1="233.70" x2="720.80" y2="233.70" stroke="#777" stroke-width="0.50" stroke-dasharray="1.5 1.2"/>
</g>
<g clip-path="url(#t67d)">
<circle cx="667.00" cy="246.00" r="12.50" stroke="#444" stroke-width="0.90" fill="none"/>
<circle cx="667.00" cy="246.00" r="10.00" stroke="#505050" stroke-width="0.60" fill="none"/>
<circle cx="693.00" cy="248.00" r="11.50" stroke="#444" stroke-width="0.90" fill="none"/>
<circle cx="693.00" cy="248.00" r="9.00" stroke="#505050" stroke-width="0.60" fill="none"/>
<circle cx="707.80" cy="242.00" r="1.80" stroke="#2a2a2a" stroke-width="0.70" fill="none"/>
<path d="M643 238 Q645 243 654.5 244.5 M720 238 Q719 246 709 248.5 L704 248" stroke="#555" stroke-width="0.80" fill="none" />
</g>
<path d="M690 196 L690 166 Q690 164.3 692 164.3 L696.3 164.3 Q698.3 164.3 698.3 166 L698.3 196" stroke="#2a2a2a" stroke-width="1.00" fill="#fff" />
<rect x="654.30" y="196.00" width="52.00" height="10.00" stroke="#222" stroke-width="1.30" fill="#fff" rx="1.5"/>
<line x1="655.00" y1="199.00" x2="706.00" y2="199.00" stroke="#333" stroke-width="0.70"/>
<line x1="655.00" y1="203.30" x2="706.00" y2="203.30" stroke="#333" stroke-width="0.70"/>
<line x1="658.00" y1="196.00" x2="658.00" y2="206.00" stroke="#222" stroke-width="1.00"/>
<line x1="661.50" y1="196.00" x2="661.50" y2="206.00" stroke="#222" stroke-width="1.00"/>
<line x1="665.00" y1="196.00" x2="665.00" y2="206.00" stroke="#222" stroke-width="1.00"/>
<line x1="691.00" y1="196.00" x2="691.00" y2="206.00" stroke="#222" stroke-width="1.00"/>
<line x1="695.00" y1="196.00" x2="695.00" y2="206.00" stroke="#222" stroke-width="1.00"/>
<line x1="699.00" y1="196.00" x2="699.00" y2="206.00" stroke="#222" stroke-width="1.00"/>
<line x1="702.50" y1="196.00" x2="702.50" y2="206.00" stroke="#222" stroke-width="1.00"/>
<rect x="666.50" y="198.30" width="23.00" height="5.50" stroke="#222" stroke-width="1.20" fill="#fff"/>
<rect x="679.50" y="206.00" width="3.50" height="6.00" stroke="#2a2a2a" stroke-width="0.70" fill="#ccc"/>
<path d="M102.80 797.04 L105.68 793.68 L123.92 793.68 L124.88 791.76 L129.68 791.76 L130.64 793.68 L141.20 793.68 L142.16 792.24 L150.80 792.24 L151.76 793.68 L151.76 850.32 L149.36 852.72 L149.36 855.12 L151.76 857.04 L156.85 857.04 L156.85 901.20 L151.76 903.12 L151.76 904.56 L149.36 904.56 L149.36 912.24 L105.68 912.24 L105.68 904.56 L102.80 904.56 L102.80 837.36 L101.65 835.44 L101.65 824.88 L102.80 823.92 Z" stroke="#2e2e2e" stroke-width="1.20" fill="#fff" />
<line x1="105.68" y1="913.20" x2="149.36" y2="913.20" stroke="#444" stroke-width="1.20" stroke-dasharray="2 1"/>
<line x1="105.68" y1="910.80" x2="149.36" y2="910.80" stroke="#555" stroke-width="0.70"/>
<line x1="102.80" y1="824.69" x2="151.76" y2="824.69" stroke="#2e2e2e" stroke-width="0.80"/>
<line x1="102.80" y1="834.96" x2="151.76" y2="834.96" stroke="#2e2e2e" stroke-width="0.80"/>
<line x1="102.80" y1="896.30" x2="151.76" y2="896.30" stroke="#2e2e2e" stroke-width="0.80"/>
<line x1="102.80" y1="904.56" x2="151.76" y2="904.56" stroke="#2e2e2e" stroke-width="0.80"/>
<line x1="105.68" y1="834.96" x2="105.68" y2="896.30" stroke="#555" stroke-width="0.70"/>
<line x1="147.92" y1="834.96" x2="147.92" y2="896.30" stroke="#555" stroke-width="0.70"/>
<line x1="126.13" y1="792.24" x2="126.13" y2="896.30" stroke="#555" stroke-width="0.70"/>
<line x1="128.72" y1="792.24" x2="128.72" y2="896.30" stroke="#555" stroke-width="0.70"/>
<line x1="124.40" y1="793.20" x2="124.40" y2="824.69" stroke="#555" stroke-width="0.70"/>
<line x1="146.00" y1="794.16" x2="146.00" y2="824.69" stroke="#555" stroke-width="0.70"/>
<circle cx="105.68" cy="829.87" r="1.82" stroke="#2e2e2e" stroke-width="0.90" fill="#fff"/>
<path d="M104.68 829.87 L105.68 828.87 L106.68 829.87 L105.68 830.88 Z" stroke="#2e2e2e" stroke-width="0.50" fill="none" />
<circle cx="105.68" cy="900.53" r="1.82" stroke="#2e2e2e" stroke-width="0.90" fill="#fff"/>
<path d="M104.68 900.53 L105.68 899.52 L106.68 900.53 L105.68 901.53 Z" stroke="#2e2e2e" stroke-width="0.50" fill="none" />
<circle cx="147.15" cy="829.87" r="1.82" stroke="#2e2e2e" stroke-width="0.90" fill="#fff"/>
<path d="M146.15 829.87 L147.15 828.87 L148.16 829.87 L147.15 830.88 Z" stroke="#2e2e2e" stroke-width="0.50" fill="none" />
<circle cx="147.15" cy="900.53" r="1.82" stroke="#2e2e2e" stroke-width="0.90" fill="#fff"/>
<path d="M146.15 900.53 L147.15 899.52 L148.16 900.53 L147.15 901.53 Z" stroke="#2e2e2e" stroke-width="0.50" fill="none" />
<line x1="104.91" y1="809.04" x2="122.77" y2="801.36" stroke="#444" stroke-width="0.55"/>
<line x1="104.91" y1="811.03" x2="122.52" y2="803.35" stroke="#444" stroke-width="0.55"/>
<line x1="104.91" y1="813.02" x2="122.27" y2="805.34" stroke="#444" stroke-width="0.55"/>
<line x1="104.91" y1="815.01" x2="122.03" y2="807.33" stroke="#444" stroke-width="0.55"/>
<line x1="104.91" y1="816.99" x2="121.78" y2="809.31" stroke="#444" stroke-width="0.55"/>
<line x1="104.91" y1="818.98" x2="121.53" y2="811.30" stroke="#444" stroke-width="0.55"/>
<line x1="104.91" y1="820.97" x2="121.29" y2="813.29" stroke="#444" stroke-width="0.55"/>
<line x1="104.91" y1="822.96" x2="121.04" y2="815.28" stroke="#444" stroke-width="0.55"/>
<path d="M122.77 794.16 Q123.44 808.56 121.04 815.76 L104.72 822.96" stroke="#555" stroke-width="0.70" fill="none" />
<line x1="122.77" y1="794.16" x2="122.77" y2="802.80" stroke="#555" stroke-width="0.70"/>
<path d="M105.30 799.92 L109.33 795.89 L113.36 799.92 L109.33 803.95 Z" stroke="#2e2e2e" stroke-width="0.80" fill="none" />
<circle cx="109.33" cy="799.92" r="1.44" stroke="#2e2e2e" stroke-width="0.60" fill="none"/>
<line x1="151.76" y1="857.04" x2="151.76" y2="903.12" stroke="#555" stroke-width="0.70"/>
<path d="M102.80 855.41 L95.89 855.41 L95.89 904.85 L102.80 904.85" stroke="#2e2e2e" stroke-width="1.20" fill="#fff" />
<path d="M95.89 872.78 L67.86 872.78 Q66.70 872.78 66.70 873.94 L66.70 886.22 Q66.70 887.38 67.86 887.38 L95.89 887.38" stroke="#2e2e2e" stroke-width="1.20" fill="#fff" />
<line x1="94.74" y1="872.78" x2="94.74" y2="887.38" stroke="#555" stroke-width="0.70"/>
<line x1="59.00" y1="882.10" x2="166.00" y2="882.10" stroke="#555" stroke-width="0.70" stroke-dasharray="1.5 1.8"/>
<path d="M152.5 797 L160 798.6 L160 850 L152.5 852" stroke="#2a2a2a" stroke-width="0.90" fill="#fff" />
<path d="M160 798.6 L166 798.6 Q170.7 799.5 170.7 803 L170.7 846 Q170.7 849.5 166 850 L160 850 Z" stroke="#2a2a2a" stroke-width="1.00" fill="#fff" />
<path d="M161 805 Q167 812 167 824.3 Q167 837 161 843.5" stroke="#2a2a2a" stroke-width="0.80" fill="none" />
<rect x="162.30" y="812.00" width="4.60" height="24.60" stroke="#222" stroke-width="0.60" fill="#3a3a3a"/>
<line x1="162.00" y1="818.00" x2="167.00" y2="818.00" stroke="#ddd" stroke-width="0.60"/>
<line x1="162.00" y1="824.30" x2="167.00" y2="824.30" stroke="#eee" stroke-width="0.80"/>
<line x1="162.00" y1="830.50" x2="167.00" y2="830.50" stroke="#ddd" stroke-width="0.60"/>
<line x1="150.00" y1="824.30" x2="181.00" y2="824.30" stroke="#555" stroke-width="0.70" stroke-dasharray="1.5 1.8"/>
<line x1="152.50" y1="776.00" x2="152.50" y2="795.00" stroke="#404040" stroke-width="0.75"/>
<line x1="170.70" y1="776.00" x2="170.70" y2="800.00" stroke="#404040" stroke-width="0.75"/>
<line x1="132.00" y1="781.40" x2="191.00" y2="781.40" stroke="#404040" stroke-width="0.75"/>
<path d="M152.50 781.40 L145.00 782.55 L145.00 780.25 Z" fill="#222"/>
<path d="M170.70 781.40 L178.20 780.25 L178.20 782.55 Z" fill="#222"/>
<text transform="translate(161.70,773.80) rotate(0.0) scale(1.080,1)" y="3.49" font-size="9.70" text-anchor="middle" fill="#1c1c1c">L6</text>
<path d="M287.10 793.14 L289.98 789.78 L308.22 789.78 L309.18 787.86 L313.98 787.86 L314.94 789.78 L325.50 789.78 L326.46 788.34 L335.10 788.34 L336.06 789.78 L336.06 846.42 L333.66 848.82 L333.66 851.22 L336.06 853.14 L341.15 853.14 L341.15 897.30 L336.06 899.22 L336.06 900.66 L333.66 900.66 L333.66 908.34 L289.98 908.34 L289.98 900.66 L287.10 900.66 L287.10 833.46 L285.95 831.54 L285.95 820.98 L287.10 820.02 Z" stroke="#2e2e2e" stroke-width="1.20" fill="#fff" />
<line x1="289.98" y1="909.30" x2="333.66" y2="909.30" stroke="#444" stroke-width="1.20" stroke-dasharray="2 1"/>
<line x1="289.98" y1="906.90" x2="333.66" y2="906.90" stroke="#555" stroke-width="0.70"/>
<line x1="287.10" y1="820.79" x2="336.06" y2="820.79" stroke="#2e2e2e" stroke-width="0.80"/>
<line x1="287.10" y1="831.06" x2="336.06" y2="831.06" stroke="#2e2e2e" stroke-width="0.80"/>
<line x1="287.10" y1="892.40" x2="336.06" y2="892.40" stroke="#2e2e2e" stroke-width="0.80"/>
<line x1="287.10" y1="900.66" x2="336.06" y2="900.66" stroke="#2e2e2e" stroke-width="0.80"/>
<line x1="289.98" y1="831.06" x2="289.98" y2="892.40" stroke="#555" stroke-width="0.70"/>
<line x1="332.22" y1="831.06" x2="332.22" y2="892.40" stroke="#555" stroke-width="0.70"/>
<line x1="310.43" y1="788.34" x2="310.43" y2="892.40" stroke="#555" stroke-width="0.70"/>
<line x1="313.02" y1="788.34" x2="313.02" y2="892.40" stroke="#555" stroke-width="0.70"/>
<line x1="308.70" y1="789.30" x2="308.70" y2="820.79" stroke="#555" stroke-width="0.70"/>
<line x1="330.30" y1="790.26" x2="330.30" y2="820.79" stroke="#555" stroke-width="0.70"/>
<circle cx="289.98" cy="825.97" r="1.82" stroke="#2e2e2e" stroke-width="0.90" fill="#fff"/>
<path d="M288.98 825.97 L289.98 824.97 L290.98 825.97 L289.98 826.98 Z" stroke="#2e2e2e" stroke-width="0.50" fill="none" />
<circle cx="289.98" cy="896.63" r="1.82" stroke="#2e2e2e" stroke-width="0.90" fill="#fff"/>
<path d="M288.98 896.63 L289.98 895.62 L290.98 896.63 L289.98 897.63 Z" stroke="#2e2e2e" stroke-width="0.50" fill="none" />
<circle cx="331.45" cy="825.97" r="1.82" stroke="#2e2e2e" stroke-width="0.90" fill="#fff"/>
<path d="M330.45 825.97 L331.45 824.97 L332.46 825.97 L331.45 826.98 Z" stroke="#2e2e2e" stroke-width="0.50" fill="none" />
<circle cx="331.45" cy="896.63" r="1.82" stroke="#2e2e2e" stroke-width="0.90" fill="#fff"/>
<path d="M330.45 896.63 L331.45 895.62 L332.46 896.63 L331.45 897.63 Z" stroke="#2e2e2e" stroke-width="0.50" fill="none" />
<line x1="289.21" y1="805.14" x2="307.07" y2="797.46" stroke="#444" stroke-width="0.55"/>
<line x1="289.21" y1="807.13" x2="306.82" y2="799.45" stroke="#444" stroke-width="0.55"/>
<line x1="289.21" y1="809.12" x2="306.57" y2="801.44" stroke="#444" stroke-width="0.55"/>
<line x1="289.21" y1="811.11" x2="306.33" y2="803.43" stroke="#444" stroke-width="0.55"/>
<line x1="289.21" y1="813.09" x2="306.08" y2="805.41" stroke="#444" stroke-width="0.55"/>
<line x1="289.21" y1="815.08" x2="305.83" y2="807.40" stroke="#444" stroke-width="0.55"/>
<line x1="289.21" y1="817.07" x2="305.59" y2="809.39" stroke="#444" stroke-width="0.55"/>
<line x1="289.21" y1="819.06" x2="305.34" y2="811.38" stroke="#444" stroke-width="0.55"/>
<path d="M307.07 790.26 Q307.74 804.66 305.34 811.86 L289.02 819.06" stroke="#555" stroke-width="0.70" fill="none" />
<line x1="307.07" y1="790.26" x2="307.07" y2="798.90" stroke="#555" stroke-width="0.70"/>
<path d="M289.60 796.02 L293.63 791.99 L297.66 796.02 L293.63 800.05 Z" stroke="#2e2e2e" stroke-width="0.80" fill="none" />
<circle cx="293.63" cy="796.02" r="1.44" stroke="#2e2e2e" stroke-width="0.60" fill="none"/>
<line x1="336.06" y1="853.14" x2="336.06" y2="899.22" stroke="#555" stroke-width="0.70"/>
<path d="M287.10 851.51 L279.61 851.51 L279.61 900.95 L287.10 900.95" stroke="#2e2e2e" stroke-width="1.20" fill="#fff" />
<path d="M279.61 868.88 L251.96 868.88 Q250.81 868.88 250.81 870.04 L250.81 882.32 Q250.81 883.48 251.96 883.48 L279.61 883.48" stroke="#2e2e2e" stroke-width="1.20" fill="#fff" />
<line x1="278.46" y1="868.88" x2="278.46" y2="883.48" stroke="#555" stroke-width="0.70"/>
<line x1="240.00" y1="879.10" x2="350.00" y2="879.10" stroke="#555" stroke-width="0.70" stroke-dasharray="1.5 1.8"/>
<rect x="336.40" y="797.00" width="9.60" height="50.00" stroke="#2a2a2a" stroke-width="0.90" fill="#fff"/>
<path d="M346 800 L352 800 L354 802.5 L368 802.5 L368 834 L354 834 L352 836.5 L346 836.5 Z" stroke="#2a2a2a" stroke-width="0.90" fill="#fff" />
<line x1="355.50" y1="818.00" x2="367.00" y2="818.00" stroke="#666" stroke-width="0.50"/>
<line x1="355.50" y1="820.60" x2="367.00" y2="820.60" stroke="#666" stroke-width="0.50"/>
<line x1="355.50" y1="823.20" x2="367.00" y2="823.20" stroke="#666" stroke-width="0.50"/>
<line x1="355.50" y1="825.80" x2="367.00" y2="825.80" stroke="#666" stroke-width="0.50"/>
<line x1="355.50" y1="828.40" x2="367.00" y2="828.40" stroke="#666" stroke-width="0.50"/>
<line x1="355.50" y1="831.00" x2="367.00" y2="831.00" stroke="#666" stroke-width="0.50"/>
<rect x="352.50" y="826.00" width="4.50" height="5.00" stroke="#2a2a2a" stroke-width="0.70" fill="none"/>
<rect x="368.00" y="800.00" width="6.00" height="38.00" stroke="#2a2a2a" stroke-width="0.90" fill="#fff"/>
<path d="M374 798 L377 796.6 L384 796.6 L386.7 798.5 L386.7 840 L384 841.7 L377 841.7 L374 840 Z" stroke="#2a2a2a" stroke-width="1.00" fill="#fff" />
<line x1="377.00" y1="796.60" x2="377.00" y2="841.70" stroke="#505050" stroke-width="0.60"/>
<circle cx="380.00" cy="791.60" r="3.20" stroke="#2a2a2a" stroke-width="1.10" fill="none"/>
<circle cx="380.00" cy="791.60" r="1.60" stroke="#2a2a2a" stroke-width="0.60" fill="none"/>
<line x1="379.00" y1="794.50" x2="381.00" y2="794.50" stroke="#2a2a2a" stroke-width="1.20"/>
<path d="M386.7 806 L390 806 L393 803 L393 832 L390 829.5 L386.7 829.5" stroke="#2a2a2a" stroke-width="0.80" fill="#fff" />
<path d="M393.00 801.90 L434.58 801.90 L437.70 805.80 L437.70 829.40 L434.58 833.30 L393.00 833.30 Z" stroke="#2e2e2e" stroke-width="1.20" fill="#fff" />
<line x1="393.00" y1="803.46" x2="423.84" y2="803.46" stroke="#555" stroke-width="0.70"/>
<line x1="393.00" y1="831.74" x2="423.84" y2="831.74" stroke="#555" stroke-width="0.70"/>
<line x1="423.84" y1="801.90" x2="423.84" y2="833.30" stroke="#2e2e2e" stroke-width="0.80"/>
<line x1="394.00" y1="811.26" x2="407.13" y2="811.26" stroke="#444" stroke-width="0.55"/>
<line x1="394.00" y1="813.19" x2="407.13" y2="813.19" stroke="#444" stroke-width="0.55"/>
<line x1="394.00" y1="815.12" x2="407.13" y2="815.12" stroke="#444" stroke-width="0.55"/>
<line x1="394.00" y1="817.05" x2="407.13" y2="817.05" stroke="#444" stroke-width="0.55"/>
<line x1="394.00" y1="818.98" x2="407.13" y2="818.98" stroke="#444" stroke-width="0.55"/>
<line x1="394.00" y1="820.91" x2="407.13" y2="820.91" stroke="#444" stroke-width="0.55"/>
<line x1="394.00" y1="822.84" x2="407.13" y2="822.84" stroke="#444" stroke-width="0.55"/>
<line x1="394.00" y1="824.77" x2="407.13" y2="824.77" stroke="#444" stroke-width="0.55"/>
<rect x="407.13" y="808.40" width="18.15" height="17.42" stroke="#2e2e2e" stroke-width="0.90" fill="#fff"/>
<path d="M410.75 825.81 Q412.57 826.96 414.39 825.81" stroke="#2e2e2e" stroke-width="0.80" fill="none" />
<path d="M418.37 825.81 Q420.19 826.96 422.01 825.81" stroke="#2e2e2e" stroke-width="0.80" fill="none" />
<line x1="393.00" y1="817.60" x2="445.00" y2="817.60" stroke="#666" stroke-width="0.60" stroke-dasharray="1.5 1.5"/>
<line x1="336.90" y1="768.00" x2="336.90" y2="800.00" stroke="#404040" stroke-width="0.75"/>
<line x1="386.70" y1="768.00" x2="386.70" y2="798.00" stroke="#404040" stroke-width="0.75"/>
<line x1="439.60" y1="768.00" x2="439.60" y2="806.00" stroke="#404040" stroke-width="0.75"/>
<line x1="336.90" y1="772.30" x2="386.70" y2="772.30" stroke="#404040" stroke-width="0.75"/>
<path d="M336.90 772.30 L345.40 771.15 L345.40 773.45 Z" fill="#222"/>
<path d="M386.70 772.30 L378.20 773.45 L378.20 771.15 Z" fill="#222"/>
<line x1="386.70" y1="772.30" x2="439.60" y2="772.30" stroke="#404040" stroke-width="0.75"/>
<path d="M386.70 772.30 L395.20 771.15 L395.20 773.45 Z" fill="#222"/>
<path d="M439.60 772.30 L431.10 773.45 L431.10 771.15 Z" fill="#222"/>
<text transform="translate(361.80,766.00) rotate(0.0) scale(1.080,1)" y="3.49" font-size="9.70" text-anchor="middle" fill="#1c1c1c">151</text>
<text transform="translate(409.70,766.00) rotate(0.0) scale(1.080,1)" y="3.49" font-size="9.70" text-anchor="middle" fill="#1c1c1c">L3</text>
<path d="M518.10 791.90 L521.02 788.49 L539.55 788.49 L540.52 786.54 L545.40 786.54 L546.38 788.49 L557.10 788.49 L558.08 787.02 L566.85 787.02 L567.83 788.49 L567.83 846.01 L565.39 848.45 L565.39 850.89 L567.83 852.84 L572.99 852.84 L572.99 897.69 L567.83 899.64 L567.83 901.10 L565.39 901.10 L565.39 908.90 L521.02 908.90 L521.02 901.10 L518.10 901.10 L518.10 832.85 L516.93 830.90 L516.93 820.17 L518.10 819.20 Z" stroke="#2e2e2e" stroke-width="1.20" fill="#fff" />
<line x1="521.02" y1="909.88" x2="565.39" y2="909.88" stroke="#444" stroke-width="1.20" stroke-dasharray="2 1"/>
<line x1="521.02" y1="907.44" x2="565.39" y2="907.44" stroke="#555" stroke-width="0.70"/>
<line x1="518.10" y1="819.98" x2="567.83" y2="819.98" stroke="#2e2e2e" stroke-width="0.80"/>
<line x1="518.10" y1="830.41" x2="567.83" y2="830.41" stroke="#2e2e2e" stroke-width="0.80"/>
<line x1="518.10" y1="892.72" x2="567.83" y2="892.72" stroke="#2e2e2e" stroke-width="0.80"/>
<line x1="518.10" y1="901.10" x2="567.83" y2="901.10" stroke="#2e2e2e" stroke-width="0.80"/>
<line x1="521.02" y1="830.41" x2="521.02" y2="892.72" stroke="#555" stroke-width="0.70"/>
<line x1="563.93" y1="830.41" x2="563.93" y2="892.72" stroke="#555" stroke-width="0.70"/>
<line x1="541.79" y1="787.02" x2="541.79" y2="892.72" stroke="#555" stroke-width="0.70"/>
<line x1="544.43" y1="787.02" x2="544.43" y2="892.72" stroke="#555" stroke-width="0.70"/>
<line x1="540.04" y1="788.00" x2="540.04" y2="819.98" stroke="#555" stroke-width="0.70"/>
<line x1="561.98" y1="788.98" x2="561.98" y2="819.98" stroke="#555" stroke-width="0.70"/>
<circle cx="521.02" cy="825.25" r="1.85" stroke="#2e2e2e" stroke-width="0.90" fill="#fff"/>
<path d="M520.01 825.25 L521.02 824.23 L522.04 825.25 L521.02 826.26 Z" stroke="#2e2e2e" stroke-width="0.50" fill="none" />
<circle cx="521.02" cy="897.00" r="1.85" stroke="#2e2e2e" stroke-width="0.90" fill="#fff"/>
<path d="M520.01 897.00 L521.02 895.99 L522.04 897.00 L521.02 898.02 Z" stroke="#2e2e2e" stroke-width="0.50" fill="none" />
<circle cx="563.14" cy="825.25" r="1.85" stroke="#2e2e2e" stroke-width="0.90" fill="#fff"/>
<path d="M562.13 825.25 L563.14 824.23 L564.16 825.25 L563.14 826.26 Z" stroke="#2e2e2e" stroke-width="0.50" fill="none" />
<circle cx="563.14" cy="897.00" r="1.85" stroke="#2e2e2e" stroke-width="0.90" fill="#fff"/>
<path d="M562.13 897.00 L563.14 895.99 L564.16 897.00 L563.14 898.02 Z" stroke="#2e2e2e" stroke-width="0.50" fill="none" />
<line x1="520.25" y1="804.09" x2="538.38" y2="796.29" stroke="#444" stroke-width="0.55"/>
<line x1="520.25" y1="806.11" x2="538.13" y2="798.31" stroke="#444" stroke-width="0.55"/>
<line x1="520.25" y1="808.13" x2="537.88" y2="800.33" stroke="#444" stroke-width="0.55"/>
<line x1="520.25" y1="810.15" x2="537.63" y2="802.35" stroke="#444" stroke-width="0.55"/>
<line x1="520.25" y1="812.17" x2="537.38" y2="804.37" stroke="#444" stroke-width="0.55"/>
<line x1="520.25" y1="814.19" x2="537.13" y2="806.39" stroke="#444" stroke-width="0.55"/>
<line x1="520.25" y1="816.21" x2="536.88" y2="808.41" stroke="#444" stroke-width="0.55"/>
<line x1="520.25" y1="818.23" x2="536.62" y2="810.42" stroke="#444" stroke-width="0.55"/>
<path d="M538.38 788.98 Q539.06 803.60 536.62 810.91 L520.05 818.23" stroke="#555" stroke-width="0.70" fill="none" />
<line x1="538.38" y1="788.98" x2="538.38" y2="797.75" stroke="#555" stroke-width="0.70"/>
<circle cx="524.73" cy="794.83" r="3.61" stroke="#2e2e2e" stroke-width="1.00" fill="#fff"/>
<circle cx="524.73" cy="794.83" r="1.07" stroke="#2e2e2e" stroke-width="0.50" fill="none"/>
<line x1="567.83" y1="852.84" x2="567.83" y2="899.64" stroke="#555" stroke-width="0.70"/>
<path d="M518.10 851.18 L509.91 851.18 L509.91 901.39 L518.10 901.39" stroke="#2e2e2e" stroke-width="1.20" fill="#fff" />
<path d="M509.91 868.83 L479.88 868.83 Q478.71 868.83 478.71 870.00 L478.71 882.48 Q478.71 883.65 479.88 883.65 L509.91 883.65" stroke="#2e2e2e" stroke-width="1.20" fill="#fff" />
<line x1="508.74" y1="868.83" x2="508.74" y2="883.65" stroke="#555" stroke-width="0.70"/>
<line x1="470.00" y1="880.20" x2="600.00" y2="880.20" stroke="#555" stroke-width="0.70" stroke-dasharray="1.5 1.8"/>
<rect x="567.90" y="789.30" width="6.10" height="60.20" stroke="#2a2a2a" stroke-width="0.90" fill="#fff"/>
<path d="M574 798.5 L590 804 L594 806 L594 828.6 L590 831 L574 838.5" stroke="#2a2a2a" stroke-width="0.90" fill="#fff" />
<path d="M594 813 L610.5 813 L612.2 814.5 L612.2 821.7 L610.5 823.3 L594 823.3 Z" stroke="#2a2a2a" stroke-width="0.90" fill="#fff" />
<line x1="599.00" y1="813.00" x2="599.00" y2="823.30" stroke="#505050" stroke-width="0.60"/>
<line x1="600.00" y1="816.50" x2="612.00" y2="816.50" stroke="#505050" stroke-width="0.50" stroke-dasharray="1.2 1.2"/>
<line x1="568.70" y1="764.00" x2="568.70" y2="789.00" stroke="#404040" stroke-width="0.75"/>
<line x1="612.40" y1="764.00" x2="612.40" y2="813.00" stroke="#404040" stroke-width="0.75"/>
<line x1="594.90" y1="778.00" x2="594.90" y2="805.00" stroke="#404040" stroke-width="0.75"/>
<line x1="568.70" y1="767.80" x2="612.40" y2="767.80" stroke="#404040" stroke-width="0.75"/>
<path d="M568.70 767.80 L577.20 766.65 L577.20 768.95 Z" fill="#222"/>
<path d="M612.40 767.80 L603.90 768.95 L603.90 766.65 Z" fill="#222"/>
<text transform="translate(589.60,761.60) rotate(0.0) scale(1.080,1)" y="3.49" font-size="9.70" text-anchor="middle" fill="#1c1c1c">120</text>
<line x1="594.90" y1="782.00" x2="612.40" y2="782.00" stroke="#404040" stroke-width="0.75"/>
<path d="M594.90 782.00 L602.40 780.85 L602.40 783.15 Z" fill="#222"/>
<path d="M612.40 782.00 L604.90 783.15 L604.90 780.85 Z" fill="#222"/>
<text transform="translate(603.50,776.00) rotate(0.0) scale(1.080,1)" y="3.49" font-size="9.70" text-anchor="middle" fill="#1c1c1c">40</text>
<line x1="574.00" y1="789.30" x2="645.00" y2="789.30" stroke="#404040" stroke-width="0.75"/>
<line x1="575.00" y1="849.50" x2="645.00" y2="849.50" stroke="#404040" stroke-width="0.75"/>
<line x1="638.90" y1="789.30" x2="638.90" y2="849.50" stroke="#404040" stroke-width="0.75"/>
<path d="M638.90 789.30 L640.05 797.80 L637.75 797.80 Z" fill="#222"/>
<path d="M638.90 849.50 L637.75 841.00 L640.05 841.00 Z" fill="#222"/>
<text transform="translate(633.00,819.40) rotate(-90.0) scale(1.000,1)" y="3.49" font-size="9.70" text-anchor="middle" fill="#1c1c1c">Φ160</text>
<text transform="translate(624.50,841.00) rotate(0.0) scale(1.080,1)" y="3.49" font-size="9.70" text-anchor="middle" fill="#1c1c1c">M6</text>
<path d="M612.30 820.00 L617.00 845.50 L632.00 845.50" stroke="#404040" stroke-width="0.75" fill="none" />
<clipPath id="kc618895"><circle cx="618.50" cy="895.40" r="9.20"/></clipPath>
<path d="M590.90 904.60 L609.30 886.20 M593.30 904.60 L611.70 886.20 M595.70 904.60 L614.10 886.20 M598.10 904.60 L616.50 886.20 M600.50 904.60 L618.90 886.20 M602.90 904.60 L621.30 886.20 M605.30 904.60 L623.70 886.20 M607.70 904.60 L626.10 886.20 M610.10 904.60 L628.50 886.20 M612.50 904.60 L630.90 886.20 M614.90 904.60 L633.30 886.20 M617.30 904.60 L635.70 886.20 M619.70 904.60 L638.10 886.20 M622.10 904.60 L640.50 886.20 M624.50 904.60 L642.90 886.20 M626.90 904.60 L645.30 886.20" stroke="#555" stroke-width="0.55" clip-path="url(#kc618895)" fill="none"/>
<circle cx="618.50" cy="895.40" r="9.20" stroke="#2e2e2e" stroke-width="1.10" fill="none"/>
<rect x="616.90" y="885.70" width="3.20" height="2.80" stroke="#2e2e2e" stroke-width="0.80" fill="#fff"/>
<line x1="616.90" y1="885.20" x2="616.90" y2="876.20" stroke="#404040" stroke-width="0.75"/>
<line x1="620.10" y1="885.20" x2="620.10" y2="876.20" stroke="#404040" stroke-width="0.75"/>
<line x1="606.70" y1="878.30" x2="628.00" y2="878.30" stroke="#404040" stroke-width="0.75"/>
<path d="M616.90 878.30 L609.90 879.45 L609.90 877.15 Z" fill="#222"/>
<path d="M620.10 878.30 L627.10 877.15 L627.10 879.45 Z" fill="#222"/>
<text transform="translate(627.80,871.60) rotate(0.0) scale(1.080,1)" y="3.49" font-size="9.70" text-anchor="middle" fill="#1c1c1c">6</text>
<line x1="620.50" y1="885.40" x2="650.00" y2="885.40" stroke="#404040" stroke-width="0.75"/>
<line x1="620.50" y1="904.60" x2="650.00" y2="904.60" stroke="#404040" stroke-width="0.75"/>
<line x1="646.50" y1="864.00" x2="646.50" y2="905.00" stroke="#404040" stroke-width="0.75"/>
<path d="M646.50 885.40 L647.65 892.40 L645.35 892.40 Z" fill="#222"/>
<path d="M646.50 904.60 L645.35 897.60 L647.65 897.60 Z" fill="#222"/>
<text transform="translate(640.90,873.80) rotate(-90.0) scale(1.080,1)" y="3.49" font-size="9.70" text-anchor="middle" fill="#1c1c1c">21.5</text>
<line x1="609.30" y1="897.40" x2="609.30" y2="925.00" stroke="#404040" stroke-width="0.75"/>
<line x1="627.70" y1="897.40" x2="627.70" y2="925.00" stroke="#404040" stroke-width="0.75"/>
<line x1="600.00" y1="921.60" x2="661.70" y2="921.60" stroke="#404040" stroke-width="0.75"/>
<path d="M609.30 921.60 L601.80 922.75 L601.80 920.45 Z" fill="#222"/>
<path d="M627.70 921.60 L635.20 920.45 L635.20 922.75 Z" fill="#222"/>
<text transform="translate(645.60,915.00) rotate(0.0) scale(1.080,1)" y="3.49" font-size="9.70" text-anchor="middle" fill="#1c1c1c">Φ19k6</text>
<g style="mix-blend-mode:multiply">
<path fill="none" stroke="#e5e5e5" stroke-width="18.5" d="M405.5 466 C402 450 387 440.7 366 440.7 C328 440.7 309.7 484 309.7 551 M309.7 551 a52.3 51.3 0 1 0 104.6 0 a52.3 51.3 0 1 0 -104.6 0"/>
<path fill="#e5e5e5" d="M445.3 434.7 L554 434.7 L554 444 C522 482 497 540 488 604 L466 604 C473 546 497 492 528.3 453.3 L445.3 453.3 Z"/>
</g>
<defs><linearGradient id="lg1" x1="0" y1="0" x2="0" y2="1"><stop offset="0" stop-color="#7fd0f4"/><stop offset="0.45" stop-color="#5fa6e2"/><stop offset="1" stop-color="#4a84d2"/></linearGradient></defs>
<g style="mix-blend-mode:multiply" opacity="0.92">
<path fill="url(#lg1)" d="M293.6 582 C287 568 289 548 300 533 C308 523 318 518.5 330 518 C345 517.5 358 525 366 537 C372 546 373 558 370 570 C366 583 359 591 351.4 595.7 C345 588 342 572 343.5 560 C345 552 348 547 351.4 544.3 C344 540 336 540 330 541.4 C322 544 317 548 313 554 C305 562 298 572 293.6 582 Z"/>
<path fill="#4f8cd6" d="M310.7 562 C310 575 314 590 324.3 600 C320 590 318.5 575 321.4 557 C318 557 314 559 310.7 562 Z"/>
</g>
<path fill="#fff" d="M320.7 540.5 Q321.5 545.5 326.5 546.4 Q321.5 547.3 320.7 552.3 Q319.9 547.3 314.9 546.4 Q319.9 545.5 320.7 540.5 Z"/>
<g style="mix-blend-mode:multiply" opacity="0.78">
<text x="382.50 427.80 473.10" y="568.50" font-size="44" font-weight="bold" fill="#707070" style="stroke:#707070;stroke-width:1px">威尔科</text>
<circle cx="530.6" cy="530.3" r="8.6" fill="none" stroke="#808080" stroke-width="1.3"/>
<text x="530.6" y="535.2" font-size="13.5" text-anchor="middle" fill="#808080" style="stroke:none">R</text>
<text x="384" y="589.5" font-size="16.5" style="font-family:Liberation Serif,serif;stroke:none" fill="#8a8a8a" textLength="134" lengthAdjust="spacingAndGlyphs">WelcomeTransmission</text>
</g>
</svg>
</body></html>
